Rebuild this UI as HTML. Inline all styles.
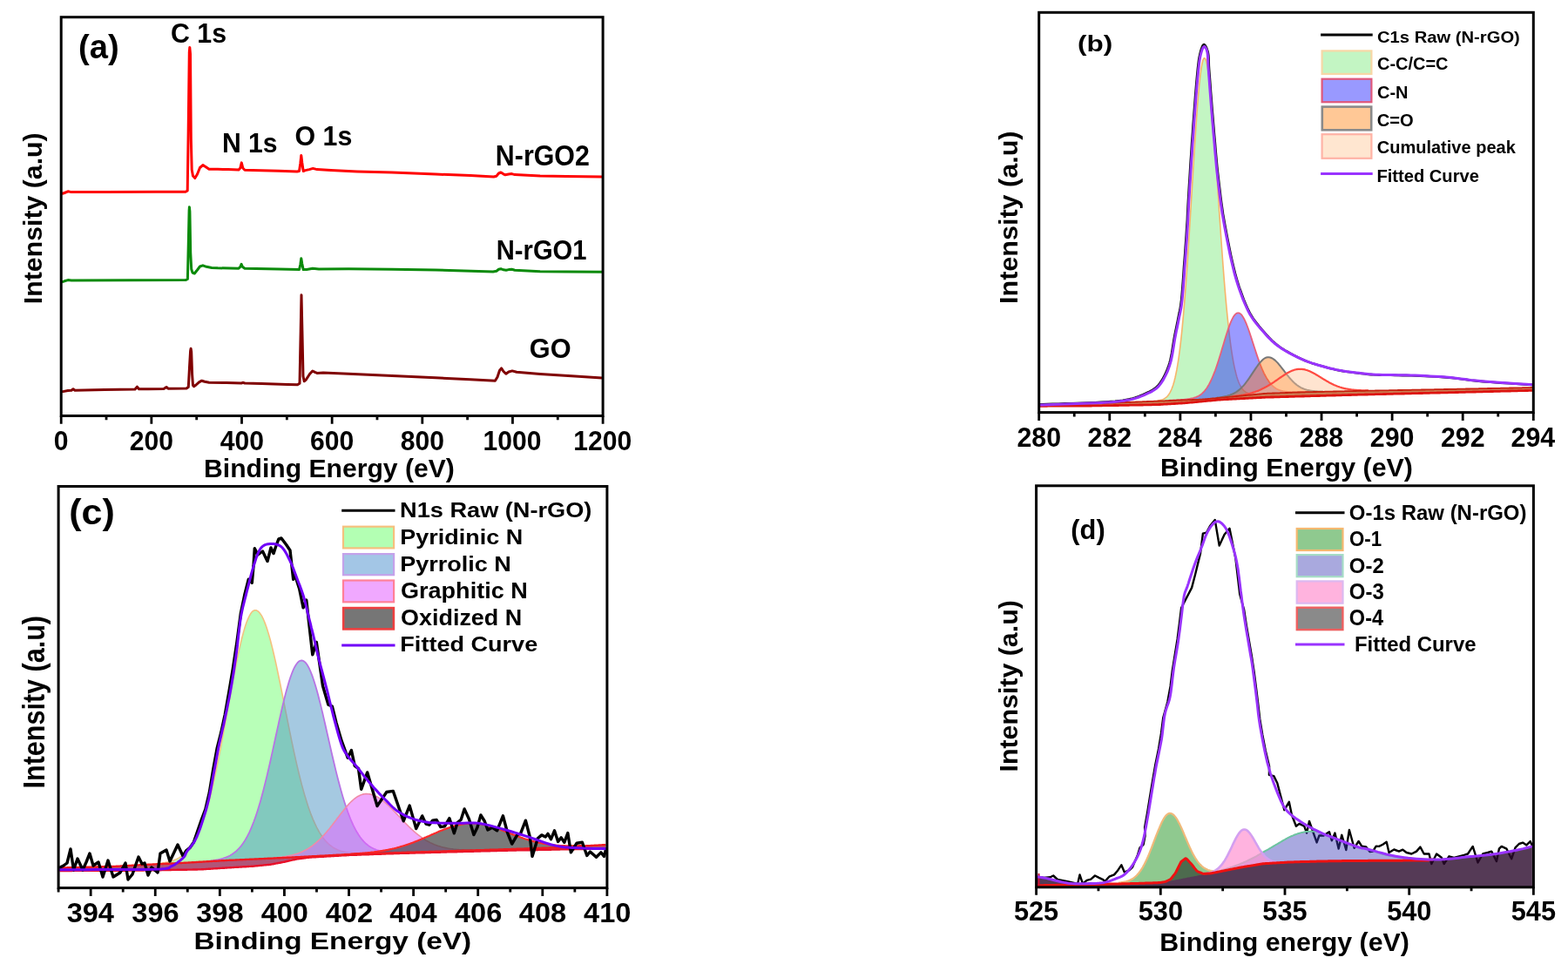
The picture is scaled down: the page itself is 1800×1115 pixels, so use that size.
<!DOCTYPE html>
<html><head><meta charset="utf-8"><title>XPS spectra</title>
<style>html,body{margin:0;padding:0;background:#fff;}svg{display:block;}</style></head>
<body><svg width="1800" height="1115" viewBox="0 0 1800 1115" font-family="'Liberation Sans', Arial, sans-serif" font-weight="bold">
<rect width="1800" height="1115" fill="#fff"/>
<path d="M71.0 222.5L74.0 221.5L78.0 219.8L82.0 220.6L120.0 220.5L180.0 220.3L213.0 220.2L215.2 219.0L216.2 150.0L217.3 60.0L217.8 54.5L218.5 62.0L219.3 160.0L220.2 195.0L221.5 202.0L223.8 204.6L226.5 200.0L229.5 192.5L232.9 189.6L236.0 191.5L240.0 194.3L244.0 194.2L250.0 194.3L262.0 194.6L274.0 195.0L275.8 193.0L277.3 186.9L278.8 193.0L281.0 195.2L300.0 195.8L320.0 196.3L341.0 196.9L343.5 196.5L344.8 188.0L345.8 178.4L346.8 187.0L348.2 196.5L350.4 195.6L355.0 194.6L359.3 193.4L364.0 194.6L380.0 195.6L410.0 196.9L450.0 198.0L500.0 200.0L540.0 201.6L566.7 203.0L570.0 202.2L572.5 199.0L575.0 198.0L577.5 199.6L580.0 200.8L584.0 200.0L587.5 199.6L591.0 200.6L620.0 202.0L650.0 202.5L691.0 203.0" fill="none" stroke="#ff0000" stroke-width="3.0" stroke-linejoin="round"/>
<path d="M71.0 323.8L74.0 322.8L78.0 321.6L82.0 322.0L150.0 321.8L213.0 321.6L215.4 320.5L216.3 280.0L217.1 242.0L217.4 237.8L217.9 243.0L218.7 290.0L219.7 309.0L221.0 313.0L223.3 314.0L226.5 310.0L229.5 306.0L232.9 304.8L237.0 306.3L243.0 307.4L250.0 307.8L274.0 308.2L275.8 306.5L277.1 303.4L278.5 306.5L281.0 308.3L320.0 309.0L343.5 309.6L344.8 304.0L345.8 296.8L346.8 303.0L348.2 309.6L352.0 309.5L359.0 308.3L366.0 308.9L400.0 308.7L450.0 309.2L500.0 310.0L566.0 312.0L570.0 311.2L572.5 309.3L575.0 308.7L578.0 309.8L581.0 310.2L584.0 309.6L587.5 309.2L591.0 310.2L620.0 311.7L650.0 311.9L691.0 312.2" fill="none" stroke="#0a8a0a" stroke-width="3.0" stroke-linejoin="round"/>
<path d="M71.0 449.9L78.0 448.5L82.0 448.3L84.0 446.8L86.0 448.3L120.0 447.5L155.0 447.0L157.4 444.2L159.5 446.8L170.0 446.8L188.0 446.4L191.0 444.5L193.0 446.2L214.0 446.0L216.3 444.5L217.6 420.0L218.6 403.0L219.1 400.3L219.7 404.0L220.6 430.0L221.5 442.5L222.6 443.7L225.0 442.0L228.5 438.8L231.6 437.2L235.0 438.3L240.0 439.2L260.0 439.6L277.0 440.0L279.0 439.3L281.0 440.0L300.0 440.5L330.0 441.5L341.5 441.8L344.0 440.2L345.2 380.0L346.0 338.7L346.9 380.0L348.0 432.0L349.2 437.8L351.5 435.8L355.5 429.5L358.8 426.0L361.5 427.4L363.9 428.4L371.1 427.9L400.0 429.2L450.0 431.5L500.0 433.8L540.0 435.8L568.4 437.2L571.0 433.0L573.5 425.5L575.6 422.9L578.0 426.5L580.8 429.3L584.0 427.0L588.0 425.9L593.1 427.3L620.0 429.5L660.0 432.0L691.0 434.1" fill="none" stroke="#800000" stroke-width="3.0" stroke-linejoin="round"/>
<rect x="70.2" y="19.7" width="621.9" height="457.8" fill="none" stroke="#000" stroke-width="3.0"/>
<path d="M70.2 477.5V486.8M173.85 477.5V486.8M277.5 477.5V486.8M381.15 477.5V486.8M484.8 477.5V486.8M588.45 477.5V486.8M692.1 477.5V486.8M122.03 477.5V482.3M225.68 477.5V482.3M329.32 477.5V482.3M432.97 477.5V482.3M536.62 477.5V482.3M640.28 477.5V482.3" stroke="#000" stroke-width="2.8" fill="none"/>
<text transform="translate(61.85,516.99) scale(0.9850,1)" font-size="30.56">0</text>
<text transform="translate(148.79,516.99) scale(0.9850,1)" font-size="30.56">200</text>
<text transform="translate(252.74,516.99) scale(0.9850,1)" font-size="30.56">400</text>
<text transform="translate(356.09,516.99) scale(0.9850,1)" font-size="30.56">600</text>
<text transform="translate(459.81,516.99) scale(0.9850,1)" font-size="30.56">800</text>
<text transform="translate(554.58,516.99) scale(0.9850,1)" font-size="30.56">1000</text>
<text transform="translate(658.23,516.99) scale(0.9850,1)" font-size="30.56">1200</text>
<text transform="translate(234.04,547.6) scale(0.9899,1)" font-size="30.43" fill="#000">Binding Energy (eV)</text>
<text transform="translate(47.59,349.17) rotate(-90) scale(1.0079,1)" font-size="30.05">Intensity (a.u)</text>
<text transform="translate(90.09,67.47) scale(0.9847,1)" font-size="38.72" fill="#000">(a)</text>
<text transform="translate(195.98,49.08) scale(0.9591,1)" font-size="31.69" fill="#000">C 1s</text>
<text transform="translate(254.94,174.79) scale(0.9689,1)" font-size="31.14" fill="#000">N 1s</text>
<text transform="translate(338.59,167.08) scale(0.9580,1)" font-size="31.69" fill="#000">O 1s</text>
<text transform="translate(568.83,189.67) scale(0.9337,1)" font-size="32.54" fill="#000">N-rGO2</text>
<text transform="translate(569.8,297.68) scale(0.9126,1)" font-size="31.97" fill="#000">N-rGO1</text>
<text transform="translate(607.87,410.59) scale(0.9912,1)" font-size="30.99" fill="#000">GO</text>
<path d="M1327.9 460.3L1328.9 460.2L1329.9 460.0L1330.9 459.8L1331.9 459.6L1332.9 459.4L1333.9 459.1L1334.9 458.7L1335.9 458.2L1336.9 457.6L1337.9 457.0L1338.9 456.2L1339.9 455.2L1340.9 454.1L1341.9 452.7L1342.9 451.1L1343.9 449.2L1344.9 447.0L1345.9 444.4L1346.9 441.4L1347.9 438.0L1348.9 434.0L1349.9 429.5L1350.9 424.5L1351.9 418.7L1352.9 412.3L1353.9 405.1L1354.9 397.1L1355.9 388.4L1356.9 378.8L1357.9 368.4L1358.9 357.1L1359.9 345.0L1360.9 332.1L1361.9 318.5L1362.9 304.1L1363.9 289.1L1364.9 273.5L1365.9 257.5L1366.9 241.2L1367.9 224.7L1368.9 208.2L1369.9 191.8L1370.9 175.7L1371.9 160.1L1372.9 145.2L1373.9 131.1L1374.9 118.0L1375.9 106.0L1376.9 95.5L1377.9 86.4L1378.9 78.9L1379.9 73.2L1380.9 69.2L1381.9 67.0L1382.9 66.7L1383.9 68.0L1384.9 71.0L1385.9 75.5L1386.9 81.5L1387.9 88.9L1388.9 97.6L1389.9 107.6L1390.9 118.7L1391.9 130.8L1392.9 143.7L1393.9 157.4L1394.9 171.6L1395.9 186.3L1396.9 201.2L1397.9 216.3L1398.9 231.5L1399.9 246.5L1400.9 261.3L1401.9 275.8L1402.9 289.9L1403.9 303.6L1404.9 316.6L1405.9 329.1L1406.9 340.9L1407.9 352.0L1408.9 362.4L1409.9 372.1L1410.9 381.1L1411.9 389.4L1412.9 397.0L1413.9 403.9L1414.9 410.1L1415.9 415.8L1416.9 420.8L1417.9 425.3L1418.9 429.3L1419.9 432.9L1420.9 436.0L1421.9 438.7L1422.9 441.0L1423.9 443.0L1424.9 444.8L1425.9 446.3L1426.9 447.5L1427.9 448.6L1428.9 449.4L1429.9 450.2L1430.9 450.8L1431.9 451.2L1432.9 451.6L1433.9 451.9L1434.9 452.2L1435.9 452.3L1436.9 452.5L1437.9 452.5L1438.9 452.6L1439.9 452.6L1440.9 452.6L1441.9 452.6L1441.9 452.9L1440.9 453.0L1439.9 453.1L1438.9 453.2L1437.9 453.3L1436.9 453.4L1435.9 453.5L1434.9 453.6L1433.9 453.7L1432.9 453.7L1431.9 453.8L1430.9 453.9L1429.9 454.0L1428.9 454.1L1427.9 454.2L1426.9 454.3L1425.9 454.4L1424.9 454.5L1423.9 454.6L1422.9 454.7L1421.9 454.8L1420.9 454.9L1419.9 455.0L1418.9 455.1L1417.9 455.2L1416.9 455.3L1415.9 455.4L1414.9 455.5L1413.9 455.5L1412.9 455.6L1411.9 455.7L1410.9 455.8L1409.9 455.9L1408.9 456.0L1407.9 456.1L1406.9 456.2L1405.9 456.3L1404.9 456.4L1403.9 456.4L1402.9 456.5L1401.9 456.6L1400.9 456.7L1399.9 456.8L1398.9 456.9L1397.9 457.0L1396.9 457.1L1395.9 457.2L1394.9 457.3L1393.9 457.3L1392.9 457.4L1391.9 457.5L1390.9 457.6L1389.9 457.7L1388.9 457.8L1387.9 457.9L1386.9 458.0L1385.9 458.1L1384.9 458.2L1383.9 458.2L1382.9 458.3L1381.9 458.4L1380.9 458.5L1379.9 458.6L1378.9 458.6L1377.9 458.7L1376.9 458.7L1375.9 458.8L1374.9 458.8L1373.9 458.8L1372.9 458.9L1371.9 458.9L1370.9 458.9L1369.9 459.0L1368.9 459.0L1367.9 459.1L1366.9 459.1L1365.9 459.1L1364.9 459.2L1363.9 459.2L1362.9 459.3L1361.9 459.3L1360.9 459.3L1359.9 459.4L1358.9 459.4L1357.9 459.4L1356.9 459.5L1355.9 459.5L1354.9 459.6L1353.9 459.6L1352.9 459.6L1351.9 459.7L1350.9 459.7L1349.9 459.8L1348.9 459.8L1347.9 459.8L1346.9 459.9L1345.9 459.9L1344.9 459.9L1343.9 460.0L1342.9 460.0L1341.9 460.1L1340.9 460.1L1339.9 460.1L1338.9 460.2L1337.9 460.2L1336.9 460.3L1335.9 460.3L1334.9 460.3L1333.9 460.4L1332.9 460.4L1331.9 460.4L1330.9 460.5L1329.9 460.5L1328.9 460.6L1327.9 460.6Z" fill="#c3f5c3" stroke="none" />
<path d="M1327.9 460.3L1328.9 460.2L1329.9 460.0L1330.9 459.8L1331.9 459.6L1332.9 459.4L1333.9 459.1L1334.9 458.7L1335.9 458.2L1336.9 457.6L1337.9 457.0L1338.9 456.2L1339.9 455.2L1340.9 454.1L1341.9 452.7L1342.9 451.1L1343.9 449.2L1344.9 447.0L1345.9 444.4L1346.9 441.4L1347.9 438.0L1348.9 434.0L1349.9 429.5L1350.9 424.5L1351.9 418.7L1352.9 412.3L1353.9 405.1L1354.9 397.1L1355.9 388.4L1356.9 378.8L1357.9 368.4L1358.9 357.1L1359.9 345.0L1360.9 332.1L1361.9 318.5L1362.9 304.1L1363.9 289.1L1364.9 273.5L1365.9 257.5L1366.9 241.2L1367.9 224.7L1368.9 208.2L1369.9 191.8L1370.9 175.7L1371.9 160.1L1372.9 145.2L1373.9 131.1L1374.9 118.0L1375.9 106.0L1376.9 95.5L1377.9 86.4L1378.9 78.9L1379.9 73.2L1380.9 69.2L1381.9 67.0L1382.9 66.7L1383.9 68.0L1384.9 71.0L1385.9 75.5L1386.9 81.5L1387.9 88.9L1388.9 97.6L1389.9 107.6L1390.9 118.7L1391.9 130.8L1392.9 143.7L1393.9 157.4L1394.9 171.6L1395.9 186.3L1396.9 201.2L1397.9 216.3L1398.9 231.5L1399.9 246.5L1400.9 261.3L1401.9 275.8L1402.9 289.9L1403.9 303.6L1404.9 316.6L1405.9 329.1L1406.9 340.9L1407.9 352.0L1408.9 362.4L1409.9 372.1L1410.9 381.1L1411.9 389.4L1412.9 397.0L1413.9 403.9L1414.9 410.1L1415.9 415.8L1416.9 420.8L1417.9 425.3L1418.9 429.3L1419.9 432.9L1420.9 436.0L1421.9 438.7L1422.9 441.0L1423.9 443.0L1424.9 444.8L1425.9 446.3L1426.9 447.5L1427.9 448.6L1428.9 449.4L1429.9 450.2L1430.9 450.8L1431.9 451.2L1432.9 451.6L1433.9 451.9L1434.9 452.2L1435.9 452.3L1436.9 452.5L1437.9 452.5L1438.9 452.6L1439.9 452.6L1440.9 452.6L1441.9 452.6" fill="none" stroke="#f6b56a" stroke-width="1.6" stroke-linejoin="round"/>
<path d="M1340.9 459.8L1341.9 459.8L1342.9 459.7L1343.9 459.7L1344.9 459.6L1345.9 459.6L1346.9 459.5L1347.9 459.5L1348.9 459.4L1349.9 459.4L1350.9 459.3L1351.9 459.2L1352.9 459.2L1353.9 459.1L1354.9 459.1L1355.9 459.0L1356.9 458.9L1357.9 458.9L1358.9 458.8L1359.9 458.7L1360.9 458.6L1361.9 458.5L1362.9 458.4L1363.9 458.2L1364.9 458.1L1365.9 457.9L1366.9 457.7L1367.9 457.5L1368.9 457.3L1369.9 457.0L1370.9 456.7L1371.9 456.4L1372.9 456.1L1373.9 455.6L1374.9 455.2L1375.9 454.7L1376.9 454.1L1377.9 453.4L1378.9 452.7L1379.9 451.9L1380.9 450.9L1381.9 449.9L1382.9 448.8L1383.9 447.5L1384.9 446.2L1385.9 444.7L1386.9 443.1L1387.9 441.4L1388.9 439.5L1389.9 437.5L1390.9 435.4L1391.9 433.1L1392.9 430.7L1393.9 428.2L1394.9 425.6L1395.9 422.8L1396.9 419.9L1397.9 416.9L1398.9 413.8L1399.9 410.6L1400.9 407.3L1401.9 404.0L1402.9 400.6L1403.9 397.3L1404.9 393.9L1405.9 390.6L1406.9 387.3L1407.9 384.1L1408.9 380.9L1409.9 377.9L1410.9 375.1L1411.9 372.4L1412.9 369.9L1413.9 367.6L1414.9 365.6L1415.9 363.8L1416.9 362.3L1417.9 361.1L1418.9 360.2L1419.9 359.6L1420.9 359.3L1421.9 359.3L1422.9 359.7L1423.9 360.3L1424.9 361.2L1425.9 362.4L1426.9 363.9L1427.9 365.7L1428.9 367.6L1429.9 369.8L1430.9 372.2L1431.9 374.8L1432.9 377.5L1433.9 380.3L1434.9 383.3L1435.9 386.3L1436.9 389.4L1437.9 392.5L1438.9 395.6L1439.9 398.7L1440.9 401.8L1441.9 404.9L1442.9 407.9L1443.9 410.8L1444.9 413.6L1445.9 416.4L1446.9 419.0L1447.9 421.5L1448.9 423.9L1449.9 426.1L1450.9 428.3L1451.9 430.3L1452.9 432.1L1453.9 433.9L1454.9 435.6L1455.9 437.1L1456.9 438.6L1457.9 439.9L1458.9 441.1L1459.9 442.2L1460.9 443.1L1461.9 444.0L1462.9 444.8L1463.9 445.5L1464.9 446.2L1465.9 446.7L1466.9 447.2L1467.9 447.7L1468.9 448.1L1469.9 448.4L1470.9 448.7L1471.9 448.9L1472.9 449.2L1473.9 449.3L1474.9 449.5L1475.9 449.6L1476.9 449.7L1477.9 449.8L1478.9 449.9L1479.9 450.0L1480.9 450.0L1481.9 450.0L1482.9 450.1L1483.9 450.1L1484.9 450.1L1485.9 450.1L1486.9 450.1L1487.9 450.1L1488.9 450.1L1489.9 450.1L1490.9 450.1L1491.9 450.1L1492.9 450.0L1493.9 450.0L1494.9 450.0L1495.9 450.0L1496.9 450.0L1497.9 449.9L1498.9 449.9L1499.9 449.9L1500.9 449.9L1501.9 449.9L1502.9 449.8L1502.9 450.1L1501.9 450.2L1500.9 450.2L1499.9 450.2L1498.9 450.2L1497.9 450.3L1496.9 450.3L1495.9 450.3L1494.9 450.4L1493.9 450.4L1492.9 450.4L1491.9 450.5L1490.9 450.5L1489.9 450.5L1488.9 450.6L1487.9 450.6L1486.9 450.6L1485.9 450.7L1484.9 450.7L1483.9 450.7L1482.9 450.8L1481.9 450.8L1480.9 450.9L1479.9 450.9L1478.9 450.9L1477.9 451.0L1476.9 451.0L1475.9 451.0L1474.9 451.1L1473.9 451.1L1472.9 451.1L1471.9 451.2L1470.9 451.2L1469.9 451.2L1468.9 451.3L1467.9 451.3L1466.9 451.3L1465.9 451.4L1464.9 451.4L1463.9 451.4L1462.9 451.5L1461.9 451.5L1460.9 451.5L1459.9 451.6L1458.9 451.6L1457.9 451.6L1456.9 451.7L1455.9 451.7L1454.9 451.7L1453.9 451.8L1452.9 451.8L1451.9 451.9L1450.9 452.0L1449.9 452.1L1448.9 452.2L1447.9 452.3L1446.9 452.4L1445.9 452.5L1444.9 452.6L1443.9 452.7L1442.9 452.8L1441.9 452.9L1440.9 453.0L1439.9 453.1L1438.9 453.2L1437.9 453.3L1436.9 453.4L1435.9 453.5L1434.9 453.6L1433.9 453.7L1432.9 453.7L1431.9 453.8L1430.9 453.9L1429.9 454.0L1428.9 454.1L1427.9 454.2L1426.9 454.3L1425.9 454.4L1424.9 454.5L1423.9 454.6L1422.9 454.7L1421.9 454.8L1420.9 454.9L1419.9 455.0L1418.9 455.1L1417.9 455.2L1416.9 455.3L1415.9 455.4L1414.9 455.5L1413.9 455.5L1412.9 455.6L1411.9 455.7L1410.9 455.8L1409.9 455.9L1408.9 456.0L1407.9 456.1L1406.9 456.2L1405.9 456.3L1404.9 456.4L1403.9 456.4L1402.9 456.5L1401.9 456.6L1400.9 456.7L1399.9 456.8L1398.9 456.9L1397.9 457.0L1396.9 457.1L1395.9 457.2L1394.9 457.3L1393.9 457.3L1392.9 457.4L1391.9 457.5L1390.9 457.6L1389.9 457.7L1388.9 457.8L1387.9 457.9L1386.9 458.0L1385.9 458.1L1384.9 458.2L1383.9 458.2L1382.9 458.3L1381.9 458.4L1380.9 458.5L1379.9 458.6L1378.9 458.6L1377.9 458.7L1376.9 458.7L1375.9 458.8L1374.9 458.8L1373.9 458.8L1372.9 458.9L1371.9 458.9L1370.9 458.9L1369.9 459.0L1368.9 459.0L1367.9 459.1L1366.9 459.1L1365.9 459.1L1364.9 459.2L1363.9 459.2L1362.9 459.3L1361.9 459.3L1360.9 459.3L1359.9 459.4L1358.9 459.4L1357.9 459.4L1356.9 459.5L1355.9 459.5L1354.9 459.6L1353.9 459.6L1352.9 459.6L1351.9 459.7L1350.9 459.7L1349.9 459.8L1348.9 459.8L1347.9 459.8L1346.9 459.9L1345.9 459.9L1344.9 459.9L1343.9 460.0L1342.9 460.0L1341.9 460.1L1340.9 460.1Z" fill="rgba(30,30,255,0.45)" stroke="none" />
<path d="M1340.9 459.8L1341.9 459.8L1342.9 459.7L1343.9 459.7L1344.9 459.6L1345.9 459.6L1346.9 459.5L1347.9 459.5L1348.9 459.4L1349.9 459.4L1350.9 459.3L1351.9 459.2L1352.9 459.2L1353.9 459.1L1354.9 459.1L1355.9 459.0L1356.9 458.9L1357.9 458.9L1358.9 458.8L1359.9 458.7L1360.9 458.6L1361.9 458.5L1362.9 458.4L1363.9 458.2L1364.9 458.1L1365.9 457.9L1366.9 457.7L1367.9 457.5L1368.9 457.3L1369.9 457.0L1370.9 456.7L1371.9 456.4L1372.9 456.1L1373.9 455.6L1374.9 455.2L1375.9 454.7L1376.9 454.1L1377.9 453.4L1378.9 452.7L1379.9 451.9L1380.9 450.9L1381.9 449.9L1382.9 448.8L1383.9 447.5L1384.9 446.2L1385.9 444.7L1386.9 443.1L1387.9 441.4L1388.9 439.5L1389.9 437.5L1390.9 435.4L1391.9 433.1L1392.9 430.7L1393.9 428.2L1394.9 425.6L1395.9 422.8L1396.9 419.9L1397.9 416.9L1398.9 413.8L1399.9 410.6L1400.9 407.3L1401.9 404.0L1402.9 400.6L1403.9 397.3L1404.9 393.9L1405.9 390.6L1406.9 387.3L1407.9 384.1L1408.9 380.9L1409.9 377.9L1410.9 375.1L1411.9 372.4L1412.9 369.9L1413.9 367.6L1414.9 365.6L1415.9 363.8L1416.9 362.3L1417.9 361.1L1418.9 360.2L1419.9 359.6L1420.9 359.3L1421.9 359.3L1422.9 359.7L1423.9 360.3L1424.9 361.2L1425.9 362.4L1426.9 363.9L1427.9 365.7L1428.9 367.6L1429.9 369.8L1430.9 372.2L1431.9 374.8L1432.9 377.5L1433.9 380.3L1434.9 383.3L1435.9 386.3L1436.9 389.4L1437.9 392.5L1438.9 395.6L1439.9 398.7L1440.9 401.8L1441.9 404.9L1442.9 407.9L1443.9 410.8L1444.9 413.6L1445.9 416.4L1446.9 419.0L1447.9 421.5L1448.9 423.9L1449.9 426.1L1450.9 428.3L1451.9 430.3L1452.9 432.1L1453.9 433.9L1454.9 435.6L1455.9 437.1L1456.9 438.6L1457.9 439.9L1458.9 441.1L1459.9 442.2L1460.9 443.1L1461.9 444.0L1462.9 444.8L1463.9 445.5L1464.9 446.2L1465.9 446.7L1466.9 447.2L1467.9 447.7L1468.9 448.1L1469.9 448.4L1470.9 448.7L1471.9 448.9L1472.9 449.2L1473.9 449.3L1474.9 449.5L1475.9 449.6L1476.9 449.7L1477.9 449.8L1478.9 449.9L1479.9 450.0L1480.9 450.0L1481.9 450.0L1482.9 450.1L1483.9 450.1L1484.9 450.1L1485.9 450.1L1486.9 450.1L1487.9 450.1L1488.9 450.1L1489.9 450.1L1490.9 450.1L1491.9 450.1L1492.9 450.0L1493.9 450.0L1494.9 450.0L1495.9 450.0L1496.9 450.0L1497.9 449.9L1498.9 449.9L1499.9 449.9L1500.9 449.9L1501.9 449.9L1502.9 449.8" fill="none" stroke="#e8607a" stroke-width="1.8" stroke-linejoin="round"/>
<path d="M1395.9 456.9L1396.9 456.8L1397.9 456.6L1398.9 456.5L1399.9 456.4L1400.9 456.2L1401.9 456.1L1402.9 455.9L1403.9 455.7L1404.9 455.5L1405.9 455.3L1406.9 455.1L1407.9 454.9L1408.9 454.6L1409.9 454.3L1410.9 454.0L1411.9 453.7L1412.9 453.3L1413.9 452.9L1414.9 452.5L1415.9 452.0L1416.9 451.5L1417.9 450.9L1418.9 450.3L1419.9 449.6L1420.9 448.9L1421.9 448.1L1422.9 447.3L1423.9 446.4L1424.9 445.5L1425.9 444.4L1426.9 443.4L1427.9 442.3L1428.9 441.1L1429.9 439.8L1430.9 438.5L1431.9 437.2L1432.9 435.8L1433.9 434.4L1434.9 432.9L1435.9 431.4L1436.9 429.9L1437.9 428.4L1438.9 426.9L1439.9 425.4L1440.9 423.9L1441.9 422.4L1442.9 421.0L1443.9 419.6L1444.9 418.2L1445.9 417.0L1446.9 415.8L1447.9 414.7L1448.9 413.7L1449.9 412.8L1450.9 412.0L1451.9 411.3L1452.9 410.8L1453.9 410.5L1454.9 410.3L1455.9 410.2L1456.9 410.3L1457.9 410.4L1458.9 410.8L1459.9 411.2L1460.9 411.7L1461.9 412.4L1462.9 413.1L1463.9 413.9L1464.9 414.9L1465.9 415.9L1466.9 416.9L1467.9 418.1L1468.9 419.3L1469.9 420.5L1470.9 421.8L1471.9 423.1L1472.9 424.4L1473.9 425.7L1474.9 427.0L1475.9 428.3L1476.9 429.6L1477.9 430.9L1478.9 432.1L1479.9 433.3L1480.9 434.5L1481.9 435.6L1482.9 436.7L1483.9 437.8L1484.9 438.8L1485.9 439.7L1486.9 440.6L1487.9 441.4L1488.9 442.2L1489.9 442.9L1490.9 443.6L1491.9 444.2L1492.9 444.8L1493.9 445.3L1494.9 445.8L1495.9 446.2L1496.9 446.6L1497.9 447.0L1498.9 447.3L1499.9 447.6L1500.9 447.9L1501.9 448.1L1502.9 448.3L1503.9 448.5L1504.9 448.7L1505.9 448.8L1506.9 448.9L1507.9 449.1L1508.9 449.1L1509.9 449.2L1510.9 449.3L1511.9 449.3L1512.9 449.4L1513.9 449.4L1514.9 449.4L1515.9 449.5L1516.9 449.5L1517.9 449.5L1518.9 449.5L1518.9 449.8L1517.9 449.8L1516.9 449.8L1515.9 449.9L1514.9 449.9L1513.9 449.9L1512.9 449.9L1511.9 449.9L1510.9 450.0L1509.9 450.0L1508.9 450.0L1507.9 450.0L1506.9 450.1L1505.9 450.1L1504.9 450.1L1503.9 450.1L1502.9 450.1L1501.9 450.2L1500.9 450.2L1499.9 450.2L1498.9 450.2L1497.9 450.3L1496.9 450.3L1495.9 450.3L1494.9 450.4L1493.9 450.4L1492.9 450.4L1491.9 450.5L1490.9 450.5L1489.9 450.5L1488.9 450.6L1487.9 450.6L1486.9 450.6L1485.9 450.7L1484.9 450.7L1483.9 450.7L1482.9 450.8L1481.9 450.8L1480.9 450.9L1479.9 450.9L1478.9 450.9L1477.9 451.0L1476.9 451.0L1475.9 451.0L1474.9 451.1L1473.9 451.1L1472.9 451.1L1471.9 451.2L1470.9 451.2L1469.9 451.2L1468.9 451.3L1467.9 451.3L1466.9 451.3L1465.9 451.4L1464.9 451.4L1463.9 451.4L1462.9 451.5L1461.9 451.5L1460.9 451.5L1459.9 451.6L1458.9 451.6L1457.9 451.6L1456.9 451.7L1455.9 451.7L1454.9 451.7L1453.9 451.8L1452.9 451.8L1451.9 451.9L1450.9 452.0L1449.9 452.1L1448.9 452.2L1447.9 452.3L1446.9 452.4L1445.9 452.5L1444.9 452.6L1443.9 452.7L1442.9 452.8L1441.9 452.9L1440.9 453.0L1439.9 453.1L1438.9 453.2L1437.9 453.3L1436.9 453.4L1435.9 453.5L1434.9 453.6L1433.9 453.7L1432.9 453.7L1431.9 453.8L1430.9 453.9L1429.9 454.0L1428.9 454.1L1427.9 454.2L1426.9 454.3L1425.9 454.4L1424.9 454.5L1423.9 454.6L1422.9 454.7L1421.9 454.8L1420.9 454.9L1419.9 455.0L1418.9 455.1L1417.9 455.2L1416.9 455.3L1415.9 455.4L1414.9 455.5L1413.9 455.5L1412.9 455.6L1411.9 455.7L1410.9 455.8L1409.9 455.9L1408.9 456.0L1407.9 456.1L1406.9 456.2L1405.9 456.3L1404.9 456.4L1403.9 456.4L1402.9 456.5L1401.9 456.6L1400.9 456.7L1399.9 456.8L1398.9 456.9L1397.9 457.0L1396.9 457.1L1395.9 457.2Z" fill="rgba(255,120,10,0.42)" stroke="none" />
<path d="M1395.9 456.9L1396.9 456.8L1397.9 456.6L1398.9 456.5L1399.9 456.4L1400.9 456.2L1401.9 456.1L1402.9 455.9L1403.9 455.7L1404.9 455.5L1405.9 455.3L1406.9 455.1L1407.9 454.9L1408.9 454.6L1409.9 454.3L1410.9 454.0L1411.9 453.7L1412.9 453.3L1413.9 452.9L1414.9 452.5L1415.9 452.0L1416.9 451.5L1417.9 450.9L1418.9 450.3L1419.9 449.6L1420.9 448.9L1421.9 448.1L1422.9 447.3L1423.9 446.4L1424.9 445.5L1425.9 444.4L1426.9 443.4L1427.9 442.3L1428.9 441.1L1429.9 439.8L1430.9 438.5L1431.9 437.2L1432.9 435.8L1433.9 434.4L1434.9 432.9L1435.9 431.4L1436.9 429.9L1437.9 428.4L1438.9 426.9L1439.9 425.4L1440.9 423.9L1441.9 422.4L1442.9 421.0L1443.9 419.6L1444.9 418.2L1445.9 417.0L1446.9 415.8L1447.9 414.7L1448.9 413.7L1449.9 412.8L1450.9 412.0L1451.9 411.3L1452.9 410.8L1453.9 410.5L1454.9 410.3L1455.9 410.2L1456.9 410.3L1457.9 410.4L1458.9 410.8L1459.9 411.2L1460.9 411.7L1461.9 412.4L1462.9 413.1L1463.9 413.9L1464.9 414.9L1465.9 415.9L1466.9 416.9L1467.9 418.1L1468.9 419.3L1469.9 420.5L1470.9 421.8L1471.9 423.1L1472.9 424.4L1473.9 425.7L1474.9 427.0L1475.9 428.3L1476.9 429.6L1477.9 430.9L1478.9 432.1L1479.9 433.3L1480.9 434.5L1481.9 435.6L1482.9 436.7L1483.9 437.8L1484.9 438.8L1485.9 439.7L1486.9 440.6L1487.9 441.4L1488.9 442.2L1489.9 442.9L1490.9 443.6L1491.9 444.2L1492.9 444.8L1493.9 445.3L1494.9 445.8L1495.9 446.2L1496.9 446.6L1497.9 447.0L1498.9 447.3L1499.9 447.6L1500.9 447.9L1501.9 448.1L1502.9 448.3L1503.9 448.5L1504.9 448.7L1505.9 448.8L1506.9 448.9L1507.9 449.1L1508.9 449.1L1509.9 449.2L1510.9 449.3L1511.9 449.3L1512.9 449.4L1513.9 449.4L1514.9 449.4L1515.9 449.5L1516.9 449.5L1517.9 449.5L1518.9 449.5" fill="none" stroke="#777" stroke-width="2.0" stroke-linejoin="round"/>
<path d="M1414.9 455.2L1415.9 455.1L1416.9 454.9L1417.9 454.8L1418.9 454.7L1419.9 454.6L1420.9 454.4L1421.9 454.3L1422.9 454.1L1423.9 454.0L1424.9 453.8L1425.9 453.7L1426.9 453.5L1427.9 453.3L1428.9 453.1L1429.9 452.9L1430.9 452.7L1431.9 452.5L1432.9 452.3L1433.9 452.0L1434.9 451.8L1435.9 451.5L1436.9 451.2L1437.9 450.9L1438.9 450.6L1439.9 450.3L1440.9 450.0L1441.9 449.6L1442.9 449.2L1443.9 448.9L1444.9 448.4L1445.9 448.0L1446.9 447.6L1447.9 447.1L1448.9 446.6L1449.9 446.1L1450.9 445.6L1451.9 445.0L1452.9 444.5L1453.9 443.9L1454.9 443.4L1455.9 442.8L1456.9 442.2L1457.9 441.6L1458.9 441.0L1459.9 440.4L1460.9 439.7L1461.9 439.1L1462.9 438.4L1463.9 437.7L1464.9 437.0L1465.9 436.3L1466.9 435.6L1467.9 434.9L1468.9 434.2L1469.9 433.5L1470.9 432.8L1471.9 432.1L1472.9 431.5L1473.9 430.8L1474.9 430.2L1475.9 429.5L1476.9 428.9L1477.9 428.3L1478.9 427.8L1479.9 427.2L1480.9 426.7L1481.9 426.3L1482.9 425.8L1483.9 425.4L1484.9 425.1L1485.9 424.7L1486.9 424.5L1487.9 424.2L1488.9 424.1L1489.9 423.9L1490.9 423.8L1491.9 423.8L1492.9 423.8L1493.9 423.8L1494.9 423.9L1495.9 424.1L1496.9 424.2L1497.9 424.4L1498.9 424.7L1499.9 425.0L1500.9 425.3L1501.9 425.7L1502.9 426.1L1503.9 426.5L1504.9 427.0L1505.9 427.5L1506.9 428.0L1507.9 428.5L1508.9 429.1L1509.9 429.6L1510.9 430.2L1511.9 430.8L1512.9 431.4L1513.9 432.0L1514.9 432.6L1515.9 433.2L1516.9 433.9L1517.9 434.5L1518.9 435.1L1519.9 435.7L1520.9 436.3L1521.9 436.9L1522.9 437.5L1523.9 438.1L1524.9 438.6L1525.9 439.2L1526.9 439.7L1527.9 440.2L1528.9 440.7L1529.9 441.2L1530.9 441.7L1531.9 442.2L1532.9 442.6L1533.9 443.0L1534.9 443.4L1535.9 443.8L1536.9 444.1L1537.9 444.5L1538.9 444.8L1539.9 445.1L1540.9 445.4L1541.9 445.6L1542.9 445.9L1543.9 446.1L1544.9 446.3L1545.9 446.5L1546.9 446.7L1547.9 446.9L1548.9 447.1L1549.9 447.2L1550.9 447.3L1551.9 447.5L1552.9 447.6L1553.9 447.7L1554.9 447.8L1555.9 447.9L1556.9 447.9L1557.9 448.0L1558.9 448.1L1559.9 448.1L1560.9 448.2L1561.9 448.2L1562.9 448.3L1563.9 448.3L1564.9 448.3L1565.9 448.3L1566.9 448.4L1567.9 448.4L1568.9 448.4L1569.9 448.4L1570.9 448.4L1570.9 448.7L1569.9 448.7L1568.9 448.7L1567.9 448.7L1566.9 448.8L1565.9 448.8L1564.9 448.8L1563.9 448.8L1562.9 448.8L1561.9 448.9L1560.9 448.9L1559.9 448.9L1558.9 448.9L1557.9 448.9L1556.9 449.0L1555.9 449.0L1554.9 449.0L1553.9 449.0L1552.9 449.1L1551.9 449.1L1550.9 449.1L1549.9 449.1L1548.9 449.1L1547.9 449.2L1546.9 449.2L1545.9 449.2L1544.9 449.2L1543.9 449.2L1542.9 449.3L1541.9 449.3L1540.9 449.3L1539.9 449.3L1538.9 449.4L1537.9 449.4L1536.9 449.4L1535.9 449.4L1534.9 449.4L1533.9 449.5L1532.9 449.5L1531.9 449.5L1530.9 449.5L1529.9 449.6L1528.9 449.6L1527.9 449.6L1526.9 449.6L1525.9 449.6L1524.9 449.7L1523.9 449.7L1522.9 449.7L1521.9 449.7L1520.9 449.7L1519.9 449.8L1518.9 449.8L1517.9 449.8L1516.9 449.8L1515.9 449.9L1514.9 449.9L1513.9 449.9L1512.9 449.9L1511.9 449.9L1510.9 450.0L1509.9 450.0L1508.9 450.0L1507.9 450.0L1506.9 450.1L1505.9 450.1L1504.9 450.1L1503.9 450.1L1502.9 450.1L1501.9 450.2L1500.9 450.2L1499.9 450.2L1498.9 450.2L1497.9 450.3L1496.9 450.3L1495.9 450.3L1494.9 450.4L1493.9 450.4L1492.9 450.4L1491.9 450.5L1490.9 450.5L1489.9 450.5L1488.9 450.6L1487.9 450.6L1486.9 450.6L1485.9 450.7L1484.9 450.7L1483.9 450.7L1482.9 450.8L1481.9 450.8L1480.9 450.9L1479.9 450.9L1478.9 450.9L1477.9 451.0L1476.9 451.0L1475.9 451.0L1474.9 451.1L1473.9 451.1L1472.9 451.1L1471.9 451.2L1470.9 451.2L1469.9 451.2L1468.9 451.3L1467.9 451.3L1466.9 451.3L1465.9 451.4L1464.9 451.4L1463.9 451.4L1462.9 451.5L1461.9 451.5L1460.9 451.5L1459.9 451.6L1458.9 451.6L1457.9 451.6L1456.9 451.7L1455.9 451.7L1454.9 451.7L1453.9 451.8L1452.9 451.8L1451.9 451.9L1450.9 452.0L1449.9 452.1L1448.9 452.2L1447.9 452.3L1446.9 452.4L1445.9 452.5L1444.9 452.6L1443.9 452.7L1442.9 452.8L1441.9 452.9L1440.9 453.0L1439.9 453.1L1438.9 453.2L1437.9 453.3L1436.9 453.4L1435.9 453.5L1434.9 453.6L1433.9 453.7L1432.9 453.7L1431.9 453.8L1430.9 453.9L1429.9 454.0L1428.9 454.1L1427.9 454.2L1426.9 454.3L1425.9 454.4L1424.9 454.5L1423.9 454.6L1422.9 454.7L1421.9 454.8L1420.9 454.9L1419.9 455.0L1418.9 455.1L1417.9 455.2L1416.9 455.3L1415.9 455.4L1414.9 455.5Z" fill="rgba(255,195,150,0.45)" stroke="none" />
<path d="M1414.9 455.2L1415.9 455.1L1416.9 454.9L1417.9 454.8L1418.9 454.7L1419.9 454.6L1420.9 454.4L1421.9 454.3L1422.9 454.1L1423.9 454.0L1424.9 453.8L1425.9 453.7L1426.9 453.5L1427.9 453.3L1428.9 453.1L1429.9 452.9L1430.9 452.7L1431.9 452.5L1432.9 452.3L1433.9 452.0L1434.9 451.8L1435.9 451.5L1436.9 451.2L1437.9 450.9L1438.9 450.6L1439.9 450.3L1440.9 450.0L1441.9 449.6L1442.9 449.2L1443.9 448.9L1444.9 448.4L1445.9 448.0L1446.9 447.6L1447.9 447.1L1448.9 446.6L1449.9 446.1L1450.9 445.6L1451.9 445.0L1452.9 444.5L1453.9 443.9L1454.9 443.4L1455.9 442.8L1456.9 442.2L1457.9 441.6L1458.9 441.0L1459.9 440.4L1460.9 439.7L1461.9 439.1L1462.9 438.4L1463.9 437.7L1464.9 437.0L1465.9 436.3L1466.9 435.6L1467.9 434.9L1468.9 434.2L1469.9 433.5L1470.9 432.8L1471.9 432.1L1472.9 431.5L1473.9 430.8L1474.9 430.2L1475.9 429.5L1476.9 428.9L1477.9 428.3L1478.9 427.8L1479.9 427.2L1480.9 426.7L1481.9 426.3L1482.9 425.8L1483.9 425.4L1484.9 425.1L1485.9 424.7L1486.9 424.5L1487.9 424.2L1488.9 424.1L1489.9 423.9L1490.9 423.8L1491.9 423.8L1492.9 423.8L1493.9 423.8L1494.9 423.9L1495.9 424.1L1496.9 424.2L1497.9 424.4L1498.9 424.7L1499.9 425.0L1500.9 425.3L1501.9 425.7L1502.9 426.1L1503.9 426.5L1504.9 427.0L1505.9 427.5L1506.9 428.0L1507.9 428.5L1508.9 429.1L1509.9 429.6L1510.9 430.2L1511.9 430.8L1512.9 431.4L1513.9 432.0L1514.9 432.6L1515.9 433.2L1516.9 433.9L1517.9 434.5L1518.9 435.1L1519.9 435.7L1520.9 436.3L1521.9 436.9L1522.9 437.5L1523.9 438.1L1524.9 438.6L1525.9 439.2L1526.9 439.7L1527.9 440.2L1528.9 440.7L1529.9 441.2L1530.9 441.7L1531.9 442.2L1532.9 442.6L1533.9 443.0L1534.9 443.4L1535.9 443.8L1536.9 444.1L1537.9 444.5L1538.9 444.8L1539.9 445.1L1540.9 445.4L1541.9 445.6L1542.9 445.9L1543.9 446.1L1544.9 446.3L1545.9 446.5L1546.9 446.7L1547.9 446.9L1548.9 447.1L1549.9 447.2L1550.9 447.3L1551.9 447.5L1552.9 447.6L1553.9 447.7L1554.9 447.8L1555.9 447.9L1556.9 447.9L1557.9 448.0L1558.9 448.1L1559.9 448.1L1560.9 448.2L1561.9 448.2L1562.9 448.3L1563.9 448.3L1564.9 448.3L1565.9 448.3L1566.9 448.4L1567.9 448.4L1568.9 448.4L1569.9 448.4L1570.9 448.4" fill="none" stroke="#ff4a40" stroke-width="2.2" stroke-linejoin="round"/>
<path d="M1193.9 466.3L1194.9 466.3L1195.9 466.3L1196.9 466.3L1197.9 466.3L1198.9 466.3L1199.9 466.3L1200.9 466.3L1201.9 466.3L1202.9 466.2L1203.9 466.2L1204.9 466.2L1205.9 466.2L1206.9 466.2L1207.9 466.2L1208.9 466.2L1209.9 466.2L1210.9 466.2L1211.9 466.2L1212.9 466.2L1213.9 466.2L1214.9 466.2L1215.9 466.2L1216.9 466.2L1217.9 466.2L1218.9 466.2L1219.9 466.2L1220.9 466.2L1221.9 466.1L1222.9 466.1L1223.9 466.1L1224.9 466.1L1225.9 466.1L1226.9 466.1L1227.9 466.1L1228.9 466.1L1229.9 466.1L1230.9 466.1L1231.9 466.1L1232.9 466.1L1233.9 466.1L1234.9 466.1L1235.9 466.1L1236.9 466.1L1237.9 466.1L1238.9 466.1L1239.9 466.1L1240.9 466.0L1241.9 466.0L1242.9 466.0L1243.9 466.0L1244.9 466.0L1245.9 466.0L1246.9 466.0L1247.9 466.0L1248.9 466.0L1249.9 466.0L1250.9 466.0L1251.9 466.0L1252.9 466.0L1253.9 465.9L1254.9 465.9L1255.9 465.9L1256.9 465.9L1257.9 465.9L1258.9 465.9L1259.9 465.8L1260.9 465.8L1261.9 465.8L1262.9 465.8L1263.9 465.8L1264.9 465.8L1265.9 465.7L1266.9 465.7L1267.9 465.7L1268.9 465.7L1269.9 465.7L1270.9 465.7L1271.9 465.6L1272.9 465.6L1273.9 465.6L1274.9 465.6L1275.9 465.6L1276.9 465.6L1277.9 465.6L1278.9 465.5L1279.9 465.5L1280.9 465.5L1281.9 465.5L1282.9 465.5L1283.9 465.5L1284.9 465.4L1285.9 465.4L1286.9 465.4L1287.9 465.4L1288.9 465.4L1289.9 465.4L1290.9 465.3L1291.9 465.3L1292.9 465.3L1293.9 465.3L1294.9 465.3L1295.9 465.3L1296.9 465.2L1297.9 465.2L1298.9 465.2L1299.9 465.2L1300.9 465.2L1301.9 465.2L1302.9 465.1L1303.9 465.1L1304.9 465.1L1305.9 465.1L1306.9 465.1L1307.9 465.0L1308.9 465.0L1309.9 465.0L1310.9 465.0L1311.9 465.0L1312.9 464.9L1313.9 464.9L1314.9 464.9L1315.9 464.9L1316.9 464.9L1317.9 464.8L1318.9 464.8L1319.9 464.8L1320.9 464.8L1321.9 464.8L1322.9 464.7L1323.9 464.7L1324.9 464.7L1325.9 464.7L1326.9 464.7L1327.9 464.6L1328.9 464.6L1329.9 464.6L1330.9 464.5L1331.9 464.5L1332.9 464.4L1333.9 464.4L1334.9 464.3L1335.9 464.2L1336.9 464.2L1337.9 464.1L1338.9 464.1L1339.9 464.0L1340.9 463.9L1341.9 463.9L1342.9 463.8L1343.9 463.8L1344.9 463.7L1345.9 463.6L1346.9 463.6L1347.9 463.5L1348.9 463.5L1349.9 463.4L1350.9 463.3L1351.9 463.3L1352.9 463.2L1353.9 463.2L1354.9 463.1L1355.9 463.0L1356.9 463.0L1357.9 462.9L1358.9 462.9L1359.9 462.8L1360.9 462.7L1361.9 462.6L1362.9 462.5L1363.9 462.4L1364.9 462.3L1365.9 462.2L1366.9 462.1L1367.9 462.0L1368.9 462.0L1369.9 461.9L1370.9 461.8L1371.9 461.7L1372.9 461.6L1373.9 461.5L1374.9 461.4L1375.9 461.3L1376.9 461.2L1377.9 461.1L1378.9 461.0L1379.9 460.9L1380.9 460.8L1381.9 460.7L1382.9 460.6L1383.9 460.5L1384.9 460.4L1385.9 460.3L1386.9 460.2L1387.9 460.1L1388.9 460.1L1389.9 460.0L1390.9 459.9L1391.9 459.8L1392.9 459.7L1393.9 459.6L1394.9 459.5L1395.9 459.4L1396.9 459.3L1397.9 459.2L1398.9 459.1L1399.9 459.0L1400.9 459.0L1401.9 458.9L1402.9 458.8L1403.9 458.8L1404.9 458.7L1405.9 458.7L1406.9 458.6L1407.9 458.6L1408.9 458.5L1409.9 458.5L1410.9 458.4L1411.9 458.4L1412.9 458.3L1413.9 458.3L1414.9 458.2L1415.9 458.2L1416.9 458.1L1417.9 458.1L1418.9 458.0L1419.9 457.9L1420.9 457.9L1421.9 457.8L1422.9 457.8L1423.9 457.7L1424.9 457.7L1425.9 457.6L1426.9 457.6L1427.9 457.5L1428.9 457.5L1429.9 457.4L1430.9 457.4L1431.9 457.3L1432.9 457.3L1433.9 457.2L1434.9 457.2L1435.9 457.1L1436.9 457.1L1437.9 457.0L1438.9 456.9L1439.9 456.9L1440.9 456.8L1441.9 456.8L1442.9 456.7L1443.9 456.7L1444.9 456.6L1445.9 456.6L1446.9 456.5L1447.9 456.5L1448.9 456.4L1449.9 456.4L1450.9 456.3L1451.9 456.3L1452.9 456.2L1453.9 456.2L1454.9 456.1L1455.9 456.1L1456.9 456.1L1457.9 456.1L1458.9 456.0L1459.9 456.0L1460.9 456.0L1461.9 456.0L1462.9 455.9L1463.9 455.9L1464.9 455.9L1465.9 455.8L1466.9 455.8L1467.9 455.8L1468.9 455.8L1469.9 455.7L1470.9 455.7L1471.9 455.7L1472.9 455.6L1473.9 455.6L1474.9 455.6L1475.9 455.6L1476.9 455.5L1477.9 455.5L1478.9 455.5L1479.9 455.4L1480.9 455.4L1481.9 455.4L1482.9 455.4L1483.9 455.3L1484.9 455.3L1485.9 455.3L1486.9 455.2L1487.9 455.2L1488.9 455.2L1489.9 455.2L1490.9 455.1L1491.9 455.1L1492.9 455.1L1493.9 455.1L1494.9 455.0L1495.9 455.0L1496.9 455.0L1497.9 454.9L1498.9 454.9L1499.9 454.9L1500.9 454.9L1501.9 454.8L1502.9 454.8L1503.9 454.8L1504.9 454.7L1505.9 454.7L1506.9 454.7L1507.9 454.7L1508.9 454.6L1509.9 454.6L1510.9 454.6L1511.9 454.5L1512.9 454.5L1513.9 454.5L1514.9 454.5L1515.9 454.4L1516.9 454.4L1517.9 454.4L1518.9 454.4L1519.9 454.3L1520.9 454.3L1521.9 454.3L1522.9 454.2L1523.9 454.2L1524.9 454.2L1525.9 454.2L1526.9 454.1L1527.9 454.1L1528.9 454.1L1529.9 454.0L1530.9 454.0L1531.9 454.0L1532.9 454.0L1533.9 453.9L1534.9 453.9L1535.9 453.9L1536.9 453.8L1537.9 453.8L1538.9 453.8L1539.9 453.8L1540.9 453.7L1541.9 453.7L1542.9 453.7L1543.9 453.7L1544.9 453.6L1545.9 453.6L1546.9 453.6L1547.9 453.5L1548.9 453.5L1549.9 453.5L1550.9 453.5L1551.9 453.4L1552.9 453.4L1553.9 453.4L1554.9 453.3L1555.9 453.3L1556.9 453.3L1557.9 453.3L1558.9 453.2L1559.9 453.2L1560.9 453.2L1561.9 453.2L1562.9 453.1L1563.9 453.1L1564.9 453.1L1565.9 453.1L1566.9 453.0L1567.9 453.0L1568.9 453.0L1569.9 453.0L1570.9 452.9L1571.9 452.9L1572.9 452.9L1573.9 452.9L1574.9 452.8L1575.9 452.8L1576.9 452.8L1577.9 452.8L1578.9 452.7L1579.9 452.7L1580.9 452.7L1581.9 452.7L1582.9 452.7L1583.9 452.6L1584.9 452.6L1585.9 452.6L1586.9 452.6L1587.9 452.5L1588.9 452.5L1589.9 452.5L1590.9 452.5L1591.9 452.4L1592.9 452.4L1593.9 452.4L1594.9 452.4L1595.9 452.3L1596.9 452.3L1597.9 452.3L1598.9 452.3L1599.9 452.2L1600.9 452.2L1601.9 452.2L1602.9 452.2L1603.9 452.1L1604.9 452.1L1605.9 452.1L1606.9 452.1L1607.9 452.1L1608.9 452.0L1609.9 452.0L1610.9 452.0L1611.9 452.0L1612.9 451.9L1613.9 451.9L1614.9 451.9L1615.9 451.9L1616.9 451.8L1617.9 451.8L1618.9 451.8L1619.9 451.8L1620.9 451.7L1621.9 451.7L1622.9 451.7L1623.9 451.7L1624.9 451.6L1625.9 451.6L1626.9 451.6L1627.9 451.6L1628.9 451.5L1629.9 451.5L1630.9 451.5L1631.9 451.5L1632.9 451.5L1633.9 451.4L1634.9 451.4L1635.9 451.4L1636.9 451.4L1637.9 451.3L1638.9 451.3L1639.9 451.3L1640.9 451.3L1641.9 451.2L1642.9 451.2L1643.9 451.2L1644.9 451.2L1645.9 451.1L1646.9 451.1L1647.9 451.1L1648.9 451.1L1649.9 451.0L1650.9 451.0L1651.9 451.0L1652.9 451.0L1653.9 450.9L1654.9 450.9L1655.9 450.9L1656.9 450.9L1657.9 450.9L1658.9 450.8L1659.9 450.8L1660.9 450.8L1661.9 450.8L1662.9 450.7L1663.9 450.7L1664.9 450.7L1665.9 450.7L1666.9 450.6L1667.9 450.6L1668.9 450.6L1669.9 450.6L1670.9 450.5L1671.9 450.5L1672.9 450.5L1673.9 450.5L1674.9 450.4L1675.9 450.4L1676.9 450.4L1677.9 450.4L1678.9 450.3L1679.9 450.3L1680.9 450.3L1681.9 450.3L1682.9 450.2L1683.9 450.2L1684.9 450.2L1685.9 450.2L1686.9 450.1L1687.9 450.1L1688.9 450.1L1689.9 450.1L1690.9 450.0L1691.9 450.0L1692.9 450.0L1693.9 450.0L1694.9 449.9L1695.9 449.9L1696.9 449.9L1697.9 449.9L1698.9 449.8L1699.9 449.8L1700.9 449.8L1701.9 449.8L1702.9 449.7L1703.9 449.7L1704.9 449.7L1705.9 449.7L1706.9 449.6L1707.9 449.6L1708.9 449.6L1709.9 449.6L1710.9 449.5L1711.9 449.5L1712.9 449.5L1713.9 449.5L1714.9 449.4L1715.9 449.4L1716.9 449.4L1717.9 449.4L1718.9 449.3L1719.9 449.3L1720.9 449.3L1721.9 449.3L1722.9 449.2L1723.9 449.2L1724.9 449.2L1725.9 449.2L1726.9 449.1L1727.9 449.1L1728.9 449.1L1729.9 449.1L1730.9 449.0L1731.9 449.0L1732.9 449.0L1733.9 449.0L1734.9 448.9L1735.9 448.9L1736.9 448.9L1737.9 448.9L1738.9 448.8L1739.9 448.8L1740.9 448.8L1741.9 448.8L1742.9 448.7L1743.9 448.7L1744.9 448.7L1745.9 448.7L1746.9 448.6L1747.9 448.6L1748.9 448.6L1749.9 448.6L1750.9 448.5L1751.9 448.5L1752.9 448.5L1753.9 448.5L1754.9 448.4L1755.9 448.4L1756.9 448.4L1757.9 448.4L1758.9 448.3 L1758.9 445.02 L1758.90 445.02 L1757.90 445.04 L1756.90 445.06 L1755.90 445.08 L1754.90 445.10 L1753.90 445.12 L1752.90 445.14 L1751.90 445.16 L1750.90 445.18 L1749.90 445.20 L1748.90 445.22 L1747.90 445.24 L1746.90 445.26 L1745.90 445.28 L1744.90 445.30 L1743.90 445.32 L1742.90 445.34 L1741.90 445.36 L1740.90 445.38 L1739.90 445.40 L1738.90 445.42 L1737.90 445.44 L1736.90 445.46 L1735.90 445.48 L1734.90 445.50 L1733.90 445.52 L1732.90 445.54 L1731.90 445.56 L1730.90 445.58 L1729.90 445.60 L1728.90 445.62 L1727.90 445.64 L1726.90 445.66 L1725.90 445.68 L1724.90 445.70 L1723.90 445.72 L1722.90 445.74 L1721.90 445.76 L1720.90 445.78 L1719.90 445.80 L1718.90 445.82 L1717.90 445.84 L1716.90 445.86 L1715.90 445.88 L1714.90 445.90 L1713.90 445.92 L1712.90 445.94 L1711.90 445.96 L1710.90 445.98 L1709.90 446.00 L1708.90 446.02 L1707.90 446.04 L1706.90 446.06 L1705.90 446.08 L1704.90 446.10 L1703.90 446.12 L1702.90 446.14 L1701.90 446.16 L1700.90 446.18 L1699.90 446.20 L1698.90 446.22 L1697.90 446.24 L1696.90 446.26 L1695.90 446.28 L1694.90 446.30 L1693.90 446.32 L1692.90 446.34 L1691.90 446.36 L1690.90 446.38 L1689.90 446.40 L1688.90 446.42 L1687.90 446.44 L1686.90 446.46 L1685.90 446.48 L1684.90 446.50 L1683.90 446.52 L1682.90 446.54 L1681.90 446.56 L1680.90 446.58 L1679.90 446.60 L1678.90 446.62 L1677.90 446.64 L1676.90 446.66 L1675.90 446.68 L1674.90 446.70 L1673.90 446.72 L1672.90 446.74 L1671.90 446.76 L1670.90 446.78 L1669.90 446.80 L1668.90 446.82 L1667.90 446.84 L1666.90 446.86 L1665.90 446.88 L1664.90 446.90 L1663.90 446.92 L1662.90 446.94 L1661.90 446.96 L1660.90 446.98 L1659.90 447.00 L1658.90 447.02 L1657.90 447.04 L1656.90 447.06 L1655.90 447.08 L1654.90 447.10 L1653.90 447.12 L1652.90 447.13 L1651.90 447.15 L1650.90 447.17 L1649.90 447.19 L1648.90 447.21 L1647.90 447.23 L1646.90 447.25 L1645.90 447.27 L1644.90 447.29 L1643.90 447.31 L1642.90 447.32 L1641.90 447.34 L1640.90 447.36 L1639.90 447.38 L1638.90 447.40 L1637.90 447.42 L1636.90 447.44 L1635.90 447.46 L1634.90 447.48 L1633.90 447.50 L1632.90 447.51 L1631.90 447.53 L1630.90 447.55 L1629.90 447.57 L1628.90 447.59 L1627.90 447.61 L1626.90 447.63 L1625.90 447.65 L1624.90 447.67 L1623.90 447.69 L1622.90 447.70 L1621.90 447.72 L1620.90 447.74 L1619.90 447.76 L1618.90 447.78 L1617.90 447.80 L1616.90 447.82 L1615.90 447.84 L1614.90 447.86 L1613.90 447.88 L1612.90 447.89 L1611.90 447.91 L1610.90 447.93 L1609.90 447.95 L1608.90 447.97 L1607.90 447.99 L1606.90 448.01 L1605.90 448.03 L1604.90 448.05 L1603.90 448.07 L1602.90 448.08 L1601.90 448.10 L1600.90 448.12 L1599.90 448.14 L1598.90 448.16 L1597.90 448.18 L1596.90 448.20 L1595.90 448.22 L1594.90 448.24 L1593.90 448.26 L1592.90 448.27 L1591.90 448.29 L1590.90 448.31 L1589.90 448.33 L1588.90 448.35 L1587.90 448.37 L1586.90 448.39 L1585.90 448.41 L1584.90 448.43 L1583.90 448.45 L1582.90 448.46 L1581.90 448.48 L1580.90 448.50 L1579.90 448.52 L1578.90 448.54 L1577.90 448.56 L1576.90 448.58 L1575.90 448.60 L1574.90 448.62 L1573.90 448.64 L1572.90 448.65 L1571.90 448.67 L1570.90 448.69 L1569.90 448.71 L1568.90 448.73 L1567.90 448.75 L1566.90 448.77 L1565.90 448.79 L1564.90 448.81 L1563.90 448.83 L1562.90 448.84 L1561.90 448.86 L1560.90 448.88 L1559.90 448.90 L1558.90 448.92 L1557.90 448.95 L1556.90 448.97 L1555.90 448.99 L1554.90 449.01 L1553.90 449.03 L1552.90 449.05 L1551.90 449.08 L1550.90 449.10 L1549.90 449.12 L1548.90 449.14 L1547.90 449.16 L1546.90 449.18 L1545.90 449.21 L1544.90 449.23 L1543.90 449.25 L1542.90 449.27 L1541.90 449.29 L1540.90 449.31 L1539.90 449.34 L1538.90 449.36 L1537.90 449.38 L1536.90 449.40 L1535.90 449.42 L1534.90 449.44 L1533.90 449.47 L1532.90 449.49 L1531.90 449.51 L1530.90 449.53 L1529.90 449.55 L1528.90 449.57 L1527.90 449.60 L1526.90 449.62 L1525.90 449.64 L1524.90 449.66 L1523.90 449.68 L1522.90 449.70 L1521.90 449.73 L1520.90 449.75 L1519.90 449.77 L1518.90 449.79 L1517.90 449.81 L1516.90 449.83 L1515.90 449.86 L1514.90 449.88 L1513.90 449.90 L1512.90 449.92 L1511.90 449.94 L1510.90 449.96 L1509.90 449.99 L1508.90 450.01 L1507.90 450.03 L1506.90 450.05 L1505.90 450.07 L1504.90 450.09 L1503.90 450.12 L1502.90 450.14 L1501.90 450.16 L1500.90 450.18 L1499.90 450.20 L1498.90 450.24 L1497.90 450.27 L1496.90 450.31 L1495.90 450.34 L1494.90 450.37 L1493.90 450.41 L1492.90 450.44 L1491.90 450.48 L1490.90 450.51 L1489.90 450.54 L1488.90 450.58 L1487.90 450.61 L1486.90 450.65 L1485.90 450.68 L1484.90 450.71 L1483.90 450.75 L1482.90 450.78 L1481.90 450.82 L1480.90 450.85 L1479.90 450.88 L1478.90 450.92 L1477.90 450.95 L1476.90 450.99 L1475.90 451.02 L1474.90 451.05 L1473.90 451.09 L1472.90 451.12 L1471.90 451.16 L1470.90 451.19 L1469.90 451.22 L1468.90 451.26 L1467.90 451.29 L1466.90 451.33 L1465.90 451.36 L1464.90 451.39 L1463.90 451.43 L1462.90 451.46 L1461.90 451.50 L1460.90 451.53 L1459.90 451.57 L1458.90 451.60 L1457.90 451.63 L1456.90 451.67 L1455.90 451.70 L1454.90 451.74 L1453.90 451.77 L1452.90 451.81 L1451.90 451.91 L1450.90 452.00 L1449.90 452.10 L1448.90 452.20 L1447.90 452.29 L1446.90 452.39 L1445.90 452.49 L1444.90 452.59 L1443.90 452.68 L1442.90 452.78 L1441.90 452.88 L1440.90 452.97 L1439.90 453.07 L1438.90 453.17 L1437.90 453.26 L1436.90 453.36 L1435.90 453.46 L1434.90 453.56 L1433.90 453.65 L1432.90 453.75 L1431.90 453.85 L1430.90 453.94 L1429.90 454.04 L1428.90 454.14 L1427.90 454.23 L1426.90 454.33 L1425.90 454.43 L1424.90 454.52 L1423.90 454.62 L1422.90 454.72 L1421.90 454.82 L1420.90 454.91 L1419.90 455.01 L1418.90 455.10 L1417.90 455.19 L1416.90 455.28 L1415.90 455.37 L1414.90 455.46 L1413.90 455.55 L1412.90 455.64 L1411.90 455.73 L1410.90 455.82 L1409.90 455.91 L1408.90 456.00 L1407.90 456.09 L1406.90 456.18 L1405.90 456.27 L1404.90 456.36 L1403.90 456.45 L1402.90 456.54 L1401.90 456.63 L1400.90 456.72 L1399.90 456.81 L1398.90 456.90 L1397.90 456.99 L1396.90 457.08 L1395.90 457.17 L1394.90 457.26 L1393.90 457.35 L1392.90 457.44 L1391.90 457.53 L1390.90 457.62 L1389.90 457.71 L1388.90 457.80 L1387.90 457.89 L1386.90 457.98 L1385.90 458.07 L1384.90 458.16 L1383.90 458.25 L1382.90 458.34 L1381.90 458.43 L1380.90 458.52 L1379.90 458.60 L1378.90 458.64 L1377.90 458.68 L1376.90 458.72 L1375.90 458.76 L1374.90 458.80 L1373.90 458.83 L1372.90 458.87 L1371.90 458.91 L1370.90 458.95 L1369.90 458.99 L1368.90 459.03 L1367.90 459.06 L1366.90 459.10 L1365.90 459.14 L1364.90 459.18 L1363.90 459.22 L1362.90 459.26 L1361.90 459.29 L1360.90 459.33 L1359.90 459.37 L1358.90 459.41 L1357.90 459.45 L1356.90 459.49 L1355.90 459.52 L1354.90 459.56 L1353.90 459.60 L1352.90 459.64 L1351.90 459.68 L1350.90 459.72 L1349.90 459.75 L1348.90 459.79 L1347.90 459.83 L1346.90 459.87 L1345.90 459.91 L1344.90 459.95 L1343.90 459.98 L1342.90 460.02 L1341.90 460.06 L1340.90 460.10 L1339.90 460.14 L1338.90 460.18 L1337.90 460.21 L1336.90 460.25 L1335.90 460.29 L1334.90 460.33 L1333.90 460.37 L1332.90 460.41 L1331.90 460.44 L1330.90 460.48 L1329.90 460.52 L1328.90 460.56 L1327.90 460.60 L1326.90 460.64 L1325.90 460.67 L1324.90 460.71 L1323.90 460.75 L1322.90 460.79 L1321.90 460.83 L1320.90 460.87 L1319.90 460.90 L1318.90 460.94 L1317.90 460.98 L1316.90 461.02 L1315.90 461.06 L1314.90 461.10 L1313.90 461.14 L1312.90 461.18 L1311.90 461.22 L1310.90 461.26 L1309.90 461.30 L1308.90 461.34 L1307.90 461.38 L1306.90 461.42 L1305.90 461.46 L1304.90 461.50 L1303.90 461.54 L1302.90 461.58 L1301.90 461.62 L1300.90 461.66 L1299.90 461.70 L1298.90 461.74 L1297.90 461.78 L1296.90 461.82 L1295.90 461.86 L1294.90 461.90 L1293.90 461.94 L1292.90 461.98 L1291.90 462.02 L1290.90 462.06 L1289.90 462.10 L1288.90 462.14 L1287.90 462.18 L1286.90 462.22 L1285.90 462.26 L1284.90 462.30 L1283.90 462.34 L1282.90 462.38 L1281.90 462.42 L1280.90 462.46 L1279.90 462.50 L1278.90 462.54 L1277.90 462.58 L1276.90 462.62 L1275.90 462.66 L1274.90 462.70 L1273.90 462.74 L1272.90 462.78 L1271.90 462.82 L1270.90 462.86 L1269.90 462.90 L1268.90 462.94 L1267.90 462.98 L1266.90 463.02 L1265.90 463.06 L1264.90 463.10 L1263.90 463.14 L1262.90 463.18 L1261.90 463.22 L1260.90 463.26 L1259.90 463.30 L1258.90 463.32 L1257.90 463.34 L1256.90 463.36 L1255.90 463.38 L1254.90 463.40 L1253.90 463.42 L1252.90 463.44 L1251.90 463.46 L1250.90 463.48 L1249.90 463.50 L1248.90 463.51 L1247.90 463.53 L1246.90 463.55 L1245.90 463.57 L1244.90 463.59 L1243.90 463.61 L1242.90 463.63 L1241.90 463.65 L1240.90 463.67 L1239.90 463.69 L1238.90 463.71 L1237.90 463.73 L1236.90 463.75 L1235.90 463.77 L1234.90 463.78 L1233.90 463.80 L1232.90 463.82 L1231.90 463.84 L1230.90 463.86 L1229.90 463.88 L1228.90 463.90 L1227.90 463.92 L1226.90 463.94 L1225.90 463.96 L1224.90 463.98 L1223.90 464.00 L1222.90 464.02 L1221.90 464.04 L1220.90 464.06 L1219.90 464.07 L1218.90 464.09 L1217.90 464.11 L1216.90 464.13 L1215.90 464.15 L1214.90 464.17 L1213.90 464.19 L1212.90 464.21 L1211.90 464.23 L1210.90 464.25 L1209.90 464.27 L1208.90 464.29 L1207.90 464.31 L1206.90 464.33 L1205.90 464.35 L1204.90 464.36 L1203.90 464.38 L1202.90 464.40 L1201.90 464.42 L1200.90 464.44 L1199.90 464.46 L1198.90 464.48 L1197.90 464.50 L1196.90 464.52 L1195.90 464.54 L1194.90 464.56 L1193.90 464.58Z" fill="rgba(198,110,62,0.9)" stroke="none"/>
<path d="M1193.9 466.3L1194.9 466.3L1195.9 466.3L1196.9 466.3L1197.9 466.3L1198.9 466.3L1199.9 466.3L1200.9 466.3L1201.9 466.3L1202.9 466.2L1203.9 466.2L1204.9 466.2L1205.9 466.2L1206.9 466.2L1207.9 466.2L1208.9 466.2L1209.9 466.2L1210.9 466.2L1211.9 466.2L1212.9 466.2L1213.9 466.2L1214.9 466.2L1215.9 466.2L1216.9 466.2L1217.9 466.2L1218.9 466.2L1219.9 466.2L1220.9 466.2L1221.9 466.1L1222.9 466.1L1223.9 466.1L1224.9 466.1L1225.9 466.1L1226.9 466.1L1227.9 466.1L1228.9 466.1L1229.9 466.1L1230.9 466.1L1231.9 466.1L1232.9 466.1L1233.9 466.1L1234.9 466.1L1235.9 466.1L1236.9 466.1L1237.9 466.1L1238.9 466.1L1239.9 466.1L1240.9 466.0L1241.9 466.0L1242.9 466.0L1243.9 466.0L1244.9 466.0L1245.9 466.0L1246.9 466.0L1247.9 466.0L1248.9 466.0L1249.9 466.0L1250.9 466.0L1251.9 466.0L1252.9 466.0L1253.9 465.9L1254.9 465.9L1255.9 465.9L1256.9 465.9L1257.9 465.9L1258.9 465.9L1259.9 465.8L1260.9 465.8L1261.9 465.8L1262.9 465.8L1263.9 465.8L1264.9 465.8L1265.9 465.7L1266.9 465.7L1267.9 465.7L1268.9 465.7L1269.9 465.7L1270.9 465.7L1271.9 465.6L1272.9 465.6L1273.9 465.6L1274.9 465.6L1275.9 465.6L1276.9 465.6L1277.9 465.6L1278.9 465.5L1279.9 465.5L1280.9 465.5L1281.9 465.5L1282.9 465.5L1283.9 465.5L1284.9 465.4L1285.9 465.4L1286.9 465.4L1287.9 465.4L1288.9 465.4L1289.9 465.4L1290.9 465.3L1291.9 465.3L1292.9 465.3L1293.9 465.3L1294.9 465.3L1295.9 465.3L1296.9 465.2L1297.9 465.2L1298.9 465.2L1299.9 465.2L1300.9 465.2L1301.9 465.2L1302.9 465.1L1303.9 465.1L1304.9 465.1L1305.9 465.1L1306.9 465.1L1307.9 465.0L1308.9 465.0L1309.9 465.0L1310.9 465.0L1311.9 465.0L1312.9 464.9L1313.9 464.9L1314.9 464.9L1315.9 464.9L1316.9 464.9L1317.9 464.8L1318.9 464.8L1319.9 464.8L1320.9 464.8L1321.9 464.8L1322.9 464.7L1323.9 464.7L1324.9 464.7L1325.9 464.7L1326.9 464.7L1327.9 464.6L1328.9 464.6L1329.9 464.6L1330.9 464.5L1331.9 464.5L1332.9 464.4L1333.9 464.4L1334.9 464.3L1335.9 464.2L1336.9 464.2L1337.9 464.1L1338.9 464.1L1339.9 464.0L1340.9 463.9L1341.9 463.9L1342.9 463.8L1343.9 463.8L1344.9 463.7L1345.9 463.6L1346.9 463.6L1347.9 463.5L1348.9 463.5L1349.9 463.4L1350.9 463.3L1351.9 463.3L1352.9 463.2L1353.9 463.2L1354.9 463.1L1355.9 463.0L1356.9 463.0L1357.9 462.9L1358.9 462.9L1359.9 462.8L1360.9 462.7L1361.9 462.6L1362.9 462.5L1363.9 462.4L1364.9 462.3L1365.9 462.2L1366.9 462.1L1367.9 462.0L1368.9 462.0L1369.9 461.9L1370.9 461.8L1371.9 461.7L1372.9 461.6L1373.9 461.5L1374.9 461.4L1375.9 461.3L1376.9 461.2L1377.9 461.1L1378.9 461.0L1379.9 460.9L1380.9 460.8L1381.9 460.7L1382.9 460.6L1383.9 460.5L1384.9 460.4L1385.9 460.3L1386.9 460.2L1387.9 460.1L1388.9 460.1L1389.9 460.0L1390.9 459.9L1391.9 459.8L1392.9 459.7L1393.9 459.6L1394.9 459.5L1395.9 459.4L1396.9 459.3L1397.9 459.2L1398.9 459.1L1399.9 459.0L1400.9 459.0L1401.9 458.9L1402.9 458.8L1403.9 458.8L1404.9 458.7L1405.9 458.7L1406.9 458.6L1407.9 458.6L1408.9 458.5L1409.9 458.5L1410.9 458.4L1411.9 458.4L1412.9 458.3L1413.9 458.3L1414.9 458.2L1415.9 458.2L1416.9 458.1L1417.9 458.1L1418.9 458.0L1419.9 457.9L1420.9 457.9L1421.9 457.8L1422.9 457.8L1423.9 457.7L1424.9 457.7L1425.9 457.6L1426.9 457.6L1427.9 457.5L1428.9 457.5L1429.9 457.4L1430.9 457.4L1431.9 457.3L1432.9 457.3L1433.9 457.2L1434.9 457.2L1435.9 457.1L1436.9 457.1L1437.9 457.0L1438.9 456.9L1439.9 456.9L1440.9 456.8L1441.9 456.8L1442.9 456.7L1443.9 456.7L1444.9 456.6L1445.9 456.6L1446.9 456.5L1447.9 456.5L1448.9 456.4L1449.9 456.4L1450.9 456.3L1451.9 456.3L1452.9 456.2L1453.9 456.2L1454.9 456.1L1455.9 456.1L1456.9 456.1L1457.9 456.1L1458.9 456.0L1459.9 456.0L1460.9 456.0L1461.9 456.0L1462.9 455.9L1463.9 455.9L1464.9 455.9L1465.9 455.8L1466.9 455.8L1467.9 455.8L1468.9 455.8L1469.9 455.7L1470.9 455.7L1471.9 455.7L1472.9 455.6L1473.9 455.6L1474.9 455.6L1475.9 455.6L1476.9 455.5L1477.9 455.5L1478.9 455.5L1479.9 455.4L1480.9 455.4L1481.9 455.4L1482.9 455.4L1483.9 455.3L1484.9 455.3L1485.9 455.3L1486.9 455.2L1487.9 455.2L1488.9 455.2L1489.9 455.2L1490.9 455.1L1491.9 455.1L1492.9 455.1L1493.9 455.1L1494.9 455.0L1495.9 455.0L1496.9 455.0L1497.9 454.9L1498.9 454.9L1499.9 454.9L1500.9 454.9L1501.9 454.8L1502.9 454.8L1503.9 454.8L1504.9 454.7L1505.9 454.7L1506.9 454.7L1507.9 454.7L1508.9 454.6L1509.9 454.6L1510.9 454.6L1511.9 454.5L1512.9 454.5L1513.9 454.5L1514.9 454.5L1515.9 454.4L1516.9 454.4L1517.9 454.4L1518.9 454.4L1519.9 454.3L1520.9 454.3L1521.9 454.3L1522.9 454.2L1523.9 454.2L1524.9 454.2L1525.9 454.2L1526.9 454.1L1527.9 454.1L1528.9 454.1L1529.9 454.0L1530.9 454.0L1531.9 454.0L1532.9 454.0L1533.9 453.9L1534.9 453.9L1535.9 453.9L1536.9 453.8L1537.9 453.8L1538.9 453.8L1539.9 453.8L1540.9 453.7L1541.9 453.7L1542.9 453.7L1543.9 453.7L1544.9 453.6L1545.9 453.6L1546.9 453.6L1547.9 453.5L1548.9 453.5L1549.9 453.5L1550.9 453.5L1551.9 453.4L1552.9 453.4L1553.9 453.4L1554.9 453.3L1555.9 453.3L1556.9 453.3L1557.9 453.3L1558.9 453.2L1559.9 453.2L1560.9 453.2L1561.9 453.2L1562.9 453.1L1563.9 453.1L1564.9 453.1L1565.9 453.1L1566.9 453.0L1567.9 453.0L1568.9 453.0L1569.9 453.0L1570.9 452.9L1571.9 452.9L1572.9 452.9L1573.9 452.9L1574.9 452.8L1575.9 452.8L1576.9 452.8L1577.9 452.8L1578.9 452.7L1579.9 452.7L1580.9 452.7L1581.9 452.7L1582.9 452.7L1583.9 452.6L1584.9 452.6L1585.9 452.6L1586.9 452.6L1587.9 452.5L1588.9 452.5L1589.9 452.5L1590.9 452.5L1591.9 452.4L1592.9 452.4L1593.9 452.4L1594.9 452.4L1595.9 452.3L1596.9 452.3L1597.9 452.3L1598.9 452.3L1599.9 452.2L1600.9 452.2L1601.9 452.2L1602.9 452.2L1603.9 452.1L1604.9 452.1L1605.9 452.1L1606.9 452.1L1607.9 452.1L1608.9 452.0L1609.9 452.0L1610.9 452.0L1611.9 452.0L1612.9 451.9L1613.9 451.9L1614.9 451.9L1615.9 451.9L1616.9 451.8L1617.9 451.8L1618.9 451.8L1619.9 451.8L1620.9 451.7L1621.9 451.7L1622.9 451.7L1623.9 451.7L1624.9 451.6L1625.9 451.6L1626.9 451.6L1627.9 451.6L1628.9 451.5L1629.9 451.5L1630.9 451.5L1631.9 451.5L1632.9 451.5L1633.9 451.4L1634.9 451.4L1635.9 451.4L1636.9 451.4L1637.9 451.3L1638.9 451.3L1639.9 451.3L1640.9 451.3L1641.9 451.2L1642.9 451.2L1643.9 451.2L1644.9 451.2L1645.9 451.1L1646.9 451.1L1647.9 451.1L1648.9 451.1L1649.9 451.0L1650.9 451.0L1651.9 451.0L1652.9 451.0L1653.9 450.9L1654.9 450.9L1655.9 450.9L1656.9 450.9L1657.9 450.9L1658.9 450.8L1659.9 450.8L1660.9 450.8L1661.9 450.8L1662.9 450.7L1663.9 450.7L1664.9 450.7L1665.9 450.7L1666.9 450.6L1667.9 450.6L1668.9 450.6L1669.9 450.6L1670.9 450.5L1671.9 450.5L1672.9 450.5L1673.9 450.5L1674.9 450.4L1675.9 450.4L1676.9 450.4L1677.9 450.4L1678.9 450.3L1679.9 450.3L1680.9 450.3L1681.9 450.3L1682.9 450.2L1683.9 450.2L1684.9 450.2L1685.9 450.2L1686.9 450.1L1687.9 450.1L1688.9 450.1L1689.9 450.1L1690.9 450.0L1691.9 450.0L1692.9 450.0L1693.9 450.0L1694.9 449.9L1695.9 449.9L1696.9 449.9L1697.9 449.9L1698.9 449.8L1699.9 449.8L1700.9 449.8L1701.9 449.8L1702.9 449.7L1703.9 449.7L1704.9 449.7L1705.9 449.7L1706.9 449.6L1707.9 449.6L1708.9 449.6L1709.9 449.6L1710.9 449.5L1711.9 449.5L1712.9 449.5L1713.9 449.5L1714.9 449.4L1715.9 449.4L1716.9 449.4L1717.9 449.4L1718.9 449.3L1719.9 449.3L1720.9 449.3L1721.9 449.3L1722.9 449.2L1723.9 449.2L1724.9 449.2L1725.9 449.2L1726.9 449.1L1727.9 449.1L1728.9 449.1L1729.9 449.1L1730.9 449.0L1731.9 449.0L1732.9 449.0L1733.9 449.0L1734.9 448.9L1735.9 448.9L1736.9 448.9L1737.9 448.9L1738.9 448.8L1739.9 448.8L1740.9 448.8L1741.9 448.8L1742.9 448.7L1743.9 448.7L1744.9 448.7L1745.9 448.7L1746.9 448.6L1747.9 448.6L1748.9 448.6L1749.9 448.6L1750.9 448.5L1751.9 448.5L1752.9 448.5L1753.9 448.5L1754.9 448.4L1755.9 448.4L1756.9 448.4L1757.9 448.4L1758.9 448.3" fill="none" stroke="#dd1410" stroke-width="2.8"/>
<path d="M1193.9 464.6L1194.9 464.6L1195.9 464.5L1196.9 464.5L1197.9 464.5L1198.9 464.5L1199.9 464.5L1200.9 464.4L1201.9 464.4L1202.9 464.4L1203.9 464.4L1204.9 464.4L1205.9 464.3L1206.9 464.3L1207.9 464.3L1208.9 464.3L1209.9 464.3L1210.9 464.2L1211.9 464.2L1212.9 464.2L1213.9 464.2L1214.9 464.2L1215.9 464.2L1216.9 464.1L1217.9 464.1L1218.9 464.1L1219.9 464.1L1220.9 464.1L1221.9 464.0L1222.9 464.0L1223.9 464.0L1224.9 464.0L1225.9 464.0L1226.9 463.9L1227.9 463.9L1228.9 463.9L1229.9 463.9L1230.9 463.9L1231.9 463.8L1232.9 463.8L1233.9 463.8L1234.9 463.8L1235.9 463.8L1236.9 463.7L1237.9 463.7L1238.9 463.7L1239.9 463.7L1240.9 463.7L1241.9 463.6L1242.9 463.6L1243.9 463.6L1244.9 463.6L1245.9 463.6L1246.9 463.6L1247.9 463.5L1248.9 463.5L1249.9 463.5L1250.9 463.5L1251.9 463.5L1252.9 463.4L1253.9 463.4L1254.9 463.4L1255.9 463.4L1256.9 463.4L1257.9 463.3L1258.9 463.3L1259.9 463.3L1260.9 463.3L1261.9 463.2L1262.9 463.2L1263.9 463.1L1264.9 463.1L1265.9 463.1L1266.9 463.0L1267.9 463.0L1268.9 462.9L1269.9 462.9L1270.9 462.9L1271.9 462.8L1272.9 462.8L1273.9 462.7L1274.9 462.7L1275.9 462.7L1276.9 462.6L1277.9 462.6L1278.9 462.5L1279.9 462.5L1280.9 462.5L1281.9 462.4L1282.9 462.4L1283.9 462.3L1284.9 462.3L1285.9 462.3L1286.9 462.2L1287.9 462.2L1288.9 462.1L1289.9 462.1L1290.9 462.1L1291.9 462.0L1292.9 462.0L1293.9 461.9L1294.9 461.9L1295.9 461.9L1296.9 461.8L1297.9 461.8L1298.9 461.7L1299.9 461.7L1300.9 461.7L1301.9 461.6L1302.9 461.6L1303.9 461.5L1304.9 461.5L1305.9 461.5L1306.9 461.4L1307.9 461.4L1308.9 461.3L1309.9 461.3L1310.9 461.3L1311.9 461.2L1312.9 461.2L1313.9 461.1L1314.9 461.1L1315.9 461.1L1316.9 461.0L1317.9 461.0L1318.9 460.9L1319.9 460.9L1320.9 460.9L1321.9 460.8L1322.9 460.8L1323.9 460.8L1324.9 460.7L1325.9 460.7L1326.9 460.6L1327.9 460.6L1328.9 460.6L1329.9 460.5L1330.9 460.5L1331.9 460.4L1332.9 460.4L1333.9 460.4L1334.9 460.3L1335.9 460.3L1336.9 460.3L1337.9 460.2L1338.9 460.2L1339.9 460.1L1340.9 460.1L1341.9 460.1L1342.9 460.0L1343.9 460.0L1344.9 459.9L1345.9 459.9L1346.9 459.9L1347.9 459.8L1348.9 459.8L1349.9 459.8L1350.9 459.7L1351.9 459.7L1352.9 459.6L1353.9 459.6L1354.9 459.6L1355.9 459.5L1356.9 459.5L1357.9 459.4L1358.9 459.4L1359.9 459.4L1360.9 459.3L1361.9 459.3L1362.9 459.3L1363.9 459.2L1364.9 459.2L1365.9 459.1L1366.9 459.1L1367.9 459.1L1368.9 459.0L1369.9 459.0L1370.9 458.9L1371.9 458.9L1372.9 458.9L1373.9 458.8L1374.9 458.8L1375.9 458.8L1376.9 458.7L1377.9 458.7L1378.9 458.6L1379.9 458.6L1380.9 458.5L1381.9 458.4L1382.9 458.3L1383.9 458.2L1384.9 458.2L1385.9 458.1L1386.9 458.0L1387.9 457.9L1388.9 457.8L1389.9 457.7L1390.9 457.6L1391.9 457.5L1392.9 457.4L1393.9 457.3L1394.9 457.3L1395.9 457.2L1396.9 457.1L1397.9 457.0L1398.9 456.9L1399.9 456.8L1400.9 456.7L1401.9 456.6L1402.9 456.5L1403.9 456.4L1404.9 456.4L1405.9 456.3L1406.9 456.2L1407.9 456.1L1408.9 456.0L1409.9 455.9L1410.9 455.8L1411.9 455.7L1412.9 455.6L1413.9 455.5L1414.9 455.5L1415.9 455.4L1416.9 455.3L1417.9 455.2L1418.9 455.1L1419.9 455.0L1420.9 454.9L1421.9 454.8L1422.9 454.7L1423.9 454.6L1424.9 454.5L1425.9 454.4L1426.9 454.3L1427.9 454.2L1428.9 454.1L1429.9 454.0L1430.9 453.9L1431.9 453.8L1432.9 453.7L1433.9 453.7L1434.9 453.6L1435.9 453.5L1436.9 453.4L1437.9 453.3L1438.9 453.2L1439.9 453.1L1440.9 453.0L1441.9 452.9L1442.9 452.8L1443.9 452.7L1444.9 452.6L1445.9 452.5L1446.9 452.4L1447.9 452.3L1448.9 452.2L1449.9 452.1L1450.9 452.0L1451.9 451.9L1452.9 451.8L1453.9 451.8L1454.9 451.7L1455.9 451.7L1456.9 451.7L1457.9 451.6L1458.9 451.6L1459.9 451.6L1460.9 451.5L1461.9 451.5L1462.9 451.5L1463.9 451.4L1464.9 451.4L1465.9 451.4L1466.9 451.3L1467.9 451.3L1468.9 451.3L1469.9 451.2L1470.9 451.2L1471.9 451.2L1472.9 451.1L1473.9 451.1L1474.9 451.1L1475.9 451.0L1476.9 451.0L1477.9 451.0L1478.9 450.9L1479.9 450.9L1480.9 450.9L1481.9 450.8L1482.9 450.8L1483.9 450.7L1484.9 450.7L1485.9 450.7L1486.9 450.6L1487.9 450.6L1488.9 450.6L1489.9 450.5L1490.9 450.5L1491.9 450.5L1492.9 450.4L1493.9 450.4L1494.9 450.4L1495.9 450.3L1496.9 450.3L1497.9 450.3L1498.9 450.2L1499.9 450.2L1500.9 450.2L1501.9 450.2L1502.9 450.1L1503.9 450.1L1504.9 450.1L1505.9 450.1L1506.9 450.1L1507.9 450.0L1508.9 450.0L1509.9 450.0L1510.9 450.0L1511.9 449.9L1512.9 449.9L1513.9 449.9L1514.9 449.9L1515.9 449.9L1516.9 449.8L1517.9 449.8L1518.9 449.8L1519.9 449.8L1520.9 449.7L1521.9 449.7L1522.9 449.7L1523.9 449.7L1524.9 449.7L1525.9 449.6L1526.9 449.6L1527.9 449.6L1528.9 449.6L1529.9 449.6L1530.9 449.5L1531.9 449.5L1532.9 449.5L1533.9 449.5L1534.9 449.4L1535.9 449.4L1536.9 449.4L1537.9 449.4L1538.9 449.4L1539.9 449.3L1540.9 449.3L1541.9 449.3L1542.9 449.3L1543.9 449.2L1544.9 449.2L1545.9 449.2L1546.9 449.2L1547.9 449.2L1548.9 449.1L1549.9 449.1L1550.9 449.1L1551.9 449.1L1552.9 449.1L1553.9 449.0L1554.9 449.0L1555.9 449.0L1556.9 449.0L1557.9 448.9L1558.9 448.9L1559.9 448.9L1560.9 448.9L1561.9 448.9L1562.9 448.8L1563.9 448.8L1564.9 448.8L1565.9 448.8L1566.9 448.8L1567.9 448.7L1568.9 448.7L1569.9 448.7L1570.9 448.7L1571.9 448.7L1572.9 448.7L1573.9 448.6L1574.9 448.6L1575.9 448.6L1576.9 448.6L1577.9 448.6L1578.9 448.5L1579.9 448.5L1580.9 448.5L1581.9 448.5L1582.9 448.5L1583.9 448.4L1584.9 448.4L1585.9 448.4L1586.9 448.4L1587.9 448.4L1588.9 448.4L1589.9 448.3L1590.9 448.3L1591.9 448.3L1592.9 448.3L1593.9 448.3L1594.9 448.2L1595.9 448.2L1596.9 448.2L1597.9 448.2L1598.9 448.2L1599.9 448.1L1600.9 448.1L1601.9 448.1L1602.9 448.1L1603.9 448.1L1604.9 448.0L1605.9 448.0L1606.9 448.0L1607.9 448.0L1608.9 448.0L1609.9 448.0L1610.9 447.9L1611.9 447.9L1612.9 447.9L1613.9 447.9L1614.9 447.9L1615.9 447.8L1616.9 447.8L1617.9 447.8L1618.9 447.8L1619.9 447.8L1620.9 447.7L1621.9 447.7L1622.9 447.7L1623.9 447.7L1624.9 447.7L1625.9 447.6L1626.9 447.6L1627.9 447.6L1628.9 447.6L1629.9 447.6L1630.9 447.6L1631.9 447.5L1632.9 447.5L1633.9 447.5L1634.9 447.5L1635.9 447.5L1636.9 447.4L1637.9 447.4L1638.9 447.4L1639.9 447.4L1640.9 447.4L1641.9 447.3L1642.9 447.3L1643.9 447.3L1644.9 447.3L1645.9 447.3L1646.9 447.2L1647.9 447.2L1648.9 447.2L1649.9 447.2L1650.9 447.2L1651.9 447.2L1652.9 447.1L1653.9 447.1L1654.9 447.1L1655.9 447.1L1656.9 447.1L1657.9 447.0L1658.9 447.0L1659.9 447.0L1660.9 447.0L1661.9 447.0L1662.9 446.9L1663.9 446.9L1664.9 446.9L1665.9 446.9L1666.9 446.9L1667.9 446.8L1668.9 446.8L1669.9 446.8L1670.9 446.8L1671.9 446.8L1672.9 446.7L1673.9 446.7L1674.9 446.7L1675.9 446.7L1676.9 446.7L1677.9 446.6L1678.9 446.6L1679.9 446.6L1680.9 446.6L1681.9 446.6L1682.9 446.5L1683.9 446.5L1684.9 446.5L1685.9 446.5L1686.9 446.5L1687.9 446.4L1688.9 446.4L1689.9 446.4L1690.9 446.4L1691.9 446.4L1692.9 446.3L1693.9 446.3L1694.9 446.3L1695.9 446.3L1696.9 446.3L1697.9 446.2L1698.9 446.2L1699.9 446.2L1700.9 446.2L1701.9 446.2L1702.9 446.1L1703.9 446.1L1704.9 446.1L1705.9 446.1L1706.9 446.1L1707.9 446.0L1708.9 446.0L1709.9 446.0L1710.9 446.0L1711.9 446.0L1712.9 445.9L1713.9 445.9L1714.9 445.9L1715.9 445.9L1716.9 445.9L1717.9 445.8L1718.9 445.8L1719.9 445.8L1720.9 445.8L1721.9 445.8L1722.9 445.7L1723.9 445.7L1724.9 445.7L1725.9 445.7L1726.9 445.7L1727.9 445.6L1728.9 445.6L1729.9 445.6L1730.9 445.6L1731.9 445.6L1732.9 445.5L1733.9 445.5L1734.9 445.5L1735.9 445.5L1736.9 445.5L1737.9 445.4L1738.9 445.4L1739.9 445.4L1740.9 445.4L1741.9 445.4L1742.9 445.3L1743.9 445.3L1744.9 445.3L1745.9 445.3L1746.9 445.3L1747.9 445.2L1748.9 445.2L1749.9 445.2L1750.9 445.2L1751.9 445.2L1752.9 445.1L1753.9 445.1L1754.9 445.1L1755.9 445.1L1756.9 445.1L1757.9 445.0L1758.9 445.0" fill="none" stroke="#c8200e" stroke-width="1.8"/>
<path d="M1192.6 464.4L1196.5 464.3L1201.9 464.1L1208.3 463.9L1215.3 463.7L1222.4 463.4L1229.1 463.2L1235.8 463.0L1242.9 462.7L1250.0 462.5L1257.1 462.2L1263.8 461.9L1269.8 461.5L1275.2 461.1L1280.1 460.7L1284.7 460.2L1288.9 459.7L1292.9 459.0L1296.7 458.3L1300.3 457.4L1303.5 456.5L1306.5 455.4L1309.4 454.3L1312.1 453.2L1314.7 452.0L1317.3 450.8L1319.7 449.7L1322.0 448.4L1324.1 447.1L1326.2 445.7L1328.1 444.0L1329.9 442.1L1331.5 440.0L1333.0 437.8L1334.5 435.5L1335.8 433.0L1337.1 430.5L1338.3 428.0L1339.5 425.4L1340.5 422.7L1341.5 419.9L1342.5 416.8L1343.4 413.5L1344.2 409.8L1345.0 405.7L1345.7 401.4L1346.4 397.0L1347.1 392.6L1347.8 388.4L1348.6 384.3L1349.4 380.2L1350.3 376.1L1351.1 372.1L1351.9 368.2L1352.6 364.4L1353.3 361.1L1353.9 358.4L1354.4 355.7L1355.0 352.8L1355.5 349.1L1356.1 344.4L1356.7 338.3L1357.3 331.2L1357.9 323.3L1358.5 315.2L1359.0 307.1L1359.6 299.4L1360.2 291.8L1360.7 284.1L1361.3 276.3L1361.8 268.9L1362.2 262.2L1362.6 256.4L1362.9 252.0L1363.0 248.8L1363.1 246.3L1363.2 243.9L1363.4 240.9L1363.6 236.7L1363.9 231.3L1364.3 225.0L1364.7 218.2L1365.1 211.2L1365.6 204.1L1366.0 197.3L1366.4 190.7L1366.8 184.1L1367.3 177.6L1367.7 171.0L1368.1 164.4L1368.6 157.8L1369.1 151.2L1369.5 144.6L1370.0 138.0L1370.5 131.5L1371.0 124.9L1371.5 118.3L1372.0 111.5L1372.6 104.3L1373.2 97.2L1373.8 90.4L1374.4 84.2L1374.9 78.9L1375.4 74.6L1375.8 71.2L1376.2 68.3L1376.6 65.9L1377.1 63.7L1377.6 61.4L1378.2 59.0L1378.9 56.7L1379.7 54.5L1380.4 52.7L1381.2 51.5L1382.0 51.0L1382.8 51.4L1383.7 52.4L1384.7 54.1L1385.5 56.1L1386.3 58.4L1386.9 60.8L1387.3 63.2L1387.5 65.7L1387.6 68.5L1387.7 71.6L1387.8 75.3L1388.1 79.8L1388.5 85.2L1389.0 91.4L1389.5 98.2L1390.0 105.3L1390.6 112.4L1391.1 119.2L1391.6 125.8L1392.2 132.4L1392.7 138.9L1393.3 145.5L1393.8 152.1L1394.4 158.7L1395.0 165.3L1395.5 171.9L1396.1 178.5L1396.7 185.0L1397.3 191.6L1398.0 198.2L1398.8 205.0L1399.6 212.0L1400.5 219.0L1401.3 225.8L1402.1 232.1L1402.9 237.6L1403.5 242.0L1404.0 245.5L1404.5 248.4L1405.0 251.3L1405.6 254.8L1406.4 259.2L1407.5 264.9L1408.7 271.4L1410.1 278.4L1411.5 285.6L1412.9 292.5L1414.3 298.7L1415.6 304.2L1416.8 309.3L1418.0 314.1L1419.3 318.8L1420.7 323.5L1422.2 328.3L1423.9 333.3L1425.8 338.5L1427.7 343.7L1429.8 348.8L1431.9 353.5L1434.0 357.9L1436.1 361.8L1438.3 365.2L1440.5 368.4L1442.8 371.4L1445.2 374.4L1447.9 377.6L1450.8 380.9L1453.8 384.3L1456.9 387.7L1460.3 391.1L1463.8 394.3L1467.6 397.3L1471.7 400.2L1476.3 403.0L1481.0 405.7L1485.7 408.2L1490.3 410.5L1494.6 412.5L1498.5 414.2L1502.2 415.6L1505.7 416.9L1509.1 417.9L1512.6 419.0L1516.1 420.0L1519.7 421.0L1523.2 422.0L1526.8 423.0L1530.4 423.8L1534.0 424.7L1537.7 425.4L1541.6 426.1L1545.6 426.7L1549.7 427.2L1553.6 427.7L1557.4 428.2L1560.9 428.6L1563.9 429.0L1566.4 429.3L1568.8 429.6L1571.2 429.9L1573.8 430.1L1576.8 430.3L1580.3 430.5L1584.0 430.6L1588.0 430.7L1592.1 430.7L1596.5 430.8L1600.9 430.9L1605.5 431.0L1610.2 431.1L1615.0 431.1L1620.0 431.2L1625.2 431.4L1630.6 431.6L1636.2 431.9L1642.1 432.2L1648.2 432.5L1654.3 432.9L1660.5 433.4L1666.5 433.9L1672.2 434.5L1677.6 435.2L1683.0 435.9L1688.8 436.7L1695.1 437.4L1702.3 438.1L1711.3 438.8L1722.0 439.6L1733.3 440.3L1744.2 441.0L1753.4 441.6L1759.9 442.0" fill="none" stroke="#111" stroke-width="2.6" stroke-linejoin="round"/>
<path d="M1193.5 465.0L1197.4 464.9L1202.8 464.7L1209.2 464.5L1216.2 464.3L1223.3 464.0L1230.0 463.8L1236.7 463.6L1243.8 463.3L1251.0 463.1L1258.0 462.8L1264.7 462.5L1270.7 462.1L1276.1 461.7L1281.0 461.3L1285.6 460.8L1289.8 460.3L1293.8 459.6L1297.6 458.9L1301.2 458.0L1304.4 457.1L1307.4 456.0L1310.3 454.9L1313.0 453.8L1315.6 452.6L1318.2 451.4L1320.6 450.3L1322.9 449.1L1325.0 447.7L1327.1 446.3L1329.0 444.6L1330.8 442.7L1332.4 440.6L1333.9 438.4L1335.4 436.1L1336.7 433.6L1338.0 431.1L1339.2 428.6L1340.4 426.0L1341.4 423.3L1342.4 420.5L1343.4 417.4L1344.3 414.1L1345.1 410.4L1345.9 406.3L1346.6 402.0L1347.3 397.6L1348.0 393.2L1348.7 389.0L1349.5 384.9L1350.3 380.8L1351.2 376.7L1352.0 372.7L1352.8 368.8L1353.5 365.0L1354.2 361.7L1354.8 359.0L1355.3 356.3L1355.9 353.4L1356.4 349.7L1357.0 345.0L1357.6 338.9L1358.2 331.8L1358.8 323.9L1359.4 315.8L1359.9 307.7L1360.5 300.0L1361.1 292.4L1361.6 284.7L1362.2 276.9L1362.7 269.5L1363.1 262.8L1363.5 257.0L1363.8 252.6L1363.9 249.4L1364.0 246.9L1364.1 244.5L1364.3 241.5L1364.5 237.3L1364.8 231.9L1365.2 225.6L1365.6 218.8L1366.0 211.8L1366.5 204.7L1366.9 197.9L1367.3 191.3L1367.7 184.7L1368.2 178.2L1368.6 171.6L1369.0 165.0L1369.5 158.4L1370.0 151.8L1370.4 145.2L1370.9 138.6L1371.4 132.1L1371.9 125.5L1372.4 118.9L1372.9 112.1L1373.5 104.9L1374.1 97.8L1374.7 91.0L1375.3 84.8L1375.8 79.5L1376.3 75.2L1376.7 71.7L1377.1 68.8L1377.5 66.4L1378.0 64.1L1378.5 62.0L1379.1 59.9L1379.7 57.9L1380.3 56.2L1381.0 54.9L1381.7 53.9L1382.3 53.5L1383.0 53.6L1383.6 54.2L1384.3 55.3L1385.0 56.7L1385.5 58.5L1386.0 60.5L1386.3 62.7L1386.5 65.2L1386.6 68.0L1386.8 71.2L1386.9 75.0L1387.2 79.5L1387.6 84.9L1388.1 91.1L1388.6 97.9L1389.1 105.0L1389.7 112.1L1390.2 118.9L1390.7 125.5L1391.3 132.1L1391.8 138.6L1392.4 145.2L1392.9 151.8L1393.5 158.4L1394.1 165.0L1394.6 171.6L1395.2 178.2L1395.8 184.7L1396.4 191.3L1397.1 197.9L1397.9 204.7L1398.7 211.7L1399.6 218.7L1400.4 225.5L1401.2 231.8L1402.0 237.3L1402.6 241.7L1403.1 245.2L1403.6 248.1L1404.1 251.0L1404.7 254.5L1405.5 258.9L1406.6 264.6L1407.8 271.1L1409.2 278.1L1410.6 285.3L1412.0 292.2L1413.4 298.4L1414.7 303.9L1415.9 309.0L1417.1 313.8L1418.4 318.5L1419.8 323.2L1421.3 328.0L1423.0 333.0L1424.9 338.2L1426.8 343.4L1428.9 348.5L1431.0 353.2L1433.1 357.6L1435.2 361.5L1437.4 364.9L1439.6 368.1L1441.9 371.1L1444.3 374.1L1447.0 377.3L1449.9 380.6L1452.9 384.0L1456.0 387.4L1459.4 390.8L1462.9 394.0L1466.7 397.0L1470.8 399.9L1475.4 402.7L1480.1 405.4L1484.8 407.9L1489.4 410.2L1493.7 412.2L1497.6 413.9L1501.3 415.3L1504.8 416.6L1508.2 417.6L1511.7 418.7L1515.2 419.7L1518.8 420.7L1522.3 421.7L1525.9 422.7L1529.5 423.5L1533.1 424.4L1536.8 425.1L1540.7 425.8L1544.7 426.4L1548.8 426.9L1552.7 427.4L1556.5 427.9L1560.0 428.3L1563.0 428.7L1565.5 429.0L1567.9 429.3L1570.3 429.6L1572.9 429.8L1575.9 430.0L1579.4 430.2L1583.1 430.3L1587.1 430.4L1591.2 430.4L1595.6 430.5L1600.0 430.6L1604.6 430.7L1609.3 430.8L1614.1 430.8L1619.1 430.9L1624.3 431.1L1629.7 431.3L1635.3 431.6L1641.2 431.9L1647.3 432.2L1653.4 432.6L1659.6 433.1L1665.6 433.6L1671.3 434.2L1676.7 434.9L1682.1 435.6L1687.9 436.4L1694.2 437.1L1701.4 437.8L1710.4 438.5L1721.1 439.3L1732.4 440.0L1743.3 440.7L1752.5 441.3L1759.0 441.7" fill="none" stroke="#9933ff" stroke-width="3.0" stroke-linejoin="round"/>
<path d="M1516.1 40.1H1575.7" stroke="#000" stroke-width="3"/>
<rect x="1517.6" y="58.4" width="56.8" height="26.5" fill="#c3f5c3" stroke="#f7d7a6" stroke-width="2.2"/>
<rect x="1517.6" y="90.7" width="56.8" height="26.5" fill="#9999ff" stroke="#e0587a" stroke-width="2.2"/>
<rect x="1517.8" y="122.6" width="56.4" height="26.7" fill="#ffc896" stroke="#8a8a8a" stroke-width="2.6"/>
<rect x="1517.6" y="154.2" width="56.8" height="27.6" fill="#ffe6d0" stroke="#ffb3a6" stroke-width="2.2"/>
<path d="M1516.1 199.4H1575.7" stroke="#9933ff" stroke-width="3"/>
<text transform="translate(1580.99,48.57) scale(1.0792,1)" font-size="18.72" fill="#000">C1s Raw (N-rGO)</text>
<text transform="translate(1581,80.4) scale(1.0055,1)" font-size="19.87" fill="#000">C-C/C=C</text>
<text transform="translate(1581,112.6) scale(0.9930,1)" font-size="20.14" fill="#000">C-N</text>
<text transform="translate(1580.69,144.59) scale(0.9667,1)" font-size="20.85" fill="#000">C=O</text>
<text transform="translate(1580.7,176.12) scale(0.9602,1)" font-size="20.86" fill="#000">Cumulative peak</text>
<text transform="translate(1580.49,208.79) scale(0.9542,1)" font-size="21.09" fill="#000">Fitted Curve</text>
<rect x="1192.7" y="14.3" width="567.6" height="459.3" fill="none" stroke="#000" stroke-width="3.0"/>
<path d="M1192.7 473.6V482.9M1273.79 473.6V482.9M1354.87 473.6V482.9M1435.96 473.6V482.9M1517.04 473.6V482.9M1598.13 473.6V482.9M1679.21 473.6V482.9M1760.3 473.6V482.9M1233.24 473.6V478.4M1314.33 473.6V478.4M1395.41 473.6V478.4M1476.5 473.6V478.4M1557.59 473.6V478.4M1638.67 473.6V478.4M1719.76 473.6V478.4" stroke="#000" stroke-width="2.8" fill="none"/>
<text transform="translate(1167.44,513.09) scale(0.9793,1)" font-size="30.99">280</text>
<text transform="translate(1248.52,513.09) scale(0.9793,1)" font-size="30.99">282</text>
<text transform="translate(1329.08,513.09) scale(0.9793,1)" font-size="30.99">284</text>
<text transform="translate(1410.7,513.09) scale(0.9793,1)" font-size="30.99">286</text>
<text transform="translate(1491.63,513.09) scale(0.9793,1)" font-size="30.99">288</text>
<text transform="translate(1572.87,513.09) scale(0.9793,1)" font-size="30.99">290</text>
<text transform="translate(1653.95,513.09) scale(0.9793,1)" font-size="30.99">292</text>
<text transform="translate(1734.51,513.09) scale(0.9793,1)" font-size="30.99">294</text>
<text transform="translate(1331.93,547.2) scale(1.0166,1)" font-size="29.86" fill="#000">Binding Energy (eV)</text>
<text transform="translate(1167.87,348.99) rotate(-90) scale(1.0131,1)" font-size="30.16">Intensity (a.u)</text>
<text transform="translate(1236.92,59.16) scale(1.2199,1)" font-size="25.88" fill="#000">(b)</text>
<path d="M68.4 1000.0L69.4 1000.0L70.4 1000.0L71.4 1000.0L72.4 1000.0L73.4 1000.0L74.4 1000.0L75.4 1000.0L76.4 1000.0L77.4 1000.0L78.4 1000.0L79.4 1000.0L80.4 1000.0L81.4 1000.0L82.4 1000.0L83.4 999.9L84.4 999.9L85.4 999.9L86.4 999.9L87.4 999.9L88.4 999.9L89.4 999.9L90.4 999.9L91.4 999.9L92.4 999.9L93.4 999.9L94.4 999.9L95.4 999.9L96.4 999.9L97.4 999.9L98.4 999.9L99.4 999.9L100.4 999.9L101.4 999.9L102.4 999.9L103.4 999.9L104.4 999.9L105.4 999.9L106.4 999.9L107.4 999.9L108.4 999.9L109.4 999.9L110.4 999.9L111.4 999.9L112.4 999.9L113.4 999.9L114.4 999.8L115.4 999.8L116.4 999.8L117.4 999.8L118.4 999.8L119.4 999.8L120.4 999.8L121.4 999.8L122.4 999.8L123.4 999.8L124.4 999.8L125.4 999.8L126.4 999.8L127.4 999.8L128.4 999.8L129.4 999.8L130.4 999.8L131.4 999.8L132.4 999.8L133.4 999.8L134.4 999.8L135.4 999.7L136.4 999.7L137.4 999.7L138.4 999.7L139.4 999.7L140.4 999.7L141.4 999.7L142.4 999.7L143.4 999.7L144.4 999.7L145.4 999.6L146.4 999.6L147.4 999.6L148.4 999.6L149.4 999.6L150.4 999.6L151.4 999.6L152.4 999.6L153.4 999.6L154.4 999.6L155.4 999.5L156.4 999.5L157.4 999.5L158.4 999.5L159.4 999.5L160.4 999.5L161.4 999.5L162.4 999.5L163.4 999.5L164.4 999.5L165.4 999.4L166.4 999.4L167.4 999.4L168.4 999.4L169.4 999.4L170.4 999.4L171.4 999.4L172.4 999.4L173.4 999.3L174.4 999.3L175.4 999.3L176.4 999.3L177.4 999.3L178.4 999.3L179.4 999.2L180.4 999.2L181.4 999.2L182.4 999.2L183.4 999.2L184.4 999.2L185.4 999.1L186.4 999.1L187.4 999.1L188.4 999.1L189.4 999.1L190.4 999.1L191.4 999.0L192.4 999.0L193.4 999.0L194.4 999.0L195.4 999.0L196.4 999.0L197.4 998.9L198.4 998.9L199.4 998.9L200.4 998.9L201.4 998.9L202.4 998.9L203.4 998.8L204.4 998.8L205.4 998.8L206.4 998.8L207.4 998.8L208.4 998.8L209.4 998.7L210.4 998.7L211.4 998.7L212.4 998.7L213.4 998.7L214.4 998.7L215.4 998.6L216.4 998.6L217.4 998.6L218.4 998.6L219.4 998.6L220.4 998.6L221.4 998.5L222.4 998.5L223.4 998.5L224.4 998.5L225.4 998.5L226.4 998.5L227.4 998.4L228.4 998.4L229.4 998.4L230.4 998.4L231.4 998.3L232.4 998.2L233.4 998.2L234.4 998.1L235.4 998.1L236.4 998.0L237.4 997.9L238.4 997.9L239.4 997.8L240.4 997.7L241.4 997.7L242.4 997.6L243.4 997.6L244.4 997.5L245.4 997.4L246.4 997.4L247.4 997.3L248.4 997.2L249.4 997.2L250.4 997.1L251.4 997.0L252.4 997.0L253.4 996.9L254.4 996.9L255.4 996.8L256.4 996.7L257.4 996.7L258.4 996.6L259.4 996.5L260.4 996.5L261.4 996.4L262.4 996.4L263.4 996.3L264.4 996.2L265.4 996.2L266.4 996.1L267.4 996.1L268.4 996.0L269.4 995.9L270.4 995.9L271.4 995.8L272.4 995.8L273.4 995.7L274.4 995.6L275.4 995.6L276.4 995.5L277.4 995.5L278.4 995.4L279.4 995.3L280.4 995.3L281.4 995.2L282.4 995.2L283.4 995.1L284.4 995.0L285.4 995.0L286.4 994.9L287.4 994.9L288.4 994.8L289.4 994.7L290.4 994.7L291.4 994.6L292.4 994.5L293.4 994.4L294.4 994.3L295.4 994.2L296.4 994.1L297.4 994.0L298.4 993.9L299.4 993.8L300.4 993.7L301.4 993.6L302.4 993.5L303.4 993.4L304.4 993.3L305.4 993.2L306.4 993.1L307.4 993.0L308.4 993.0L309.4 992.9L310.4 992.7L311.4 992.5L312.4 992.4L313.4 992.2L314.4 992.0L315.4 991.8L316.4 991.6L317.4 991.4L318.4 991.2L319.4 991.0L320.4 990.9L321.4 990.7L322.4 990.5L323.4 990.3L324.4 990.1L325.4 989.9L326.4 989.7L327.4 989.5L328.4 989.2L329.4 989.0L330.4 988.8L331.4 988.5L332.4 988.3L333.4 988.1L334.4 987.9L335.4 987.6L336.4 987.4L337.4 987.2L338.4 987.0L339.4 986.7L340.4 986.5L341.4 986.4L342.4 986.3L343.4 986.1L344.4 986.0L345.4 985.9L346.4 985.7L347.4 985.6L348.4 985.5L349.4 985.3L350.4 985.2L351.4 985.1L352.4 984.9L353.4 984.8L354.4 984.7L355.4 984.6L356.4 984.5L357.4 984.5L358.4 984.4L359.4 984.3L360.4 984.3L361.4 984.2L362.4 984.2L363.4 984.1L364.4 984.1L365.4 984.0L366.4 983.9L367.4 983.9L368.4 983.8L369.4 983.8L370.4 983.7L371.4 983.7L372.4 983.6L373.4 983.5L374.4 983.5L375.4 983.4L376.4 983.4L377.4 983.3L378.4 983.2L379.4 983.2L380.4 983.1L381.4 983.1L382.4 983.0L383.4 983.0L384.4 982.9L385.4 982.8L386.4 982.8L387.4 982.7L388.4 982.7L389.4 982.6L390.4 982.6L391.4 982.5L392.4 982.4L393.4 982.4L394.4 982.3L395.4 982.3L396.4 982.2L397.4 982.2L398.4 982.1L399.4 982.0L400.4 982.0L401.4 981.9L402.4 981.9L403.4 981.9L404.4 981.8L405.4 981.8L406.4 981.8L407.4 981.7L408.4 981.7L409.4 981.7L410.4 981.6L411.4 981.6L412.4 981.6L413.4 981.5L414.4 981.5L415.4 981.4L416.4 981.4L417.4 981.4L418.4 981.3L419.4 981.3L420.4 981.3L421.4 981.2L422.4 981.2L423.4 981.2L424.4 981.1L425.4 981.1L426.4 981.0L427.4 981.0L428.4 981.0L429.4 980.9L430.4 980.9L431.4 980.9L432.4 980.8L433.4 980.8L434.4 980.8L435.4 980.7L436.4 980.7L437.4 980.7L438.4 980.6L439.4 980.6L440.4 980.5L441.4 980.5L442.4 980.5L443.4 980.4L444.4 980.4L445.4 980.4L446.4 980.3L447.4 980.3L448.4 980.3L449.4 980.2L450.4 980.2L451.4 980.2L452.4 980.1L453.4 980.1L454.4 980.1L455.4 980.0L456.4 980.0L457.4 980.0L458.4 980.0L459.4 979.9L460.4 979.9L461.4 979.9L462.4 979.9L463.4 979.8L464.4 979.8L465.4 979.8L466.4 979.7L467.4 979.7L468.4 979.7L469.4 979.7L470.4 979.6L471.4 979.6L472.4 979.6L473.4 979.5L474.4 979.5L475.4 979.5L476.4 979.5L477.4 979.4L478.4 979.4L479.4 979.4L480.4 979.3L481.4 979.3L482.4 979.3L483.4 979.3L484.4 979.2L485.4 979.2L486.4 979.2L487.4 979.2L488.4 979.1L489.4 979.1L490.4 979.1L491.4 979.0L492.4 979.0L493.4 979.0L494.4 979.0L495.4 978.9L496.4 978.9L497.4 978.9L498.4 978.8L499.4 978.8L500.4 978.8L501.4 978.8L502.4 978.7L503.4 978.7L504.4 978.7L505.4 978.7L506.4 978.6L507.4 978.6L508.4 978.6L509.4 978.6L510.4 978.5L511.4 978.5L512.4 978.5L513.4 978.4L514.4 978.4L515.4 978.4L516.4 978.4L517.4 978.3L518.4 978.3L519.4 978.3L520.4 978.3L521.4 978.2L522.4 978.2L523.4 978.2L524.4 978.2L525.4 978.1L526.4 978.1L527.4 978.1L528.4 978.1L529.4 978.0L530.4 978.0L531.4 978.0L532.4 977.9L533.4 977.9L534.4 977.9L535.4 977.9L536.4 977.8L537.4 977.8L538.4 977.8L539.4 977.8L540.4 977.7L541.4 977.7L542.4 977.7L543.4 977.7L544.4 977.6L545.4 977.6L546.4 977.6L547.4 977.6L548.4 977.5L549.4 977.5L550.4 977.5L551.4 977.5L552.4 977.4L553.4 977.4L554.4 977.4L555.4 977.3L556.4 977.3L557.4 977.3L558.4 977.3L559.4 977.2L560.4 977.2L561.4 977.2L562.4 977.2L563.4 977.1L564.4 977.1L565.4 977.1L566.4 977.1L567.4 977.0L568.4 977.0L569.4 977.0L570.4 977.0L571.4 976.9L572.4 976.9L573.4 976.9L574.4 976.8L575.4 976.8L576.4 976.8L577.4 976.8L578.4 976.7L579.4 976.7L580.4 976.7L581.4 976.7L582.4 976.7L583.4 976.6L584.4 976.6L585.4 976.6L586.4 976.6L587.4 976.6L588.4 976.5L589.4 976.5L590.4 976.5L591.4 976.5L592.4 976.5L593.4 976.4L594.4 976.4L595.4 976.4L596.4 976.4L597.4 976.4L598.4 976.3L599.4 976.3L600.4 976.3L601.4 976.3L602.4 976.3L603.4 976.2L604.4 976.2L605.4 976.2L606.4 976.2L607.4 976.2L608.4 976.1L609.4 976.1L610.4 976.1L611.4 976.1L612.4 976.1L613.4 976.0L614.4 976.0L615.4 976.0L616.4 976.0L617.4 976.0L618.4 975.9L619.4 975.9L620.4 975.9L621.4 975.9L622.4 975.9L623.4 975.8L624.4 975.8L625.4 975.8L626.4 975.8L627.4 975.8L628.4 975.7L629.4 975.7L630.4 975.7L631.4 975.7L632.4 975.7L633.4 975.6L634.4 975.6L635.4 975.6L636.4 975.6L637.4 975.6L638.4 975.5L639.4 975.5L640.4 975.5L641.4 975.5L642.4 975.5L643.4 975.4L644.4 975.4L645.4 975.4L646.4 975.4L647.4 975.4L648.4 975.4L649.4 975.3L650.4 975.3L651.4 975.3L652.4 975.3L653.4 975.3L654.4 975.2L655.4 975.2L656.4 975.2L657.4 975.2L658.4 975.2L659.4 975.2L660.4 975.1L661.4 975.1L662.4 975.1L663.4 975.1L664.4 975.1L665.4 975.1L666.4 975.0L667.4 975.0L668.4 975.0L669.4 975.0L670.4 975.0L671.4 974.9L672.4 974.9L673.4 974.9L674.4 974.9L675.4 974.9L676.4 974.9L677.4 974.8L678.4 974.8L679.4 974.8L680.4 974.8L681.4 974.8L682.4 974.8L683.4 974.7L684.4 974.7L685.4 974.7L686.4 974.7L687.4 974.7L688.4 974.7L689.4 974.6L690.4 974.6L691.4 974.6L692.4 974.6L693.4 974.6L694.4 974.5L695.4 974.5L695.4 970.1L694.4 970.1L693.4 970.2L692.4 970.3L691.4 970.3L690.4 970.4L689.4 970.4L688.4 970.5L687.4 970.5L686.4 970.6L685.4 970.7L684.4 970.7L683.4 970.8L682.4 970.8L681.4 970.9L680.4 970.9L679.4 971.0L678.4 971.0L677.4 971.1L676.4 971.2L675.4 971.2L674.4 971.3L673.4 971.3L672.4 971.4L671.4 971.4L670.4 971.5L669.4 971.5L668.4 971.6L667.4 971.7L666.4 971.7L665.4 971.8L664.4 971.8L663.4 971.9L662.4 971.9L661.4 972.0L660.4 972.1L659.4 972.1L658.4 972.2L657.4 972.2L656.4 972.3L655.4 972.3L654.4 972.4L653.4 972.4L652.4 972.5L651.4 972.6L650.4 972.6L649.4 972.7L648.4 972.7L647.4 972.8L646.4 972.8L645.4 972.9L644.4 973.0L643.4 973.0L642.4 973.1L641.4 973.1L640.4 973.2L639.4 973.2L638.4 973.3L637.4 973.3L636.4 973.3L635.4 973.4L634.4 973.4L633.4 973.4L632.4 973.5L631.4 973.5L630.4 973.5L629.4 973.6L628.4 973.6L627.4 973.6L626.4 973.7L625.4 973.7L624.4 973.7L623.4 973.8L622.4 973.8L621.4 973.9L620.4 973.9L619.4 973.9L618.4 974.0L617.4 974.0L616.4 974.0L615.4 974.1L614.4 974.1L613.4 974.1L612.4 974.2L611.4 974.2L610.4 974.2L609.4 974.3L608.4 974.3L607.4 974.3L606.4 974.4L605.4 974.4L604.4 974.4L603.4 974.5L602.4 974.5L601.4 974.6L600.4 974.6L599.4 974.6L598.4 974.7L597.4 974.7L596.4 974.7L595.4 974.8L594.4 974.8L593.4 974.8L592.4 974.9L591.4 974.9L590.4 974.9L589.4 975.0L588.4 975.0L587.4 975.0L586.4 975.1L585.4 975.1L584.4 975.1L583.4 975.2L582.4 975.2L581.4 975.3L580.4 975.3L579.4 975.3L578.4 975.3L577.4 975.4L576.4 975.4L575.4 975.4L574.4 975.5L573.4 975.5L572.4 975.5L571.4 975.6L570.4 975.6L569.4 975.6L568.4 975.7L567.4 975.7L566.4 975.7L565.4 975.8L564.4 975.8L563.4 975.8L562.4 975.8L561.4 975.9L560.4 975.9L559.4 975.9L558.4 976.0L557.4 976.0L556.4 976.0L555.4 976.1L554.4 976.1L553.4 976.1L552.4 976.2L551.4 976.2L550.4 976.2L549.4 976.3L548.4 976.3L547.4 976.3L546.4 976.3L545.4 976.4L544.4 976.4L543.4 976.4L542.4 976.5L541.4 976.5L540.4 976.5L539.4 976.6L538.4 976.6L537.4 976.6L536.4 976.7L535.4 976.7L534.4 976.7L533.4 976.8L532.4 976.8L531.4 976.8L530.4 976.8L529.4 976.9L528.4 976.9L527.4 976.9L526.4 977.0L525.4 977.0L524.4 977.0L523.4 977.1L522.4 977.1L521.4 977.1L520.4 977.2L519.4 977.2L518.4 977.2L517.4 977.3L516.4 977.3L515.4 977.3L514.4 977.3L513.4 977.4L512.4 977.4L511.4 977.4L510.4 977.5L509.4 977.5L508.4 977.5L507.4 977.6L506.4 977.6L505.4 977.6L504.4 977.7L503.4 977.7L502.4 977.7L501.4 977.8L500.4 977.8L499.4 977.8L498.4 977.9L497.4 977.9L496.4 977.9L495.4 977.9L494.4 978.0L493.4 978.0L492.4 978.0L491.4 978.1L490.4 978.1L489.4 978.1L488.4 978.2L487.4 978.2L486.4 978.2L485.4 978.3L484.4 978.3L483.4 978.3L482.4 978.4L481.4 978.4L480.4 978.4L479.4 978.5L478.4 978.5L477.4 978.5L476.4 978.6L475.4 978.6L474.4 978.6L473.4 978.7L472.4 978.7L471.4 978.7L470.4 978.7L469.4 978.8L468.4 978.8L467.4 978.8L466.4 978.9L465.4 978.9L464.4 978.9L463.4 979.0L462.4 979.0L461.4 979.0L460.4 979.1L459.4 979.1L458.4 979.1L457.4 979.2L456.4 979.2L455.4 979.2L454.4 979.3L453.4 979.3L452.4 979.3L451.4 979.4L450.4 979.4L449.4 979.4L448.4 979.5L447.4 979.5L446.4 979.5L445.4 979.6L444.4 979.6L443.4 979.6L442.4 979.7L441.4 979.7L440.4 979.7L439.4 979.8L438.4 979.8L437.4 979.8L436.4 979.9L435.4 979.9L434.4 979.9L433.4 980.0L432.4 980.0L431.4 980.0L430.4 980.1L429.4 980.1L428.4 980.1L427.4 980.2L426.4 980.2L425.4 980.2L424.4 980.3L423.4 980.3L422.4 980.3L421.4 980.4L420.4 980.4L419.4 980.4L418.4 980.5L417.4 980.5L416.4 980.5L415.4 980.6L414.4 980.6L413.4 980.6L412.4 980.7L411.4 980.7L410.4 980.7L409.4 980.8L408.4 980.8L407.4 980.8L406.4 980.9L405.4 980.9L404.4 981.0L403.4 981.0L402.4 981.0L401.4 981.1L400.4 981.1L399.4 981.1L398.4 981.2L397.4 981.2L396.4 981.3L395.4 981.3L394.4 981.4L393.4 981.5L392.4 981.5L391.4 981.6L390.4 981.6L389.4 981.7L388.4 981.7L387.4 981.8L386.4 981.8L385.4 981.9L384.4 981.9L383.4 982.0L382.4 982.0L381.4 982.1L380.4 982.1L379.4 982.2L378.4 982.3L377.4 982.3L376.4 982.4L375.4 982.4L374.4 982.5L373.4 982.5L372.4 982.6L371.4 982.6L370.4 982.7L369.4 982.7L368.4 982.8L367.4 982.8L366.4 982.9L365.4 982.9L364.4 983.0L363.4 983.1L362.4 983.1L361.4 983.2L360.4 983.2L359.4 983.3L358.4 983.3L357.4 983.4L356.4 983.4L355.4 983.5L354.4 983.5L353.4 983.6L352.4 983.6L351.4 983.7L350.4 983.7L349.4 983.8L348.4 983.9L347.4 983.9L346.4 984.0L345.4 984.0L344.4 984.1L343.4 984.1L342.4 984.2L341.4 984.2L340.4 984.3L339.4 984.3L338.4 984.4L337.4 984.4L336.4 984.5L335.4 984.5L334.4 984.6L333.4 984.6L332.4 984.7L331.4 984.7L330.4 984.8L329.4 984.8L328.4 984.9L327.4 984.9L326.4 984.9L325.4 985.0L324.4 985.0L323.4 985.1L322.4 985.1L321.4 985.2L320.4 985.2L319.4 985.3L318.4 985.3L317.4 985.4L316.4 985.4L315.4 985.5L314.4 985.5L313.4 985.6L312.4 985.6L311.4 985.7L310.4 985.7L309.4 985.8L308.4 985.8L307.4 985.8L306.4 985.9L305.4 985.9L304.4 986.0L303.4 986.0L302.4 986.1L301.4 986.1L300.4 986.2L299.4 986.2L298.4 986.3L297.4 986.3L296.4 986.4L295.4 986.4L294.4 986.5L293.4 986.5L292.4 986.5L291.4 986.6L290.4 986.6L289.4 986.7L288.4 986.7L287.4 986.8L286.4 986.8L285.4 986.9L284.4 986.9L283.4 986.9L282.4 987.0L281.4 987.0L280.4 987.1L279.4 987.1L278.4 987.2L277.4 987.2L276.4 987.3L275.4 987.3L274.4 987.4L273.4 987.4L272.4 987.4L271.4 987.5L270.4 987.5L269.4 987.6L268.4 987.6L267.4 987.7L266.4 987.7L265.4 987.8L264.4 987.8L263.4 987.8L262.4 987.9L261.4 987.9L260.4 988.0L259.4 988.0L258.4 988.1L257.4 988.2L256.4 988.2L255.4 988.3L254.4 988.3L253.4 988.4L252.4 988.4L251.4 988.5L250.4 988.6L249.4 988.6L248.4 988.7L247.4 988.7L246.4 988.8L245.4 988.8L244.4 988.9L243.4 989.0L242.4 989.0L241.4 989.1L240.4 989.1L239.4 989.2L238.4 989.3L237.4 989.3L236.4 989.4L235.4 989.4L234.4 989.5L233.4 989.5L232.4 989.6L231.4 989.7L230.4 989.7L229.4 989.8L228.4 989.8L227.4 989.9L226.4 989.9L225.4 990.0L224.4 990.1L223.4 990.1L222.4 990.2L221.4 990.2L220.4 990.3L219.4 990.4L218.4 990.4L217.4 990.5L216.4 990.5L215.4 990.6L214.4 990.6L213.4 990.7L212.4 990.8L211.4 990.8L210.4 990.9L209.4 990.9L208.4 991.0L207.4 991.0L206.4 991.1L205.4 991.1L204.4 991.2L203.4 991.2L202.4 991.3L201.4 991.3L200.4 991.4L199.4 991.4L198.4 991.5L197.4 991.5L196.4 991.5L195.4 991.6L194.4 991.6L193.4 991.7L192.4 991.7L191.4 991.8L190.4 991.8L189.4 991.9L188.4 991.9L187.4 992.0L186.4 992.0L185.4 992.1L184.4 992.1L183.4 992.2L182.4 992.2L181.4 992.3L180.4 992.3L179.4 992.4L178.4 992.4L177.4 992.4L176.4 992.5L175.4 992.5L174.4 992.6L173.4 992.6L172.4 992.7L171.4 992.7L170.4 992.8L169.4 992.8L168.4 992.9L167.4 992.9L166.4 993.0L165.4 993.1L164.4 993.1L163.4 993.2L162.4 993.2L161.4 993.3L160.4 993.3L159.4 993.4L158.4 993.4L157.4 993.5L156.4 993.5L155.4 993.6L154.4 993.7L153.4 993.7L152.4 993.8L151.4 993.8L150.4 993.9L149.4 993.9L148.4 994.0L147.4 994.0L146.4 994.1L145.4 994.2L144.4 994.2L143.4 994.3L142.4 994.3L141.4 994.4L140.4 994.4L139.4 994.5L138.4 994.5L137.4 994.6L136.4 994.6L135.4 994.7L134.4 994.8L133.4 994.8L132.4 994.9L131.4 994.9L130.4 995.0L129.4 995.0L128.4 995.0L127.4 995.1L126.4 995.1L125.4 995.1L124.4 995.1L123.4 995.2L122.4 995.2L121.4 995.2L120.4 995.2L119.4 995.3L118.4 995.3L117.4 995.3L116.4 995.3L115.4 995.4L114.4 995.4L113.4 995.4L112.4 995.4L111.4 995.5L110.4 995.5L109.4 995.5L108.4 995.5L107.4 995.6L106.4 995.6L105.4 995.6L104.4 995.7L103.4 995.7L102.4 995.7L101.4 995.7L100.4 995.8L99.4 995.8L98.4 995.8L97.4 995.8L96.4 995.9L95.4 995.9L94.4 995.9L93.4 995.9L92.4 996.0L91.4 996.0L90.4 996.0L89.4 996.0L88.4 996.1L87.4 996.1L86.4 996.1L85.4 996.1L84.4 996.2L83.4 996.2L82.4 996.2L81.4 996.2L80.4 996.3L79.4 996.3L78.4 996.3L77.4 996.3L76.4 996.4L75.4 996.4L74.4 996.4L73.4 996.4L72.4 996.5L71.4 996.5L70.4 996.5L69.4 996.5L68.4 996.6Z" fill="rgba(150,30,75,0.75)" stroke="none"/>
<path d="M178.4 992.0L179.4 991.9L180.4 991.8L181.4 991.7L182.4 991.6L183.4 991.5L184.4 991.4L185.4 991.2L186.4 991.1L187.4 990.9L188.4 990.8L189.4 990.6L190.4 990.4L191.4 990.2L192.4 990.0L193.4 989.7L194.4 989.5L195.4 989.2L196.4 988.9L197.4 988.6L198.4 988.3L199.4 987.9L200.4 987.5L201.4 987.1L202.4 986.7L203.4 986.2L204.4 985.6L205.4 985.1L206.4 984.5L207.4 983.8L208.4 983.2L209.4 982.4L210.4 981.6L211.4 980.8L212.4 979.8L213.4 978.9L214.4 977.8L215.4 976.7L216.4 975.6L217.4 974.3L218.4 973.0L219.4 971.6L220.4 970.1L221.4 968.5L222.4 966.8L223.4 965.1L224.4 963.2L225.4 961.2L226.4 959.2L227.4 957.0L228.4 954.7L229.4 952.3L230.4 949.8L231.4 947.2L232.4 944.4L233.4 941.5L234.4 938.5L235.4 935.4L236.4 932.2L237.4 928.8L238.4 925.3L239.4 921.6L240.4 917.9L241.4 914.0L242.4 910.0L243.4 905.8L244.4 901.5L245.4 897.2L246.4 892.7L247.4 888.0L248.4 883.3L249.4 878.5L250.4 873.5L251.4 868.5L252.4 863.4L253.4 858.2L254.4 852.9L255.4 847.6L256.4 842.1L257.4 836.7L258.4 831.2L259.4 825.7L260.4 820.1L261.4 814.6L262.4 809.0L263.4 803.5L264.4 798.0L265.4 792.5L266.4 787.1L267.4 781.7L268.4 776.4L269.4 771.2L270.4 766.1L271.4 761.1L272.4 756.2L273.4 751.4L274.4 746.8L275.4 742.4L276.4 738.1L277.4 734.0L278.4 730.1L279.4 726.4L280.4 722.9L281.4 719.6L282.4 716.6L283.4 713.8L284.4 711.3L285.4 709.0L286.4 707.0L287.4 705.3L288.4 703.8L289.4 702.6L290.4 701.7L291.4 701.1L292.4 700.8L293.4 700.7L294.4 700.9L295.4 701.4L296.4 702.1L297.4 703.0L298.4 704.2L299.4 705.6L300.4 707.2L301.4 709.1L302.4 711.2L303.4 713.5L304.4 716.1L305.4 718.8L306.4 721.7L307.4 724.9L308.4 728.2L309.4 731.7L310.4 735.3L311.4 739.2L312.4 743.1L313.4 747.2L314.4 751.5L315.4 755.9L316.4 760.3L317.4 764.9L318.4 769.6L319.4 774.3L320.4 779.2L321.4 784.0L322.4 789.0L323.4 793.9L324.4 799.0L325.4 804.0L326.4 809.0L327.4 814.1L328.4 819.1L329.4 824.2L330.4 829.2L331.4 834.2L332.4 839.1L333.4 844.0L334.4 848.9L335.4 853.7L336.4 858.4L337.4 863.1L338.4 867.6L339.4 872.1L340.4 876.6L341.4 880.9L342.4 885.1L343.4 889.3L344.4 893.3L345.4 897.2L346.4 901.1L347.4 904.8L348.4 908.4L349.4 911.9L350.4 915.3L351.4 918.6L352.4 921.8L353.4 924.9L354.4 927.9L355.4 930.7L356.4 933.5L357.4 936.1L358.4 938.6L359.4 941.1L360.4 943.4L361.4 945.6L362.4 947.7L363.4 949.8L364.4 951.7L365.4 953.5L366.4 955.3L367.4 956.9L368.4 958.5L369.4 960.0L370.4 961.4L371.4 962.7L372.4 964.0L373.4 965.2L374.4 966.3L375.4 967.4L376.4 968.3L377.4 969.3L378.4 970.1L379.4 971.0L380.4 971.7L381.4 972.4L382.4 973.1L383.4 973.7L384.4 974.3L385.4 974.8L386.4 975.3L387.4 975.8L388.4 976.2L389.4 976.6L390.4 976.9L391.4 977.3L392.4 977.6L393.4 977.8L394.4 978.1L395.4 978.3L396.4 978.5L397.4 978.7L398.4 978.9L399.4 979.0L400.4 979.2L401.4 979.3L402.4 979.4L403.4 979.5L404.4 979.6L405.4 979.7L406.4 979.8L407.4 979.9L408.4 979.9L409.4 980.0L410.4 980.0L411.4 980.1L412.4 980.1L413.4 980.1L414.4 980.1L415.4 980.1L416.4 980.2L416.4 980.5L415.4 980.6L414.4 980.6L413.4 980.6L412.4 980.7L411.4 980.7L410.4 980.7L409.4 980.8L408.4 980.8L407.4 980.8L406.4 980.9L405.4 980.9L404.4 981.0L403.4 981.0L402.4 981.0L401.4 981.1L400.4 981.1L399.4 981.1L398.4 981.2L397.4 981.2L396.4 981.3L395.4 981.3L394.4 981.4L393.4 981.5L392.4 981.5L391.4 981.6L390.4 981.6L389.4 981.7L388.4 981.7L387.4 981.8L386.4 981.8L385.4 981.9L384.4 981.9L383.4 982.0L382.4 982.0L381.4 982.1L380.4 982.1L379.4 982.2L378.4 982.3L377.4 982.3L376.4 982.4L375.4 982.4L374.4 982.5L373.4 982.5L372.4 982.6L371.4 982.6L370.4 982.7L369.4 982.7L368.4 982.8L367.4 982.8L366.4 982.9L365.4 982.9L364.4 983.0L363.4 983.1L362.4 983.1L361.4 983.2L360.4 983.2L359.4 983.3L358.4 983.3L357.4 983.4L356.4 983.4L355.4 983.5L354.4 983.5L353.4 983.6L352.4 983.6L351.4 983.7L350.4 983.7L349.4 983.8L348.4 983.9L347.4 983.9L346.4 984.0L345.4 984.0L344.4 984.1L343.4 984.1L342.4 984.2L341.4 984.2L340.4 984.3L339.4 984.3L338.4 984.4L337.4 984.4L336.4 984.5L335.4 984.5L334.4 984.6L333.4 984.6L332.4 984.7L331.4 984.7L330.4 984.8L329.4 984.8L328.4 984.9L327.4 984.9L326.4 984.9L325.4 985.0L324.4 985.0L323.4 985.1L322.4 985.1L321.4 985.2L320.4 985.2L319.4 985.3L318.4 985.3L317.4 985.4L316.4 985.4L315.4 985.5L314.4 985.5L313.4 985.6L312.4 985.6L311.4 985.7L310.4 985.7L309.4 985.8L308.4 985.8L307.4 985.8L306.4 985.9L305.4 985.9L304.4 986.0L303.4 986.0L302.4 986.1L301.4 986.1L300.4 986.2L299.4 986.2L298.4 986.3L297.4 986.3L296.4 986.4L295.4 986.4L294.4 986.5L293.4 986.5L292.4 986.5L291.4 986.6L290.4 986.6L289.4 986.7L288.4 986.7L287.4 986.8L286.4 986.8L285.4 986.9L284.4 986.9L283.4 986.9L282.4 987.0L281.4 987.0L280.4 987.1L279.4 987.1L278.4 987.2L277.4 987.2L276.4 987.3L275.4 987.3L274.4 987.4L273.4 987.4L272.4 987.4L271.4 987.5L270.4 987.5L269.4 987.6L268.4 987.6L267.4 987.7L266.4 987.7L265.4 987.8L264.4 987.8L263.4 987.8L262.4 987.9L261.4 987.9L260.4 988.0L259.4 988.0L258.4 988.1L257.4 988.2L256.4 988.2L255.4 988.3L254.4 988.3L253.4 988.4L252.4 988.4L251.4 988.5L250.4 988.6L249.4 988.6L248.4 988.7L247.4 988.7L246.4 988.8L245.4 988.8L244.4 988.9L243.4 989.0L242.4 989.0L241.4 989.1L240.4 989.1L239.4 989.2L238.4 989.3L237.4 989.3L236.4 989.4L235.4 989.4L234.4 989.5L233.4 989.5L232.4 989.6L231.4 989.7L230.4 989.7L229.4 989.8L228.4 989.8L227.4 989.9L226.4 989.9L225.4 990.0L224.4 990.1L223.4 990.1L222.4 990.2L221.4 990.2L220.4 990.3L219.4 990.4L218.4 990.4L217.4 990.5L216.4 990.5L215.4 990.6L214.4 990.6L213.4 990.7L212.4 990.8L211.4 990.8L210.4 990.9L209.4 990.9L208.4 991.0L207.4 991.0L206.4 991.1L205.4 991.1L204.4 991.2L203.4 991.2L202.4 991.3L201.4 991.3L200.4 991.4L199.4 991.4L198.4 991.5L197.4 991.5L196.4 991.5L195.4 991.6L194.4 991.6L193.4 991.7L192.4 991.7L191.4 991.8L190.4 991.8L189.4 991.9L188.4 991.9L187.4 992.0L186.4 992.0L185.4 992.1L184.4 992.1L183.4 992.2L182.4 992.2L181.4 992.3L180.4 992.3L179.4 992.4L178.4 992.4Z" fill="#b8ffb8" stroke="none"/>
<path d="M178.4 992.0L179.4 991.9L180.4 991.8L181.4 991.7L182.4 991.6L183.4 991.5L184.4 991.4L185.4 991.2L186.4 991.1L187.4 990.9L188.4 990.8L189.4 990.6L190.4 990.4L191.4 990.2L192.4 990.0L193.4 989.7L194.4 989.5L195.4 989.2L196.4 988.9L197.4 988.6L198.4 988.3L199.4 987.9L200.4 987.5L201.4 987.1L202.4 986.7L203.4 986.2L204.4 985.6L205.4 985.1L206.4 984.5L207.4 983.8L208.4 983.2L209.4 982.4L210.4 981.6L211.4 980.8L212.4 979.8L213.4 978.9L214.4 977.8L215.4 976.7L216.4 975.6L217.4 974.3L218.4 973.0L219.4 971.6L220.4 970.1L221.4 968.5L222.4 966.8L223.4 965.1L224.4 963.2L225.4 961.2L226.4 959.2L227.4 957.0L228.4 954.7L229.4 952.3L230.4 949.8L231.4 947.2L232.4 944.4L233.4 941.5L234.4 938.5L235.4 935.4L236.4 932.2L237.4 928.8L238.4 925.3L239.4 921.6L240.4 917.9L241.4 914.0L242.4 910.0L243.4 905.8L244.4 901.5L245.4 897.2L246.4 892.7L247.4 888.0L248.4 883.3L249.4 878.5L250.4 873.5L251.4 868.5L252.4 863.4L253.4 858.2L254.4 852.9L255.4 847.6L256.4 842.1L257.4 836.7L258.4 831.2L259.4 825.7L260.4 820.1L261.4 814.6L262.4 809.0L263.4 803.5L264.4 798.0L265.4 792.5L266.4 787.1L267.4 781.7L268.4 776.4L269.4 771.2L270.4 766.1L271.4 761.1L272.4 756.2L273.4 751.4L274.4 746.8L275.4 742.4L276.4 738.1L277.4 734.0L278.4 730.1L279.4 726.4L280.4 722.9L281.4 719.6L282.4 716.6L283.4 713.8L284.4 711.3L285.4 709.0L286.4 707.0L287.4 705.3L288.4 703.8L289.4 702.6L290.4 701.7L291.4 701.1L292.4 700.8L293.4 700.7L294.4 700.9L295.4 701.4L296.4 702.1L297.4 703.0L298.4 704.2L299.4 705.6L300.4 707.2L301.4 709.1L302.4 711.2L303.4 713.5L304.4 716.1L305.4 718.8L306.4 721.7L307.4 724.9L308.4 728.2L309.4 731.7L310.4 735.3L311.4 739.2L312.4 743.1L313.4 747.2L314.4 751.5L315.4 755.9L316.4 760.3L317.4 764.9L318.4 769.6L319.4 774.3L320.4 779.2L321.4 784.0L322.4 789.0L323.4 793.9L324.4 799.0L325.4 804.0L326.4 809.0L327.4 814.1L328.4 819.1L329.4 824.2L330.4 829.2L331.4 834.2L332.4 839.1L333.4 844.0L334.4 848.9L335.4 853.7L336.4 858.4L337.4 863.1L338.4 867.6L339.4 872.1L340.4 876.6L341.4 880.9L342.4 885.1L343.4 889.3L344.4 893.3L345.4 897.2L346.4 901.1L347.4 904.8L348.4 908.4L349.4 911.9L350.4 915.3L351.4 918.6L352.4 921.8L353.4 924.9L354.4 927.9L355.4 930.7L356.4 933.5L357.4 936.1L358.4 938.6L359.4 941.1L360.4 943.4L361.4 945.6L362.4 947.7L363.4 949.8L364.4 951.7L365.4 953.5L366.4 955.3L367.4 956.9L368.4 958.5L369.4 960.0L370.4 961.4L371.4 962.7L372.4 964.0L373.4 965.2L374.4 966.3L375.4 967.4L376.4 968.3L377.4 969.3L378.4 970.1L379.4 971.0L380.4 971.7L381.4 972.4L382.4 973.1L383.4 973.7L384.4 974.3L385.4 974.8L386.4 975.3L387.4 975.8L388.4 976.2L389.4 976.6L390.4 976.9L391.4 977.3L392.4 977.6L393.4 977.8L394.4 978.1L395.4 978.3L396.4 978.5L397.4 978.7L398.4 978.9L399.4 979.0L400.4 979.2L401.4 979.3L402.4 979.4L403.4 979.5L404.4 979.6L405.4 979.7L406.4 979.8L407.4 979.9L408.4 979.9L409.4 980.0L410.4 980.0L411.4 980.1L412.4 980.1L413.4 980.1L414.4 980.1L415.4 980.1L416.4 980.2" fill="none" stroke="#f3c27e" stroke-width="1.6" stroke-linejoin="round"/>
<path d="M238.4 988.9L239.4 988.8L240.4 988.7L241.4 988.6L242.4 988.4L243.4 988.3L244.4 988.2L245.4 988.0L246.4 987.9L247.4 987.7L248.4 987.5L249.4 987.3L250.4 987.1L251.4 986.9L252.4 986.7L253.4 986.4L254.4 986.2L255.4 985.9L256.4 985.6L257.4 985.2L258.4 984.9L259.4 984.5L260.4 984.1L261.4 983.7L262.4 983.2L263.4 982.7L264.4 982.2L265.4 981.6L266.4 981.0L267.4 980.3L268.4 979.6L269.4 978.8L270.4 978.0L271.4 977.2L272.4 976.2L273.4 975.2L274.4 974.2L275.4 973.0L276.4 971.8L277.4 970.6L278.4 969.2L279.4 967.8L280.4 966.3L281.4 964.7L282.4 963.0L283.4 961.2L284.4 959.3L285.4 957.3L286.4 955.3L287.4 953.1L288.4 950.8L289.4 948.4L290.4 945.9L291.4 943.3L292.4 940.5L293.4 937.7L294.4 934.8L295.4 931.7L296.4 928.5L297.4 925.3L298.4 921.9L299.4 918.4L300.4 914.8L301.4 911.1L302.4 907.2L303.4 903.3L304.4 899.3L305.4 895.3L306.4 891.1L307.4 886.8L308.4 882.5L309.4 878.1L310.4 873.7L311.4 869.2L312.4 864.7L313.4 860.1L314.4 855.5L315.4 850.9L316.4 846.3L317.4 841.7L318.4 837.1L319.4 832.6L320.4 828.0L321.4 823.6L322.4 819.2L323.4 814.8L324.4 810.5L325.4 806.4L326.4 802.3L327.4 798.4L328.4 794.6L329.4 790.9L330.4 787.4L331.4 784.0L332.4 780.8L333.4 777.8L334.4 775.0L335.4 772.3L336.4 769.9L337.4 767.7L338.4 765.7L339.4 764.0L340.4 762.5L341.4 761.2L342.4 760.1L343.4 759.3L344.4 758.8L345.4 758.5L346.4 758.4L347.4 758.6L348.4 759.0L349.4 759.7L350.4 760.6L351.4 761.7L352.4 763.1L353.4 764.7L354.4 766.5L355.4 768.6L356.4 770.8L357.4 773.3L358.4 775.9L359.4 778.7L360.4 781.7L361.4 784.9L362.4 788.2L363.4 791.7L364.4 795.3L365.4 799.1L366.4 802.9L367.4 806.9L368.4 810.9L369.4 815.1L370.4 819.3L371.4 823.6L372.4 827.9L373.4 832.3L374.4 836.7L375.4 841.1L376.4 845.5L377.4 850.0L378.4 854.4L379.4 858.8L380.4 863.2L381.4 867.5L382.4 871.8L383.4 876.0L384.4 880.2L385.4 884.4L386.4 888.4L387.4 892.4L388.4 896.3L389.4 900.1L390.4 903.8L391.4 907.4L392.4 910.9L393.4 914.4L394.4 917.7L395.4 920.9L396.4 924.0L397.4 927.0L398.4 929.9L399.4 932.7L400.4 935.4L401.4 938.0L402.4 940.5L403.4 942.8L404.4 945.1L405.4 947.3L406.4 949.3L407.4 951.3L408.4 953.2L409.4 955.0L410.4 956.6L411.4 958.2L412.4 959.7L413.4 961.2L414.4 962.5L415.4 963.8L416.4 964.9L417.4 966.1L418.4 967.1L419.4 968.1L420.4 969.0L421.4 969.8L422.4 970.6L423.4 971.4L424.4 972.1L425.4 972.7L426.4 973.3L427.4 973.8L428.4 974.3L429.4 974.8L430.4 975.2L431.4 975.6L432.4 976.0L433.4 976.3L434.4 976.6L435.4 976.9L436.4 977.1L437.4 977.3L438.4 977.5L439.4 977.7L440.4 977.9L441.4 978.0L442.4 978.1L443.4 978.3L444.4 978.4L445.4 978.5L446.4 978.5L447.4 978.6L448.4 978.7L449.4 978.7L450.4 978.8L451.4 978.8L452.4 978.8L453.4 978.8L454.4 978.9L455.4 978.9L455.4 979.2L454.4 979.3L453.4 979.3L452.4 979.3L451.4 979.4L450.4 979.4L449.4 979.4L448.4 979.5L447.4 979.5L446.4 979.5L445.4 979.6L444.4 979.6L443.4 979.6L442.4 979.7L441.4 979.7L440.4 979.7L439.4 979.8L438.4 979.8L437.4 979.8L436.4 979.9L435.4 979.9L434.4 979.9L433.4 980.0L432.4 980.0L431.4 980.0L430.4 980.1L429.4 980.1L428.4 980.1L427.4 980.2L426.4 980.2L425.4 980.2L424.4 980.3L423.4 980.3L422.4 980.3L421.4 980.4L420.4 980.4L419.4 980.4L418.4 980.5L417.4 980.5L416.4 980.5L415.4 980.6L414.4 980.6L413.4 980.6L412.4 980.7L411.4 980.7L410.4 980.7L409.4 980.8L408.4 980.8L407.4 980.8L406.4 980.9L405.4 980.9L404.4 981.0L403.4 981.0L402.4 981.0L401.4 981.1L400.4 981.1L399.4 981.1L398.4 981.2L397.4 981.2L396.4 981.3L395.4 981.3L394.4 981.4L393.4 981.5L392.4 981.5L391.4 981.6L390.4 981.6L389.4 981.7L388.4 981.7L387.4 981.8L386.4 981.8L385.4 981.9L384.4 981.9L383.4 982.0L382.4 982.0L381.4 982.1L380.4 982.1L379.4 982.2L378.4 982.3L377.4 982.3L376.4 982.4L375.4 982.4L374.4 982.5L373.4 982.5L372.4 982.6L371.4 982.6L370.4 982.7L369.4 982.7L368.4 982.8L367.4 982.8L366.4 982.9L365.4 982.9L364.4 983.0L363.4 983.1L362.4 983.1L361.4 983.2L360.4 983.2L359.4 983.3L358.4 983.3L357.4 983.4L356.4 983.4L355.4 983.5L354.4 983.5L353.4 983.6L352.4 983.6L351.4 983.7L350.4 983.7L349.4 983.8L348.4 983.9L347.4 983.9L346.4 984.0L345.4 984.0L344.4 984.1L343.4 984.1L342.4 984.2L341.4 984.2L340.4 984.3L339.4 984.3L338.4 984.4L337.4 984.4L336.4 984.5L335.4 984.5L334.4 984.6L333.4 984.6L332.4 984.7L331.4 984.7L330.4 984.8L329.4 984.8L328.4 984.9L327.4 984.9L326.4 984.9L325.4 985.0L324.4 985.0L323.4 985.1L322.4 985.1L321.4 985.2L320.4 985.2L319.4 985.3L318.4 985.3L317.4 985.4L316.4 985.4L315.4 985.5L314.4 985.5L313.4 985.6L312.4 985.6L311.4 985.7L310.4 985.7L309.4 985.8L308.4 985.8L307.4 985.8L306.4 985.9L305.4 985.9L304.4 986.0L303.4 986.0L302.4 986.1L301.4 986.1L300.4 986.2L299.4 986.2L298.4 986.3L297.4 986.3L296.4 986.4L295.4 986.4L294.4 986.5L293.4 986.5L292.4 986.5L291.4 986.6L290.4 986.6L289.4 986.7L288.4 986.7L287.4 986.8L286.4 986.8L285.4 986.9L284.4 986.9L283.4 986.9L282.4 987.0L281.4 987.0L280.4 987.1L279.4 987.1L278.4 987.2L277.4 987.2L276.4 987.3L275.4 987.3L274.4 987.4L273.4 987.4L272.4 987.4L271.4 987.5L270.4 987.5L269.4 987.6L268.4 987.6L267.4 987.7L266.4 987.7L265.4 987.8L264.4 987.8L263.4 987.8L262.4 987.9L261.4 987.9L260.4 988.0L259.4 988.0L258.4 988.1L257.4 988.2L256.4 988.2L255.4 988.3L254.4 988.3L253.4 988.4L252.4 988.4L251.4 988.5L250.4 988.6L249.4 988.6L248.4 988.7L247.4 988.7L246.4 988.8L245.4 988.8L244.4 988.9L243.4 989.0L242.4 989.0L241.4 989.1L240.4 989.1L239.4 989.2L238.4 989.3Z" fill="rgba(78,150,196,0.51)" stroke="none"/>
<path d="M238.4 988.9L239.4 988.8L240.4 988.7L241.4 988.6L242.4 988.4L243.4 988.3L244.4 988.2L245.4 988.0L246.4 987.9L247.4 987.7L248.4 987.5L249.4 987.3L250.4 987.1L251.4 986.9L252.4 986.7L253.4 986.4L254.4 986.2L255.4 985.9L256.4 985.6L257.4 985.2L258.4 984.9L259.4 984.5L260.4 984.1L261.4 983.7L262.4 983.2L263.4 982.7L264.4 982.2L265.4 981.6L266.4 981.0L267.4 980.3L268.4 979.6L269.4 978.8L270.4 978.0L271.4 977.2L272.4 976.2L273.4 975.2L274.4 974.2L275.4 973.0L276.4 971.8L277.4 970.6L278.4 969.2L279.4 967.8L280.4 966.3L281.4 964.7L282.4 963.0L283.4 961.2L284.4 959.3L285.4 957.3L286.4 955.3L287.4 953.1L288.4 950.8L289.4 948.4L290.4 945.9L291.4 943.3L292.4 940.5L293.4 937.7L294.4 934.8L295.4 931.7L296.4 928.5L297.4 925.3L298.4 921.9L299.4 918.4L300.4 914.8L301.4 911.1L302.4 907.2L303.4 903.3L304.4 899.3L305.4 895.3L306.4 891.1L307.4 886.8L308.4 882.5L309.4 878.1L310.4 873.7L311.4 869.2L312.4 864.7L313.4 860.1L314.4 855.5L315.4 850.9L316.4 846.3L317.4 841.7L318.4 837.1L319.4 832.6L320.4 828.0L321.4 823.6L322.4 819.2L323.4 814.8L324.4 810.5L325.4 806.4L326.4 802.3L327.4 798.4L328.4 794.6L329.4 790.9L330.4 787.4L331.4 784.0L332.4 780.8L333.4 777.8L334.4 775.0L335.4 772.3L336.4 769.9L337.4 767.7L338.4 765.7L339.4 764.0L340.4 762.5L341.4 761.2L342.4 760.1L343.4 759.3L344.4 758.8L345.4 758.5L346.4 758.4L347.4 758.6L348.4 759.0L349.4 759.7L350.4 760.6L351.4 761.7L352.4 763.1L353.4 764.7L354.4 766.5L355.4 768.6L356.4 770.8L357.4 773.3L358.4 775.9L359.4 778.7L360.4 781.7L361.4 784.9L362.4 788.2L363.4 791.7L364.4 795.3L365.4 799.1L366.4 802.9L367.4 806.9L368.4 810.9L369.4 815.1L370.4 819.3L371.4 823.6L372.4 827.9L373.4 832.3L374.4 836.7L375.4 841.1L376.4 845.5L377.4 850.0L378.4 854.4L379.4 858.8L380.4 863.2L381.4 867.5L382.4 871.8L383.4 876.0L384.4 880.2L385.4 884.4L386.4 888.4L387.4 892.4L388.4 896.3L389.4 900.1L390.4 903.8L391.4 907.4L392.4 910.9L393.4 914.4L394.4 917.7L395.4 920.9L396.4 924.0L397.4 927.0L398.4 929.9L399.4 932.7L400.4 935.4L401.4 938.0L402.4 940.5L403.4 942.8L404.4 945.1L405.4 947.3L406.4 949.3L407.4 951.3L408.4 953.2L409.4 955.0L410.4 956.6L411.4 958.2L412.4 959.7L413.4 961.2L414.4 962.5L415.4 963.8L416.4 964.9L417.4 966.1L418.4 967.1L419.4 968.1L420.4 969.0L421.4 969.8L422.4 970.6L423.4 971.4L424.4 972.1L425.4 972.7L426.4 973.3L427.4 973.8L428.4 974.3L429.4 974.8L430.4 975.2L431.4 975.6L432.4 976.0L433.4 976.3L434.4 976.6L435.4 976.9L436.4 977.1L437.4 977.3L438.4 977.5L439.4 977.7L440.4 977.9L441.4 978.0L442.4 978.1L443.4 978.3L444.4 978.4L445.4 978.5L446.4 978.5L447.4 978.6L448.4 978.7L449.4 978.7L450.4 978.8L451.4 978.8L452.4 978.8L453.4 978.8L454.4 978.9L455.4 978.9" fill="none" stroke="#b774e4" stroke-width="1.8" stroke-linejoin="round"/>
<path d="M313.4 985.2L314.4 985.1L315.4 985.0L316.4 984.9L317.4 984.8L318.4 984.7L319.4 984.6L320.4 984.5L321.4 984.4L322.4 984.3L323.4 984.1L324.4 984.0L325.4 983.9L326.4 983.7L327.4 983.6L328.4 983.4L329.4 983.2L330.4 983.0L331.4 982.8L332.4 982.6L333.4 982.4L334.4 982.2L335.4 981.9L336.4 981.7L337.4 981.4L338.4 981.1L339.4 980.8L340.4 980.5L341.4 980.2L342.4 979.8L343.4 979.5L344.4 979.1L345.4 978.7L346.4 978.2L347.4 977.8L348.4 977.3L349.4 976.8L350.4 976.3L351.4 975.8L352.4 975.2L353.4 974.6L354.4 974.0L355.4 973.3L356.4 972.7L357.4 972.0L358.4 971.3L359.4 970.5L360.4 969.7L361.4 968.9L362.4 968.1L363.4 967.2L364.4 966.4L365.4 965.4L366.4 964.5L367.4 963.5L368.4 962.5L369.4 961.5L370.4 960.4L371.4 959.4L372.4 958.3L373.4 957.1L374.4 956.0L375.4 954.8L376.4 953.6L377.4 952.4L378.4 951.2L379.4 949.9L380.4 948.6L381.4 947.4L382.4 946.1L383.4 944.8L384.4 943.5L385.4 942.2L386.4 940.8L387.4 939.5L388.4 938.2L389.4 936.9L390.4 935.6L391.4 934.3L392.4 933.0L393.4 931.7L394.4 930.5L395.4 929.2L396.4 928.0L397.4 926.8L398.4 925.6L399.4 924.5L400.4 923.4L401.4 922.3L402.4 921.3L403.4 920.3L404.4 919.4L405.4 918.5L406.4 917.7L407.4 916.9L408.4 916.1L409.4 915.4L410.4 914.8L411.4 914.2L412.4 913.7L413.4 913.2L414.4 912.8L415.4 912.4L416.4 912.1L417.4 911.9L418.4 911.7L419.4 911.6L420.4 911.6L421.4 911.6L422.4 911.7L423.4 911.8L424.4 911.9L425.4 912.1L426.4 912.4L427.4 912.6L428.4 913.0L429.4 913.4L430.4 913.8L431.4 914.2L432.4 914.7L433.4 915.3L434.4 915.9L435.4 916.5L436.4 917.2L437.4 917.9L438.4 918.6L439.4 919.3L440.4 920.1L441.4 921.0L442.4 921.8L443.4 922.7L444.4 923.6L445.4 924.5L446.4 925.5L447.4 926.4L448.4 927.4L449.4 928.4L450.4 929.4L451.4 930.4L452.4 931.5L453.4 932.5L454.4 933.6L455.4 934.6L456.4 935.7L457.4 936.8L458.4 937.8L459.4 938.9L460.4 940.0L461.4 941.0L462.4 942.1L463.4 943.1L464.4 944.2L465.4 945.2L466.4 946.2L467.4 947.2L468.4 948.2L469.4 949.2L470.4 950.2L471.4 951.1L472.4 952.1L473.4 953.0L474.4 953.9L475.4 954.8L476.4 955.7L477.4 956.5L478.4 957.4L479.4 958.2L480.4 959.0L481.4 959.7L482.4 960.5L483.4 961.2L484.4 961.9L485.4 962.6L486.4 963.3L487.4 963.9L488.4 964.6L489.4 965.2L490.4 965.7L491.4 966.3L492.4 966.8L493.4 967.4L494.4 967.9L495.4 968.3L496.4 968.8L497.4 969.2L498.4 969.7L499.4 970.1L500.4 970.4L501.4 970.8L502.4 971.2L503.4 971.5L504.4 971.8L505.4 972.1L506.4 972.4L507.4 972.7L508.4 972.9L509.4 973.2L510.4 973.4L511.4 973.6L512.4 973.8L513.4 974.0L514.4 974.2L515.4 974.4L516.4 974.5L517.4 974.7L518.4 974.8L519.4 974.9L520.4 975.1L521.4 975.2L522.4 975.3L523.4 975.4L524.4 975.5L525.4 975.5L526.4 975.6L527.4 975.7L528.4 975.7L529.4 975.8L530.4 975.8L531.4 975.9L532.4 975.9L533.4 976.0L534.4 976.0L535.4 976.0L536.4 976.0L537.4 976.0L538.4 976.1L539.4 976.1L540.4 976.1L541.4 976.1L542.4 976.1L542.4 976.5L541.4 976.5L540.4 976.5L539.4 976.6L538.4 976.6L537.4 976.6L536.4 976.7L535.4 976.7L534.4 976.7L533.4 976.8L532.4 976.8L531.4 976.8L530.4 976.8L529.4 976.9L528.4 976.9L527.4 976.9L526.4 977.0L525.4 977.0L524.4 977.0L523.4 977.1L522.4 977.1L521.4 977.1L520.4 977.2L519.4 977.2L518.4 977.2L517.4 977.3L516.4 977.3L515.4 977.3L514.4 977.3L513.4 977.4L512.4 977.4L511.4 977.4L510.4 977.5L509.4 977.5L508.4 977.5L507.4 977.6L506.4 977.6L505.4 977.6L504.4 977.7L503.4 977.7L502.4 977.7L501.4 977.8L500.4 977.8L499.4 977.8L498.4 977.9L497.4 977.9L496.4 977.9L495.4 977.9L494.4 978.0L493.4 978.0L492.4 978.0L491.4 978.1L490.4 978.1L489.4 978.1L488.4 978.2L487.4 978.2L486.4 978.2L485.4 978.3L484.4 978.3L483.4 978.3L482.4 978.4L481.4 978.4L480.4 978.4L479.4 978.5L478.4 978.5L477.4 978.5L476.4 978.6L475.4 978.6L474.4 978.6L473.4 978.7L472.4 978.7L471.4 978.7L470.4 978.7L469.4 978.8L468.4 978.8L467.4 978.8L466.4 978.9L465.4 978.9L464.4 978.9L463.4 979.0L462.4 979.0L461.4 979.0L460.4 979.1L459.4 979.1L458.4 979.1L457.4 979.2L456.4 979.2L455.4 979.2L454.4 979.3L453.4 979.3L452.4 979.3L451.4 979.4L450.4 979.4L449.4 979.4L448.4 979.5L447.4 979.5L446.4 979.5L445.4 979.6L444.4 979.6L443.4 979.6L442.4 979.7L441.4 979.7L440.4 979.7L439.4 979.8L438.4 979.8L437.4 979.8L436.4 979.9L435.4 979.9L434.4 979.9L433.4 980.0L432.4 980.0L431.4 980.0L430.4 980.1L429.4 980.1L428.4 980.1L427.4 980.2L426.4 980.2L425.4 980.2L424.4 980.3L423.4 980.3L422.4 980.3L421.4 980.4L420.4 980.4L419.4 980.4L418.4 980.5L417.4 980.5L416.4 980.5L415.4 980.6L414.4 980.6L413.4 980.6L412.4 980.7L411.4 980.7L410.4 980.7L409.4 980.8L408.4 980.8L407.4 980.8L406.4 980.9L405.4 980.9L404.4 981.0L403.4 981.0L402.4 981.0L401.4 981.1L400.4 981.1L399.4 981.1L398.4 981.2L397.4 981.2L396.4 981.3L395.4 981.3L394.4 981.4L393.4 981.5L392.4 981.5L391.4 981.6L390.4 981.6L389.4 981.7L388.4 981.7L387.4 981.8L386.4 981.8L385.4 981.9L384.4 981.9L383.4 982.0L382.4 982.0L381.4 982.1L380.4 982.1L379.4 982.2L378.4 982.3L377.4 982.3L376.4 982.4L375.4 982.4L374.4 982.5L373.4 982.5L372.4 982.6L371.4 982.6L370.4 982.7L369.4 982.7L368.4 982.8L367.4 982.8L366.4 982.9L365.4 982.9L364.4 983.0L363.4 983.1L362.4 983.1L361.4 983.2L360.4 983.2L359.4 983.3L358.4 983.3L357.4 983.4L356.4 983.4L355.4 983.5L354.4 983.5L353.4 983.6L352.4 983.6L351.4 983.7L350.4 983.7L349.4 983.8L348.4 983.9L347.4 983.9L346.4 984.0L345.4 984.0L344.4 984.1L343.4 984.1L342.4 984.2L341.4 984.2L340.4 984.3L339.4 984.3L338.4 984.4L337.4 984.4L336.4 984.5L335.4 984.5L334.4 984.6L333.4 984.6L332.4 984.7L331.4 984.7L330.4 984.8L329.4 984.8L328.4 984.9L327.4 984.9L326.4 984.9L325.4 985.0L324.4 985.0L323.4 985.1L322.4 985.1L321.4 985.2L320.4 985.2L319.4 985.3L318.4 985.3L317.4 985.4L316.4 985.4L315.4 985.5L314.4 985.5L313.4 985.6Z" fill="rgba(228,100,255,0.55)" stroke="none"/>
<path d="M313.4 985.2L314.4 985.1L315.4 985.0L316.4 984.9L317.4 984.8L318.4 984.7L319.4 984.6L320.4 984.5L321.4 984.4L322.4 984.3L323.4 984.1L324.4 984.0L325.4 983.9L326.4 983.7L327.4 983.6L328.4 983.4L329.4 983.2L330.4 983.0L331.4 982.8L332.4 982.6L333.4 982.4L334.4 982.2L335.4 981.9L336.4 981.7L337.4 981.4L338.4 981.1L339.4 980.8L340.4 980.5L341.4 980.2L342.4 979.8L343.4 979.5L344.4 979.1L345.4 978.7L346.4 978.2L347.4 977.8L348.4 977.3L349.4 976.8L350.4 976.3L351.4 975.8L352.4 975.2L353.4 974.6L354.4 974.0L355.4 973.3L356.4 972.7L357.4 972.0L358.4 971.3L359.4 970.5L360.4 969.7L361.4 968.9L362.4 968.1L363.4 967.2L364.4 966.4L365.4 965.4L366.4 964.5L367.4 963.5L368.4 962.5L369.4 961.5L370.4 960.4L371.4 959.4L372.4 958.3L373.4 957.1L374.4 956.0L375.4 954.8L376.4 953.6L377.4 952.4L378.4 951.2L379.4 949.9L380.4 948.6L381.4 947.4L382.4 946.1L383.4 944.8L384.4 943.5L385.4 942.2L386.4 940.8L387.4 939.5L388.4 938.2L389.4 936.9L390.4 935.6L391.4 934.3L392.4 933.0L393.4 931.7L394.4 930.5L395.4 929.2L396.4 928.0L397.4 926.8L398.4 925.6L399.4 924.5L400.4 923.4L401.4 922.3L402.4 921.3L403.4 920.3L404.4 919.4L405.4 918.5L406.4 917.7L407.4 916.9L408.4 916.1L409.4 915.4L410.4 914.8L411.4 914.2L412.4 913.7L413.4 913.2L414.4 912.8L415.4 912.4L416.4 912.1L417.4 911.9L418.4 911.7L419.4 911.6L420.4 911.6L421.4 911.6L422.4 911.7L423.4 911.8L424.4 911.9L425.4 912.1L426.4 912.4L427.4 912.6L428.4 913.0L429.4 913.4L430.4 913.8L431.4 914.2L432.4 914.7L433.4 915.3L434.4 915.9L435.4 916.5L436.4 917.2L437.4 917.9L438.4 918.6L439.4 919.3L440.4 920.1L441.4 921.0L442.4 921.8L443.4 922.7L444.4 923.6L445.4 924.5L446.4 925.5L447.4 926.4L448.4 927.4L449.4 928.4L450.4 929.4L451.4 930.4L452.4 931.5L453.4 932.5L454.4 933.6L455.4 934.6L456.4 935.7L457.4 936.8L458.4 937.8L459.4 938.9L460.4 940.0L461.4 941.0L462.4 942.1L463.4 943.1L464.4 944.2L465.4 945.2L466.4 946.2L467.4 947.2L468.4 948.2L469.4 949.2L470.4 950.2L471.4 951.1L472.4 952.1L473.4 953.0L474.4 953.9L475.4 954.8L476.4 955.7L477.4 956.5L478.4 957.4L479.4 958.2L480.4 959.0L481.4 959.7L482.4 960.5L483.4 961.2L484.4 961.9L485.4 962.6L486.4 963.3L487.4 963.9L488.4 964.6L489.4 965.2L490.4 965.7L491.4 966.3L492.4 966.8L493.4 967.4L494.4 967.9L495.4 968.3L496.4 968.8L497.4 969.2L498.4 969.7L499.4 970.1L500.4 970.4L501.4 970.8L502.4 971.2L503.4 971.5L504.4 971.8L505.4 972.1L506.4 972.4L507.4 972.7L508.4 972.9L509.4 973.2L510.4 973.4L511.4 973.6L512.4 973.8L513.4 974.0L514.4 974.2L515.4 974.4L516.4 974.5L517.4 974.7L518.4 974.8L519.4 974.9L520.4 975.1L521.4 975.2L522.4 975.3L523.4 975.4L524.4 975.5L525.4 975.5L526.4 975.6L527.4 975.7L528.4 975.7L529.4 975.8L530.4 975.8L531.4 975.9L532.4 975.9L533.4 976.0L534.4 976.0L535.4 976.0L536.4 976.0L537.4 976.0L538.4 976.1L539.4 976.1L540.4 976.1L541.4 976.1L542.4 976.1" fill="none" stroke="#f08aa8" stroke-width="1.6" stroke-linejoin="round"/>
<path d="M403.4 980.6L404.4 980.5L405.4 980.5L406.4 980.4L407.4 980.4L408.4 980.3L409.4 980.2L410.4 980.2L411.4 980.1L412.4 980.0L413.4 979.9L414.4 979.9L415.4 979.8L416.4 979.7L417.4 979.6L418.4 979.5L419.4 979.4L420.4 979.3L421.4 979.3L422.4 979.2L423.4 979.1L424.4 979.0L425.4 978.8L426.4 978.7L427.4 978.6L428.4 978.5L429.4 978.4L430.4 978.2L431.4 978.1L432.4 978.0L433.4 977.8L434.4 977.7L435.4 977.6L436.4 977.4L437.4 977.2L438.4 977.1L439.4 976.9L440.4 976.7L441.4 976.6L442.4 976.4L443.4 976.2L444.4 976.0L445.4 975.8L446.4 975.6L447.4 975.4L448.4 975.2L449.4 975.0L450.4 974.7L451.4 974.5L452.4 974.3L453.4 974.0L454.4 973.8L455.4 973.5L456.4 973.2L457.4 973.0L458.4 972.7L459.4 972.4L460.4 972.1L461.4 971.8L462.4 971.5L463.4 971.2L464.4 970.9L465.4 970.6L466.4 970.2L467.4 969.9L468.4 969.6L469.4 969.2L470.4 968.9L471.4 968.5L472.4 968.1L473.4 967.8L474.4 967.4L475.4 967.0L476.4 966.6L477.4 966.2L478.4 965.8L479.4 965.4L480.4 965.0L481.4 964.6L482.4 964.2L483.4 963.8L484.4 963.3L485.4 962.9L486.4 962.5L487.4 962.1L488.4 961.6L489.4 961.2L490.4 960.7L491.4 960.3L492.4 959.9L493.4 959.4L494.4 959.0L495.4 958.5L496.4 958.1L497.4 957.7L498.4 957.2L499.4 956.8L500.4 956.4L501.4 955.9L502.4 955.5L503.4 955.1L504.4 954.6L505.4 954.2L506.4 953.8L507.4 953.4L508.4 953.0L509.4 952.6L510.4 952.2L511.4 951.9L512.4 951.5L513.4 951.1L514.4 950.8L515.4 950.4L516.4 950.1L517.4 949.7L518.4 949.4L519.4 949.1L520.4 948.8L521.4 948.5L522.4 948.2L523.4 948.0L524.4 947.7L525.4 947.5L526.4 947.3L527.4 947.0L528.4 946.8L529.4 946.6L530.4 946.5L531.4 946.3L532.4 946.2L533.4 946.0L534.4 945.9L535.4 945.8L536.4 945.7L537.4 945.6L538.4 945.6L539.4 945.5L540.4 945.5L541.4 945.5L542.4 945.5L543.4 945.5L544.4 945.5L545.4 945.6L546.4 945.6L547.4 945.7L548.4 945.8L549.4 945.9L550.4 946.0L551.4 946.2L552.4 946.3L553.4 946.5L554.4 946.7L555.4 946.9L556.4 947.1L557.4 947.3L558.4 947.5L559.4 947.8L560.4 948.0L561.4 948.3L562.4 948.6L563.4 948.9L564.4 949.2L565.4 949.5L566.4 949.8L567.4 950.1L568.4 950.5L569.4 950.8L570.4 951.1L571.4 951.5L572.4 951.9L573.4 952.2L574.4 952.6L575.4 953.0L576.4 953.4L577.4 953.7L578.4 954.1L579.4 954.5L580.4 954.9L581.4 955.3L582.4 955.7L583.4 956.1L584.4 956.5L585.4 956.9L586.4 957.3L587.4 957.7L588.4 958.1L589.4 958.4L590.4 958.8L591.4 959.2L592.4 959.6L593.4 960.0L594.4 960.3L595.4 960.7L596.4 961.1L597.4 961.4L598.4 961.8L599.4 962.1L600.4 962.5L601.4 962.8L602.4 963.2L603.4 963.5L604.4 963.8L605.4 964.1L606.4 964.4L607.4 964.7L608.4 965.0L609.4 965.3L610.4 965.6L611.4 965.9L612.4 966.1L613.4 966.4L614.4 966.7L615.4 966.9L616.4 967.1L617.4 967.4L618.4 967.6L619.4 967.8L620.4 968.0L621.4 968.2L622.4 968.4L623.4 968.6L624.4 968.8L625.4 969.0L626.4 969.2L627.4 969.3L628.4 969.5L629.4 969.6L630.4 969.8L631.4 969.9L632.4 970.0L633.4 970.2L634.4 970.3L635.4 970.4L636.4 970.5L637.4 970.6L638.4 970.7L639.4 970.8L640.4 970.9L641.4 970.9L642.4 971.0L643.4 971.0L644.4 971.1L645.4 971.1L646.4 971.2L647.4 971.2L648.4 971.2L649.4 971.3L650.4 971.3L651.4 971.3L652.4 971.3L653.4 971.3L654.4 971.3L655.4 971.3L656.4 971.3L657.4 971.3L658.4 971.3L659.4 971.3L660.4 971.3L661.4 971.3L662.4 971.3L663.4 971.3L664.4 971.3L665.4 971.2L666.4 971.2L667.4 971.2L668.4 971.2L669.4 971.1L670.4 971.1L670.4 971.5L669.4 971.5L668.4 971.6L667.4 971.7L666.4 971.7L665.4 971.8L664.4 971.8L663.4 971.9L662.4 971.9L661.4 972.0L660.4 972.1L659.4 972.1L658.4 972.2L657.4 972.2L656.4 972.3L655.4 972.3L654.4 972.4L653.4 972.4L652.4 972.5L651.4 972.6L650.4 972.6L649.4 972.7L648.4 972.7L647.4 972.8L646.4 972.8L645.4 972.9L644.4 973.0L643.4 973.0L642.4 973.1L641.4 973.1L640.4 973.2L639.4 973.2L638.4 973.3L637.4 973.3L636.4 973.3L635.4 973.4L634.4 973.4L633.4 973.4L632.4 973.5L631.4 973.5L630.4 973.5L629.4 973.6L628.4 973.6L627.4 973.6L626.4 973.7L625.4 973.7L624.4 973.7L623.4 973.8L622.4 973.8L621.4 973.9L620.4 973.9L619.4 973.9L618.4 974.0L617.4 974.0L616.4 974.0L615.4 974.1L614.4 974.1L613.4 974.1L612.4 974.2L611.4 974.2L610.4 974.2L609.4 974.3L608.4 974.3L607.4 974.3L606.4 974.4L605.4 974.4L604.4 974.4L603.4 974.5L602.4 974.5L601.4 974.6L600.4 974.6L599.4 974.6L598.4 974.7L597.4 974.7L596.4 974.7L595.4 974.8L594.4 974.8L593.4 974.8L592.4 974.9L591.4 974.9L590.4 974.9L589.4 975.0L588.4 975.0L587.4 975.0L586.4 975.1L585.4 975.1L584.4 975.1L583.4 975.2L582.4 975.2L581.4 975.3L580.4 975.3L579.4 975.3L578.4 975.3L577.4 975.4L576.4 975.4L575.4 975.4L574.4 975.5L573.4 975.5L572.4 975.5L571.4 975.6L570.4 975.6L569.4 975.6L568.4 975.7L567.4 975.7L566.4 975.7L565.4 975.8L564.4 975.8L563.4 975.8L562.4 975.8L561.4 975.9L560.4 975.9L559.4 975.9L558.4 976.0L557.4 976.0L556.4 976.0L555.4 976.1L554.4 976.1L553.4 976.1L552.4 976.2L551.4 976.2L550.4 976.2L549.4 976.3L548.4 976.3L547.4 976.3L546.4 976.3L545.4 976.4L544.4 976.4L543.4 976.4L542.4 976.5L541.4 976.5L540.4 976.5L539.4 976.6L538.4 976.6L537.4 976.6L536.4 976.7L535.4 976.7L534.4 976.7L533.4 976.8L532.4 976.8L531.4 976.8L530.4 976.8L529.4 976.9L528.4 976.9L527.4 976.9L526.4 977.0L525.4 977.0L524.4 977.0L523.4 977.1L522.4 977.1L521.4 977.1L520.4 977.2L519.4 977.2L518.4 977.2L517.4 977.3L516.4 977.3L515.4 977.3L514.4 977.3L513.4 977.4L512.4 977.4L511.4 977.4L510.4 977.5L509.4 977.5L508.4 977.5L507.4 977.6L506.4 977.6L505.4 977.6L504.4 977.7L503.4 977.7L502.4 977.7L501.4 977.8L500.4 977.8L499.4 977.8L498.4 977.9L497.4 977.9L496.4 977.9L495.4 977.9L494.4 978.0L493.4 978.0L492.4 978.0L491.4 978.1L490.4 978.1L489.4 978.1L488.4 978.2L487.4 978.2L486.4 978.2L485.4 978.3L484.4 978.3L483.4 978.3L482.4 978.4L481.4 978.4L480.4 978.4L479.4 978.5L478.4 978.5L477.4 978.5L476.4 978.6L475.4 978.6L474.4 978.6L473.4 978.7L472.4 978.7L471.4 978.7L470.4 978.7L469.4 978.8L468.4 978.8L467.4 978.8L466.4 978.9L465.4 978.9L464.4 978.9L463.4 979.0L462.4 979.0L461.4 979.0L460.4 979.1L459.4 979.1L458.4 979.1L457.4 979.2L456.4 979.2L455.4 979.2L454.4 979.3L453.4 979.3L452.4 979.3L451.4 979.4L450.4 979.4L449.4 979.4L448.4 979.5L447.4 979.5L446.4 979.5L445.4 979.6L444.4 979.6L443.4 979.6L442.4 979.7L441.4 979.7L440.4 979.7L439.4 979.8L438.4 979.8L437.4 979.8L436.4 979.9L435.4 979.9L434.4 979.9L433.4 980.0L432.4 980.0L431.4 980.0L430.4 980.1L429.4 980.1L428.4 980.1L427.4 980.2L426.4 980.2L425.4 980.2L424.4 980.3L423.4 980.3L422.4 980.3L421.4 980.4L420.4 980.4L419.4 980.4L418.4 980.5L417.4 980.5L416.4 980.5L415.4 980.6L414.4 980.6L413.4 980.6L412.4 980.7L411.4 980.7L410.4 980.7L409.4 980.8L408.4 980.8L407.4 980.8L406.4 980.9L405.4 980.9L404.4 981.0L403.4 981.0Z" fill="rgba(70,70,70,0.72)" stroke="none"/>
<path d="M403.4 980.6L404.4 980.5L405.4 980.5L406.4 980.4L407.4 980.4L408.4 980.3L409.4 980.2L410.4 980.2L411.4 980.1L412.4 980.0L413.4 979.9L414.4 979.9L415.4 979.8L416.4 979.7L417.4 979.6L418.4 979.5L419.4 979.4L420.4 979.3L421.4 979.3L422.4 979.2L423.4 979.1L424.4 979.0L425.4 978.8L426.4 978.7L427.4 978.6L428.4 978.5L429.4 978.4L430.4 978.2L431.4 978.1L432.4 978.0L433.4 977.8L434.4 977.7L435.4 977.6L436.4 977.4L437.4 977.2L438.4 977.1L439.4 976.9L440.4 976.7L441.4 976.6L442.4 976.4L443.4 976.2L444.4 976.0L445.4 975.8L446.4 975.6L447.4 975.4L448.4 975.2L449.4 975.0L450.4 974.7L451.4 974.5L452.4 974.3L453.4 974.0L454.4 973.8L455.4 973.5L456.4 973.2L457.4 973.0L458.4 972.7L459.4 972.4L460.4 972.1L461.4 971.8L462.4 971.5L463.4 971.2L464.4 970.9L465.4 970.6L466.4 970.2L467.4 969.9L468.4 969.6L469.4 969.2L470.4 968.9L471.4 968.5L472.4 968.1L473.4 967.8L474.4 967.4L475.4 967.0L476.4 966.6L477.4 966.2L478.4 965.8L479.4 965.4L480.4 965.0L481.4 964.6L482.4 964.2L483.4 963.8L484.4 963.3L485.4 962.9L486.4 962.5L487.4 962.1L488.4 961.6L489.4 961.2L490.4 960.7L491.4 960.3L492.4 959.9L493.4 959.4L494.4 959.0L495.4 958.5L496.4 958.1L497.4 957.7L498.4 957.2L499.4 956.8L500.4 956.4L501.4 955.9L502.4 955.5L503.4 955.1L504.4 954.6L505.4 954.2L506.4 953.8L507.4 953.4L508.4 953.0L509.4 952.6L510.4 952.2L511.4 951.9L512.4 951.5L513.4 951.1L514.4 950.8L515.4 950.4L516.4 950.1L517.4 949.7L518.4 949.4L519.4 949.1L520.4 948.8L521.4 948.5L522.4 948.2L523.4 948.0L524.4 947.7L525.4 947.5L526.4 947.3L527.4 947.0L528.4 946.8L529.4 946.6L530.4 946.5L531.4 946.3L532.4 946.2L533.4 946.0L534.4 945.9L535.4 945.8L536.4 945.7L537.4 945.6L538.4 945.6L539.4 945.5L540.4 945.5L541.4 945.5L542.4 945.5L543.4 945.5L544.4 945.5L545.4 945.6L546.4 945.6L547.4 945.7L548.4 945.8L549.4 945.9L550.4 946.0L551.4 946.2L552.4 946.3L553.4 946.5L554.4 946.7L555.4 946.9L556.4 947.1L557.4 947.3L558.4 947.5L559.4 947.8L560.4 948.0L561.4 948.3L562.4 948.6L563.4 948.9L564.4 949.2L565.4 949.5L566.4 949.8L567.4 950.1L568.4 950.5L569.4 950.8L570.4 951.1L571.4 951.5L572.4 951.9L573.4 952.2L574.4 952.6L575.4 953.0L576.4 953.4L577.4 953.7L578.4 954.1L579.4 954.5L580.4 954.9L581.4 955.3L582.4 955.7L583.4 956.1L584.4 956.5L585.4 956.9L586.4 957.3L587.4 957.7L588.4 958.1L589.4 958.4L590.4 958.8L591.4 959.2L592.4 959.6L593.4 960.0L594.4 960.3L595.4 960.7L596.4 961.1L597.4 961.4L598.4 961.8L599.4 962.1L600.4 962.5L601.4 962.8L602.4 963.2L603.4 963.5L604.4 963.8L605.4 964.1L606.4 964.4L607.4 964.7L608.4 965.0L609.4 965.3L610.4 965.6L611.4 965.9L612.4 966.1L613.4 966.4L614.4 966.7L615.4 966.9L616.4 967.1L617.4 967.4L618.4 967.6L619.4 967.8L620.4 968.0L621.4 968.2L622.4 968.4L623.4 968.6L624.4 968.8L625.4 969.0L626.4 969.2L627.4 969.3L628.4 969.5L629.4 969.6L630.4 969.8L631.4 969.9L632.4 970.0L633.4 970.2L634.4 970.3L635.4 970.4L636.4 970.5L637.4 970.6L638.4 970.7L639.4 970.8L640.4 970.9L641.4 970.9L642.4 971.0L643.4 971.0L644.4 971.1L645.4 971.1L646.4 971.2L647.4 971.2L648.4 971.2L649.4 971.3L650.4 971.3L651.4 971.3L652.4 971.3L653.4 971.3L654.4 971.3L655.4 971.3L656.4 971.3L657.4 971.3L658.4 971.3L659.4 971.3L660.4 971.3L661.4 971.3L662.4 971.3L663.4 971.3L664.4 971.3L665.4 971.2L666.4 971.2L667.4 971.2L668.4 971.2L669.4 971.1L670.4 971.1" fill="none" stroke="#ff2a2a" stroke-width="2.2" stroke-linejoin="round"/>
<path d="M68.4 1000.0L69.4 1000.0L70.4 1000.0L71.4 1000.0L72.4 1000.0L73.4 1000.0L74.4 1000.0L75.4 1000.0L76.4 1000.0L77.4 1000.0L78.4 1000.0L79.4 1000.0L80.4 1000.0L81.4 1000.0L82.4 1000.0L83.4 999.9L84.4 999.9L85.4 999.9L86.4 999.9L87.4 999.9L88.4 999.9L89.4 999.9L90.4 999.9L91.4 999.9L92.4 999.9L93.4 999.9L94.4 999.9L95.4 999.9L96.4 999.9L97.4 999.9L98.4 999.9L99.4 999.9L100.4 999.9L101.4 999.9L102.4 999.9L103.4 999.9L104.4 999.9L105.4 999.9L106.4 999.9L107.4 999.9L108.4 999.9L109.4 999.9L110.4 999.9L111.4 999.9L112.4 999.9L113.4 999.9L114.4 999.8L115.4 999.8L116.4 999.8L117.4 999.8L118.4 999.8L119.4 999.8L120.4 999.8L121.4 999.8L122.4 999.8L123.4 999.8L124.4 999.8L125.4 999.8L126.4 999.8L127.4 999.8L128.4 999.8L129.4 999.8L130.4 999.8L131.4 999.8L132.4 999.8L133.4 999.8L134.4 999.8L135.4 999.7L136.4 999.7L137.4 999.7L138.4 999.7L139.4 999.7L140.4 999.7L141.4 999.7L142.4 999.7L143.4 999.7L144.4 999.7L145.4 999.6L146.4 999.6L147.4 999.6L148.4 999.6L149.4 999.6L150.4 999.6L151.4 999.6L152.4 999.6L153.4 999.6L154.4 999.6L155.4 999.5L156.4 999.5L157.4 999.5L158.4 999.5L159.4 999.5L160.4 999.5L161.4 999.5L162.4 999.5L163.4 999.5L164.4 999.5L165.4 999.4L166.4 999.4L167.4 999.4L168.4 999.4L169.4 999.4L170.4 999.4L171.4 999.4L172.4 999.4L173.4 999.3L174.4 999.3L175.4 999.3L176.4 999.3L177.4 999.3L178.4 999.3L179.4 999.2L180.4 999.2L181.4 999.2L182.4 999.2L183.4 999.2L184.4 999.2L185.4 999.1L186.4 999.1L187.4 999.1L188.4 999.1L189.4 999.1L190.4 999.1L191.4 999.0L192.4 999.0L193.4 999.0L194.4 999.0L195.4 999.0L196.4 999.0L197.4 998.9L198.4 998.9L199.4 998.9L200.4 998.9L201.4 998.9L202.4 998.9L203.4 998.8L204.4 998.8L205.4 998.8L206.4 998.8L207.4 998.8L208.4 998.8L209.4 998.7L210.4 998.7L211.4 998.7L212.4 998.7L213.4 998.7L214.4 998.7L215.4 998.6L216.4 998.6L217.4 998.6L218.4 998.6L219.4 998.6L220.4 998.6L221.4 998.5L222.4 998.5L223.4 998.5L224.4 998.5L225.4 998.5L226.4 998.5L227.4 998.4L228.4 998.4L229.4 998.4L230.4 998.4L231.4 998.3L232.4 998.2L233.4 998.2L234.4 998.1L235.4 998.1L236.4 998.0L237.4 997.9L238.4 997.9L239.4 997.8L240.4 997.7L241.4 997.7L242.4 997.6L243.4 997.6L244.4 997.5L245.4 997.4L246.4 997.4L247.4 997.3L248.4 997.2L249.4 997.2L250.4 997.1L251.4 997.0L252.4 997.0L253.4 996.9L254.4 996.9L255.4 996.8L256.4 996.7L257.4 996.7L258.4 996.6L259.4 996.5L260.4 996.5L261.4 996.4L262.4 996.4L263.4 996.3L264.4 996.2L265.4 996.2L266.4 996.1L267.4 996.1L268.4 996.0L269.4 995.9L270.4 995.9L271.4 995.8L272.4 995.8L273.4 995.7L274.4 995.6L275.4 995.6L276.4 995.5L277.4 995.5L278.4 995.4L279.4 995.3L280.4 995.3L281.4 995.2L282.4 995.2L283.4 995.1L284.4 995.0L285.4 995.0L286.4 994.9L287.4 994.9L288.4 994.8L289.4 994.7L290.4 994.7L291.4 994.6L292.4 994.5L293.4 994.4L294.4 994.3L295.4 994.2L296.4 994.1L297.4 994.0L298.4 993.9L299.4 993.8L300.4 993.7L301.4 993.6L302.4 993.5L303.4 993.4L304.4 993.3L305.4 993.2L306.4 993.1L307.4 993.0L308.4 993.0L309.4 992.9L310.4 992.7L311.4 992.5L312.4 992.4L313.4 992.2L314.4 992.0L315.4 991.8L316.4 991.6L317.4 991.4L318.4 991.2L319.4 991.0L320.4 990.9L321.4 990.7L322.4 990.5L323.4 990.3L324.4 990.1L325.4 989.9L326.4 989.7L327.4 989.5L328.4 989.2L329.4 989.0L330.4 988.8L331.4 988.5L332.4 988.3L333.4 988.1L334.4 987.9L335.4 987.6L336.4 987.4L337.4 987.2L338.4 987.0L339.4 986.7L340.4 986.5L341.4 986.4L342.4 986.3L343.4 986.1L344.4 986.0L345.4 985.9L346.4 985.7L347.4 985.6L348.4 985.5L349.4 985.3L350.4 985.2L351.4 985.1L352.4 984.9L353.4 984.8L354.4 984.7L355.4 984.6L356.4 984.5L357.4 984.5L358.4 984.4L359.4 984.3L360.4 984.3L361.4 984.2L362.4 984.2L363.4 984.1L364.4 984.1L365.4 984.0L366.4 983.9L367.4 983.9L368.4 983.8L369.4 983.8L370.4 983.7L371.4 983.7L372.4 983.6L373.4 983.5L374.4 983.5L375.4 983.4L376.4 983.4L377.4 983.3L378.4 983.2L379.4 983.2L380.4 983.1L381.4 983.1L382.4 983.0L383.4 983.0L384.4 982.9L385.4 982.8L386.4 982.8L387.4 982.7L388.4 982.7L389.4 982.6L390.4 982.6L391.4 982.5L392.4 982.4L393.4 982.4L394.4 982.3L395.4 982.3L396.4 982.2L397.4 982.2L398.4 982.1L399.4 982.0L400.4 982.0L401.4 981.9L402.4 981.9L403.4 981.9L404.4 981.8L405.4 981.8L406.4 981.8L407.4 981.7L408.4 981.7L409.4 981.7L410.4 981.6L411.4 981.6L412.4 981.6L413.4 981.5L414.4 981.5L415.4 981.4L416.4 981.4L417.4 981.4L418.4 981.3L419.4 981.3L420.4 981.3L421.4 981.2L422.4 981.2L423.4 981.2L424.4 981.1L425.4 981.1L426.4 981.0L427.4 981.0L428.4 981.0L429.4 980.9L430.4 980.9L431.4 980.9L432.4 980.8L433.4 980.8L434.4 980.8L435.4 980.7L436.4 980.7L437.4 980.7L438.4 980.6L439.4 980.6L440.4 980.5L441.4 980.5L442.4 980.5L443.4 980.4L444.4 980.4L445.4 980.4L446.4 980.3L447.4 980.3L448.4 980.3L449.4 980.2L450.4 980.2L451.4 980.2L452.4 980.1L453.4 980.1L454.4 980.1L455.4 980.0L456.4 980.0L457.4 980.0L458.4 980.0L459.4 979.9L460.4 979.9L461.4 979.9L462.4 979.9L463.4 979.8L464.4 979.8L465.4 979.8L466.4 979.7L467.4 979.7L468.4 979.7L469.4 979.7L470.4 979.6L471.4 979.6L472.4 979.6L473.4 979.5L474.4 979.5L475.4 979.5L476.4 979.5L477.4 979.4L478.4 979.4L479.4 979.4L480.4 979.3L481.4 979.3L482.4 979.3L483.4 979.3L484.4 979.2L485.4 979.2L486.4 979.2L487.4 979.2L488.4 979.1L489.4 979.1L490.4 979.1L491.4 979.0L492.4 979.0L493.4 979.0L494.4 979.0L495.4 978.9L496.4 978.9L497.4 978.9L498.4 978.8L499.4 978.8L500.4 978.8L501.4 978.8L502.4 978.7L503.4 978.7L504.4 978.7L505.4 978.7L506.4 978.6L507.4 978.6L508.4 978.6L509.4 978.6L510.4 978.5L511.4 978.5L512.4 978.5L513.4 978.4L514.4 978.4L515.4 978.4L516.4 978.4L517.4 978.3L518.4 978.3L519.4 978.3L520.4 978.3L521.4 978.2L522.4 978.2L523.4 978.2L524.4 978.2L525.4 978.1L526.4 978.1L527.4 978.1L528.4 978.1L529.4 978.0L530.4 978.0L531.4 978.0L532.4 977.9L533.4 977.9L534.4 977.9L535.4 977.9L536.4 977.8L537.4 977.8L538.4 977.8L539.4 977.8L540.4 977.7L541.4 977.7L542.4 977.7L543.4 977.7L544.4 977.6L545.4 977.6L546.4 977.6L547.4 977.6L548.4 977.5L549.4 977.5L550.4 977.5L551.4 977.5L552.4 977.4L553.4 977.4L554.4 977.4L555.4 977.3L556.4 977.3L557.4 977.3L558.4 977.3L559.4 977.2L560.4 977.2L561.4 977.2L562.4 977.2L563.4 977.1L564.4 977.1L565.4 977.1L566.4 977.1L567.4 977.0L568.4 977.0L569.4 977.0L570.4 977.0L571.4 976.9L572.4 976.9L573.4 976.9L574.4 976.8L575.4 976.8L576.4 976.8L577.4 976.8L578.4 976.7L579.4 976.7L580.4 976.7L581.4 976.7L582.4 976.7L583.4 976.6L584.4 976.6L585.4 976.6L586.4 976.6L587.4 976.6L588.4 976.5L589.4 976.5L590.4 976.5L591.4 976.5L592.4 976.5L593.4 976.4L594.4 976.4L595.4 976.4L596.4 976.4L597.4 976.4L598.4 976.3L599.4 976.3L600.4 976.3L601.4 976.3L602.4 976.3L603.4 976.2L604.4 976.2L605.4 976.2L606.4 976.2L607.4 976.2L608.4 976.1L609.4 976.1L610.4 976.1L611.4 976.1L612.4 976.1L613.4 976.0L614.4 976.0L615.4 976.0L616.4 976.0L617.4 976.0L618.4 975.9L619.4 975.9L620.4 975.9L621.4 975.9L622.4 975.9L623.4 975.8L624.4 975.8L625.4 975.8L626.4 975.8L627.4 975.8L628.4 975.7L629.4 975.7L630.4 975.7L631.4 975.7L632.4 975.7L633.4 975.6L634.4 975.6L635.4 975.6L636.4 975.6L637.4 975.6L638.4 975.5L639.4 975.5L640.4 975.5L641.4 975.5L642.4 975.5L643.4 975.4L644.4 975.4L645.4 975.4L646.4 975.4L647.4 975.4L648.4 975.4L649.4 975.3L650.4 975.3L651.4 975.3L652.4 975.3L653.4 975.3L654.4 975.2L655.4 975.2L656.4 975.2L657.4 975.2L658.4 975.2L659.4 975.2L660.4 975.1L661.4 975.1L662.4 975.1L663.4 975.1L664.4 975.1L665.4 975.1L666.4 975.0L667.4 975.0L668.4 975.0L669.4 975.0L670.4 975.0L671.4 974.9L672.4 974.9L673.4 974.9L674.4 974.9L675.4 974.9L676.4 974.9L677.4 974.8L678.4 974.8L679.4 974.8L680.4 974.8L681.4 974.8L682.4 974.8L683.4 974.7L684.4 974.7L685.4 974.7L686.4 974.7L687.4 974.7L688.4 974.7L689.4 974.6L690.4 974.6L691.4 974.6L692.4 974.6L693.4 974.6L694.4 974.5L695.4 974.5" fill="none" stroke="#e8102a" stroke-width="2.4"/>
<path d="M68.4 996.6L69.4 996.5L70.4 996.5L71.4 996.5L72.4 996.5L73.4 996.4L74.4 996.4L75.4 996.4L76.4 996.4L77.4 996.3L78.4 996.3L79.4 996.3L80.4 996.3L81.4 996.2L82.4 996.2L83.4 996.2L84.4 996.2L85.4 996.1L86.4 996.1L87.4 996.1L88.4 996.1L89.4 996.0L90.4 996.0L91.4 996.0L92.4 996.0L93.4 995.9L94.4 995.9L95.4 995.9L96.4 995.9L97.4 995.8L98.4 995.8L99.4 995.8L100.4 995.8L101.4 995.7L102.4 995.7L103.4 995.7L104.4 995.7L105.4 995.6L106.4 995.6L107.4 995.6L108.4 995.5L109.4 995.5L110.4 995.5L111.4 995.5L112.4 995.4L113.4 995.4L114.4 995.4L115.4 995.4L116.4 995.3L117.4 995.3L118.4 995.3L119.4 995.3L120.4 995.2L121.4 995.2L122.4 995.2L123.4 995.2L124.4 995.1L125.4 995.1L126.4 995.1L127.4 995.1L128.4 995.0L129.4 995.0L130.4 995.0L131.4 994.9L132.4 994.9L133.4 994.8L134.4 994.8L135.4 994.7L136.4 994.6L137.4 994.6L138.4 994.5L139.4 994.5L140.4 994.4L141.4 994.4L142.4 994.3L143.4 994.3L144.4 994.2L145.4 994.2L146.4 994.1L147.4 994.0L148.4 994.0L149.4 993.9L150.4 993.9L151.4 993.8L152.4 993.8L153.4 993.7L154.4 993.7L155.4 993.6L156.4 993.5L157.4 993.5L158.4 993.4L159.4 993.4L160.4 993.3L161.4 993.3L162.4 993.2L163.4 993.2L164.4 993.1L165.4 993.1L166.4 993.0L167.4 992.9L168.4 992.9L169.4 992.8L170.4 992.8L171.4 992.7L172.4 992.7L173.4 992.6L174.4 992.6L175.4 992.5L176.4 992.5L177.4 992.4L178.4 992.4L179.4 992.4L180.4 992.3L181.4 992.3L182.4 992.2L183.4 992.2L184.4 992.1L185.4 992.1L186.4 992.0L187.4 992.0L188.4 991.9L189.4 991.9L190.4 991.8L191.4 991.8L192.4 991.7L193.4 991.7L194.4 991.6L195.4 991.6L196.4 991.5L197.4 991.5L198.4 991.5L199.4 991.4L200.4 991.4L201.4 991.3L202.4 991.3L203.4 991.2L204.4 991.2L205.4 991.1L206.4 991.1L207.4 991.0L208.4 991.0L209.4 990.9L210.4 990.9L211.4 990.8L212.4 990.8L213.4 990.7L214.4 990.6L215.4 990.6L216.4 990.5L217.4 990.5L218.4 990.4L219.4 990.4L220.4 990.3L221.4 990.2L222.4 990.2L223.4 990.1L224.4 990.1L225.4 990.0L226.4 989.9L227.4 989.9L228.4 989.8L229.4 989.8L230.4 989.7L231.4 989.7L232.4 989.6L233.4 989.5L234.4 989.5L235.4 989.4L236.4 989.4L237.4 989.3L238.4 989.3L239.4 989.2L240.4 989.1L241.4 989.1L242.4 989.0L243.4 989.0L244.4 988.9L245.4 988.8L246.4 988.8L247.4 988.7L248.4 988.7L249.4 988.6L250.4 988.6L251.4 988.5L252.4 988.4L253.4 988.4L254.4 988.3L255.4 988.3L256.4 988.2L257.4 988.2L258.4 988.1L259.4 988.0L260.4 988.0L261.4 987.9L262.4 987.9L263.4 987.8L264.4 987.8L265.4 987.8L266.4 987.7L267.4 987.7L268.4 987.6L269.4 987.6L270.4 987.5L271.4 987.5L272.4 987.4L273.4 987.4L274.4 987.4L275.4 987.3L276.4 987.3L277.4 987.2L278.4 987.2L279.4 987.1L280.4 987.1L281.4 987.0L282.4 987.0L283.4 986.9L284.4 986.9L285.4 986.9L286.4 986.8L287.4 986.8L288.4 986.7L289.4 986.7L290.4 986.6L291.4 986.6L292.4 986.5L293.4 986.5L294.4 986.5L295.4 986.4L296.4 986.4L297.4 986.3L298.4 986.3L299.4 986.2L300.4 986.2L301.4 986.1L302.4 986.1L303.4 986.0L304.4 986.0L305.4 985.9L306.4 985.9L307.4 985.8L308.4 985.8L309.4 985.8L310.4 985.7L311.4 985.7L312.4 985.6L313.4 985.6L314.4 985.5L315.4 985.5L316.4 985.4L317.4 985.4L318.4 985.3L319.4 985.3L320.4 985.2L321.4 985.2L322.4 985.1L323.4 985.1L324.4 985.0L325.4 985.0L326.4 984.9L327.4 984.9L328.4 984.9L329.4 984.8L330.4 984.8L331.4 984.7L332.4 984.7L333.4 984.6L334.4 984.6L335.4 984.5L336.4 984.5L337.4 984.4L338.4 984.4L339.4 984.3L340.4 984.3L341.4 984.2L342.4 984.2L343.4 984.1L344.4 984.1L345.4 984.0L346.4 984.0L347.4 983.9L348.4 983.9L349.4 983.8L350.4 983.7L351.4 983.7L352.4 983.6L353.4 983.6L354.4 983.5L355.4 983.5L356.4 983.4L357.4 983.4L358.4 983.3L359.4 983.3L360.4 983.2L361.4 983.2L362.4 983.1L363.4 983.1L364.4 983.0L365.4 982.9L366.4 982.9L367.4 982.8L368.4 982.8L369.4 982.7L370.4 982.7L371.4 982.6L372.4 982.6L373.4 982.5L374.4 982.5L375.4 982.4L376.4 982.4L377.4 982.3L378.4 982.3L379.4 982.2L380.4 982.1L381.4 982.1L382.4 982.0L383.4 982.0L384.4 981.9L385.4 981.9L386.4 981.8L387.4 981.8L388.4 981.7L389.4 981.7L390.4 981.6L391.4 981.6L392.4 981.5L393.4 981.5L394.4 981.4L395.4 981.3L396.4 981.3L397.4 981.2L398.4 981.2L399.4 981.1L400.4 981.1L401.4 981.1L402.4 981.0L403.4 981.0L404.4 981.0L405.4 980.9L406.4 980.9L407.4 980.8L408.4 980.8L409.4 980.8L410.4 980.7L411.4 980.7L412.4 980.7L413.4 980.6L414.4 980.6L415.4 980.6L416.4 980.5L417.4 980.5L418.4 980.5L419.4 980.4L420.4 980.4L421.4 980.4L422.4 980.3L423.4 980.3L424.4 980.3L425.4 980.2L426.4 980.2L427.4 980.2L428.4 980.1L429.4 980.1L430.4 980.1L431.4 980.0L432.4 980.0L433.4 980.0L434.4 979.9L435.4 979.9L436.4 979.9L437.4 979.8L438.4 979.8L439.4 979.8L440.4 979.7L441.4 979.7L442.4 979.7L443.4 979.6L444.4 979.6L445.4 979.6L446.4 979.5L447.4 979.5L448.4 979.5L449.4 979.4L450.4 979.4L451.4 979.4L452.4 979.3L453.4 979.3L454.4 979.3L455.4 979.2L456.4 979.2L457.4 979.2L458.4 979.1L459.4 979.1L460.4 979.1L461.4 979.0L462.4 979.0L463.4 979.0L464.4 978.9L465.4 978.9L466.4 978.9L467.4 978.8L468.4 978.8L469.4 978.8L470.4 978.7L471.4 978.7L472.4 978.7L473.4 978.7L474.4 978.6L475.4 978.6L476.4 978.6L477.4 978.5L478.4 978.5L479.4 978.5L480.4 978.4L481.4 978.4L482.4 978.4L483.4 978.3L484.4 978.3L485.4 978.3L486.4 978.2L487.4 978.2L488.4 978.2L489.4 978.1L490.4 978.1L491.4 978.1L492.4 978.0L493.4 978.0L494.4 978.0L495.4 977.9L496.4 977.9L497.4 977.9L498.4 977.9L499.4 977.8L500.4 977.8L501.4 977.8L502.4 977.7L503.4 977.7L504.4 977.7L505.4 977.6L506.4 977.6L507.4 977.6L508.4 977.5L509.4 977.5L510.4 977.5L511.4 977.4L512.4 977.4L513.4 977.4L514.4 977.3L515.4 977.3L516.4 977.3L517.4 977.3L518.4 977.2L519.4 977.2L520.4 977.2L521.4 977.1L522.4 977.1L523.4 977.1L524.4 977.0L525.4 977.0L526.4 977.0L527.4 976.9L528.4 976.9L529.4 976.9L530.4 976.8L531.4 976.8L532.4 976.8L533.4 976.8L534.4 976.7L535.4 976.7L536.4 976.7L537.4 976.6L538.4 976.6L539.4 976.6L540.4 976.5L541.4 976.5L542.4 976.5L543.4 976.4L544.4 976.4L545.4 976.4L546.4 976.3L547.4 976.3L548.4 976.3L549.4 976.3L550.4 976.2L551.4 976.2L552.4 976.2L553.4 976.1L554.4 976.1L555.4 976.1L556.4 976.0L557.4 976.0L558.4 976.0L559.4 975.9L560.4 975.9L561.4 975.9L562.4 975.8L563.4 975.8L564.4 975.8L565.4 975.8L566.4 975.7L567.4 975.7L568.4 975.7L569.4 975.6L570.4 975.6L571.4 975.6L572.4 975.5L573.4 975.5L574.4 975.5L575.4 975.4L576.4 975.4L577.4 975.4L578.4 975.3L579.4 975.3L580.4 975.3L581.4 975.3L582.4 975.2L583.4 975.2L584.4 975.1L585.4 975.1L586.4 975.1L587.4 975.0L588.4 975.0L589.4 975.0L590.4 974.9L591.4 974.9L592.4 974.9L593.4 974.8L594.4 974.8L595.4 974.8L596.4 974.7L597.4 974.7L598.4 974.7L599.4 974.6L600.4 974.6L601.4 974.6L602.4 974.5L603.4 974.5L604.4 974.4L605.4 974.4L606.4 974.4L607.4 974.3L608.4 974.3L609.4 974.3L610.4 974.2L611.4 974.2L612.4 974.2L613.4 974.1L614.4 974.1L615.4 974.1L616.4 974.0L617.4 974.0L618.4 974.0L619.4 973.9L620.4 973.9L621.4 973.9L622.4 973.8L623.4 973.8L624.4 973.7L625.4 973.7L626.4 973.7L627.4 973.6L628.4 973.6L629.4 973.6L630.4 973.5L631.4 973.5L632.4 973.5L633.4 973.4L634.4 973.4L635.4 973.4L636.4 973.3L637.4 973.3L638.4 973.3L639.4 973.2L640.4 973.2L641.4 973.1L642.4 973.1L643.4 973.0L644.4 973.0L645.4 972.9L646.4 972.8L647.4 972.8L648.4 972.7L649.4 972.7L650.4 972.6L651.4 972.6L652.4 972.5L653.4 972.4L654.4 972.4L655.4 972.3L656.4 972.3L657.4 972.2L658.4 972.2L659.4 972.1L660.4 972.1L661.4 972.0L662.4 971.9L663.4 971.9L664.4 971.8L665.4 971.8L666.4 971.7L667.4 971.7L668.4 971.6L669.4 971.5L670.4 971.5L671.4 971.4L672.4 971.4L673.4 971.3L674.4 971.3L675.4 971.2L676.4 971.2L677.4 971.1L678.4 971.0L679.4 971.0L680.4 970.9L681.4 970.9L682.4 970.8L683.4 970.8L684.4 970.7L685.4 970.7L686.4 970.6L687.4 970.5L688.4 970.5L689.4 970.4L690.4 970.4L691.4 970.3L692.4 970.3L693.4 970.2L694.4 970.1L695.4 970.1" fill="none" stroke="#f01a20" stroke-width="2.4"/>
<path d="M67.8 997.0L69.0 996.0L73.0 994.0L77.0 991.0L81.0 975.0L84.5 999.0L89.0 986.0L95.0 999.0L99.0 990.0L103.0 980.0L107.0 994.0L113.0 990.0L118.0 1007.0L124.0 988.0L130.0 1007.0L138.0 1002.0L144.0 991.0L147.0 1010.0L152.0 1004.0L159.0 984.0L163.0 992.0L166.0 991.0L170.0 1005.0L174.0 996.0L181.0 1002.0L184.0 980.0L191.0 976.0L195.0 989.0L204.0 970.0L210.0 983.0L214.0 976.5L217.8 973.7L222.3 967.3L226.8 954.2L231.3 941.4L235.8 929.4L240.3 910.2L244.8 883.2L249.3 858.6L253.8 841.0L258.3 820.3L262.8 794.8L267.3 768.2L271.8 738.2L276.3 704.7L280.8 683.0L285.3 665.2L289.3 669.2L291.0 650.0L292.3 629.7L296.0 637.0L301.5 633.0L307.0 644.5L311.0 629.0L314.0 635.6L316.5 628.0L319.9 618.9L323.0 618.0L328.8 625.8L333.0 632.0L336.7 665.2L338.5 660.0L343.6 676.0L348.1 697.9L351.7 689.0L358.8 751.7L363.3 737.4L370.5 787.6L376.8 809.1L381.3 811.0L386.0 830.0L392.0 850.4L399.2 870.1L403.4 861.6L407.2 879.4L411.5 882.6L414.7 906.3L421.7 886.9L433.0 925.6L443.8 909.5L451.3 908.4L463.2 942.8L470.2 925.1L477.7 951.5L484.7 936.9L489.0 946.1L492.8 947.2L496.5 942.3L501.2 941.5L505.8 949.6L510.5 948.8L515.9 939.6L521.3 956.8L525.2 944.5L529.2 941.2L533.1 928.9L538.5 940.7L543.9 958.5L547.9 950.2L551.9 935.9L556.3 943.0L559.9 952.9L565.2 950.3L570.6 953.8L577.4 936.8L582.5 956.0L587.7 969.1L594.0 958.3L597.5 957.4L603.4 942.2L608.3 961.0L611.0 983.4L617.3 962.8L621.8 958.9L626.2 961.0L628.9 957.4L632.5 963.7L636.5 953.8L640.6 966.4L644.2 961.9L647.8 967.3L651.8 956.5L655.4 978.9L662.1 968.2L668.4 967.3L673.8 982.5L677.4 978.0L684.5 984.3L689.9 978.9L693.5 983.4L695.6 975.0" fill="none" stroke="#000" stroke-width="3.4" stroke-linejoin="round"/>
<path d="M67.5 998.7L73.1 998.7L80.7 998.7L89.7 998.7L99.7 998.7L110.0 998.6L120.0 998.6L130.6 998.6L142.5 998.5L154.7 998.5L166.3 998.4L176.5 998.3L184.4 998.0L189.6 997.6L192.6 997.1L194.3 996.5L195.1 995.8L195.7 995.2L196.8 994.6L198.1 994.1L199.0 993.7L199.7 993.4L200.4 992.9L201.2 992.4L202.2 991.6L203.6 990.6L205.1 989.4L206.8 988.1L208.5 986.7L210.0 985.3L211.2 984.1L212.0 983.1L212.5 982.2L212.8 981.4L213.2 980.4L213.7 979.2L214.7 977.6L216.1 975.7L217.8 973.7L219.6 971.4L221.7 968.7L223.7 965.4L225.7 961.4L227.7 956.5L229.9 950.7L232.0 944.4L234.1 937.7L236.2 931.0L238.0 924.3L239.7 917.5L241.2 910.4L242.6 903.1L243.9 896.0L245.1 889.3L246.3 883.1L247.3 877.7L248.2 872.8L249.0 868.2L249.8 863.9L250.6 859.5L251.5 855.0L252.5 850.5L253.5 846.1L254.5 841.7L255.5 837.2L256.7 832.3L257.8 827.0L259.0 821.1L260.4 814.7L261.7 808.0L263.1 801.2L264.4 794.3L265.6 787.6L266.7 781.0L267.8 774.4L268.8 767.9L269.7 761.3L270.7 754.7L271.6 748.1L272.5 741.4L273.2 734.6L274.0 727.7L274.8 721.0L275.6 714.6L276.5 708.6L277.5 703.1L278.6 698.0L279.8 693.2L281.0 688.5L282.2 683.8L283.4 679.0L284.7 674.0L286.0 668.8L287.3 663.6L288.6 658.6L290.0 653.9L291.3 649.5L292.6 645.5L293.8 641.6L295.1 638.1L296.4 634.9L297.7 632.0L299.2 629.7L300.8 627.9L302.5 626.6L304.3 625.7L306.1 625.1L308.0 624.8L310.0 624.6L312.1 624.5L314.3 624.6L316.5 624.9L318.8 625.5L320.9 626.4L322.9 627.8L324.7 629.6L326.5 632.0L328.1 634.6L329.7 637.5L331.2 640.5L332.7 643.5L334.1 646.5L335.5 649.7L336.8 653.0L338.0 656.4L339.3 659.8L340.6 663.3L341.9 666.8L343.3 670.3L344.7 673.9L346.0 677.6L347.3 681.3L348.5 685.0L349.6 688.8L350.6 692.7L351.6 696.7L352.5 700.7L353.4 704.6L354.4 708.6L355.4 712.5L356.4 716.4L357.3 720.3L358.3 724.2L359.3 728.2L360.3 732.3L361.3 736.4L362.2 740.6L363.2 744.8L364.2 749.1L365.2 753.5L366.3 758.0L367.5 762.6L368.7 767.2L370.0 771.9L371.3 776.9L372.7 782.1L374.1 787.6L375.7 793.7L377.3 800.4L379.0 807.4L380.8 814.3L382.4 821.0L384.0 827.0L385.5 832.5L386.9 837.8L388.2 842.7L389.5 847.2L390.8 851.4L392.0 855.0L393.1 858.0L394.2 860.3L395.1 862.2L396.2 863.8L397.3 865.5L398.7 867.5L400.3 869.6L402.0 871.8L403.9 873.9L405.8 876.1L407.9 878.5L410.0 881.0L412.2 883.7L414.5 886.6L416.8 889.7L419.2 892.8L421.8 895.9L424.4 899.0L427.1 902.1L430.0 905.4L433.0 908.6L436.0 911.9L439.0 915.0L442.0 918.0L444.9 920.9L447.6 923.7L450.4 926.5L453.3 929.1L456.5 931.6L460.0 933.8L463.8 935.9L467.9 937.8L472.3 939.6L476.8 941.2L481.6 942.5L486.7 943.6L492.2 944.4L498.2 944.8L504.4 945.1L510.7 945.2L516.7 945.2L522.2 945.3L527.2 945.3L531.8 945.2L536.1 945.0L540.3 944.9L544.6 945.0L548.9 945.3L553.4 946.0L557.8 946.9L562.3 947.9L566.7 949.1L571.2 950.4L575.6 951.6L579.9 952.8L584.1 954.0L588.3 955.3L592.7 956.6L597.2 958.0L602.2 959.6L607.7 961.4L613.7 963.5L620.0 965.7L626.2 967.8L632.2 969.7L637.8 971.1L642.8 972.1L647.3 972.7L651.7 973.1L656.0 973.4L660.3 973.6L665.0 973.8L670.3 974.1L676.2 974.3L682.2 974.4L687.8 974.5L692.6 974.6L696.0 974.7" fill="none" stroke="#7000f8" stroke-width="3.0" stroke-linejoin="round"/>
<path d="M392.2 586.2H453.5" stroke="#000" stroke-width="3"/>
<rect x="394" y="604.7" width="58.1" height="24.7" fill="#b3ffb3" stroke="#f5c07e" stroke-width="2.2"/>
<rect x="394" y="636.1" width="58.1" height="24.1" fill="#a3c6e6" stroke="#c4a2ea" stroke-width="2.2"/>
<rect x="394" y="666.5" width="58.1" height="24.8" fill="#f0a8ff" stroke="#ff8098" stroke-width="2.2"/>
<rect x="394.2" y="698.1" width="57.7" height="24.3" fill="#767676" stroke="#ee4040" stroke-width="2.6"/>
<path d="M392.2 741.1H453.5" stroke="#7000f8" stroke-width="3"/>
<text transform="translate(459.03,594.37) scale(1.1340,1)" font-size="23.96" fill="#000">N1s Raw (N-rGO)</text>
<text transform="translate(459.35,625.2) scale(1.1013,1)" font-size="24.49" fill="#000">Pyridinic N</text>
<text transform="translate(459.34,656.3) scale(1.1162,1)" font-size="24.20" fill="#000">Pyrrolic N</text>
<text transform="translate(460.02,687.1) scale(1.0818,1)" font-size="25.00" fill="#000">Graphitic N</text>
<text transform="translate(460.02,718.1) scale(1.0783,1)" font-size="25.00" fill="#000">Oxidized N</text>
<text transform="translate(459.34,748.4) scale(1.1526,1)" font-size="23.48" fill="#000">Fitted Curve</text>
<rect x="67.1" y="558.5" width="629.8" height="461.1" fill="none" stroke="#000" stroke-width="3.0"/>
<path d="M104.15 1019.6V1028.9M178.24 1019.6V1028.9M252.34 1019.6V1028.9M326.43 1019.6V1028.9M400.52 1019.6V1028.9M474.62 1019.6V1028.9M548.71 1019.6V1028.9M622.81 1019.6V1028.9M696.9 1019.6V1028.9M67.1 1019.6V1024.4M141.19 1019.6V1024.4M215.29 1019.6V1024.4M289.38 1019.6V1024.4M363.48 1019.6V1024.4M437.57 1019.6V1024.4M511.66 1019.6V1024.4M585.76 1019.6V1024.4M659.85 1019.6V1024.4" stroke="#000" stroke-width="2.8" fill="none"/>
<text transform="translate(76.63,1059.28) scale(1.0229,1)" font-size="31.83">394</text>
<text transform="translate(151.3,1059.28) scale(1.0229,1)" font-size="31.83">396</text>
<text transform="translate(225.23,1059.28) scale(1.0229,1)" font-size="31.83">398</text>
<text transform="translate(299.65,1059.28) scale(1.0229,1)" font-size="31.83">400</text>
<text transform="translate(373.74,1059.28) scale(1.0229,1)" font-size="31.83">402</text>
<text transform="translate(447.27,1059.28) scale(1.0229,1)" font-size="31.83">404</text>
<text transform="translate(521.93,1059.28) scale(1.0229,1)" font-size="31.83">406</text>
<text transform="translate(595.86,1059.28) scale(1.0229,1)" font-size="31.83">408</text>
<text transform="translate(670.12,1059.28) scale(1.0229,1)" font-size="31.83">410</text>
<text transform="translate(222.43,1090.3) scale(1.1807,1)" font-size="28.26" fill="#000">Binding Energy (eV)</text>
<text transform="translate(51.41,905.49) rotate(-90) scale(0.8924,1)" font-size="34.22">Intensity (a.u)</text>
<text transform="translate(79.25,602.22) scale(1.0788,1)" font-size="39.89" fill="#000">(c)</text>
<path d="M1191.7 1006.7L1198.0 1008.0L1205.7 1007.3L1209.2 1005.5L1214.0 1010.0L1226.6 1012.5L1237.1 1014.9L1239.5 1004.4L1243.0 1014.9L1247.6 1010.8L1252.3 1009.6L1257.0 1005.5L1261.6 1007.9L1266.3 1010.2L1268.6 1012.0L1273.3 1006.7L1279.1 1004.4L1282.6 1000.3L1287.3 993.3L1290.8 1001.5L1296.6 999.1L1300.1 995.6L1306.0 981.6L1308.5 973.5L1312.6 969.8L1314.5 960.0L1314.1 950.0L1317.3 932.0L1320.2 914.0L1323.2 896.0L1326.3 878.0L1330.0 860.0L1333.0 842.0L1335.3 824.0L1340.3 806.0L1343.6 788.0L1345.8 770.0L1348.7 752.0L1351.6 734.0L1353.9 716.0L1356.1 698.0L1368.1 674.9L1372.0 660.0L1378.0 635.4L1380.9 612.7L1384.9 611.7L1389.0 604.0L1394.7 596.9L1399.7 626.5L1405.6 613.7L1411.5 606.8L1418.4 641.3L1423.3 682.8L1428.1 700.0L1430.8 718.0L1433.9 736.0L1437.0 754.0L1439.7 772.0L1442.0 790.0L1444.2 808.0L1446.3 826.0L1449.3 844.0L1452.8 862.0L1457.1 880.0L1456.9 889.8L1462.3 891.1L1466.3 899.2L1474.4 930.2L1479.8 920.8L1482.9 935.8L1487.9 948.7L1491.5 945.9L1497.2 948.7L1500.1 956.6L1503.0 943.0L1506.5 953.0L1511.6 967.4L1514.4 959.5L1519.5 959.5L1525.9 955.2L1528.8 965.2L1532.4 956.6L1536.7 974.6L1540.3 958.8L1545.3 976.0L1548.9 953.0L1554.6 973.8L1559.6 966.0L1563.2 971.7L1568.2 972.4L1572.5 978.1L1576.1 977.5L1579.7 971.7L1583.1 971.9L1587.4 969.7L1591.7 966.8L1594.5 979.0L1600.3 975.5L1606.0 977.6L1610.3 975.7L1614.6 979.0L1620.4 980.5L1626.1 977.6L1630.4 972.6L1634.7 980.5L1640.5 980.5L1643.3 992.0L1649.1 980.5L1654.8 984.8L1657.7 992.0L1663.4 983.3L1669.2 984.8L1674.9 983.3L1680.7 981.9L1685.0 980.5L1690.7 971.9L1696.5 990.5L1702.2 980.5L1707.9 979.0L1712.2 977.6L1718.0 989.1L1720.9 974.7L1723.7 971.9L1729.5 974.7L1735.2 986.2L1739.5 973.3L1743.8 969.0L1748.1 967.6L1752.4 970.4L1756.7 966.1L1758.8 971.0" fill="none" stroke="#000" stroke-width="2.4" stroke-linejoin="round"/>
<path d="M1190.9 1006.7L1191.9 1006.9L1192.9 1007.0L1193.9 1007.2L1194.9 1007.4L1195.9 1007.6L1196.9 1007.7L1197.9 1007.9L1198.9 1008.1L1199.9 1008.3L1200.9 1008.5L1201.9 1008.7L1202.9 1008.9L1203.9 1009.1L1204.9 1009.4L1205.9 1009.6L1206.9 1009.8L1207.9 1010.1L1208.9 1010.4L1209.9 1010.6L1210.9 1010.9L1211.9 1011.1L1212.9 1011.4L1213.9 1011.6L1214.9 1011.9L1215.9 1012.1L1216.9 1012.4L1217.9 1012.6L1218.9 1012.8L1219.9 1013.0L1220.9 1013.2L1221.9 1013.4L1222.9 1013.6L1223.9 1013.8L1224.9 1013.9L1225.9 1014.1L1226.9 1014.2L1227.9 1014.3L1228.9 1014.4L1229.9 1014.5L1230.9 1014.6L1231.9 1014.6L1232.9 1015.9L1233.9 1015.9L1234.9 1015.9L1235.9 1015.9L1236.9 1015.9L1237.9 1015.8L1238.9 1015.8L1239.9 1015.8L1240.9 1015.8L1241.9 1015.8L1242.9 1015.7L1243.9 1015.7L1244.9 1015.7L1245.9 1015.7L1246.9 1015.7L1247.9 1015.6L1248.9 1015.6L1249.9 1015.6L1250.9 1015.6L1251.9 1015.6L1252.9 1015.5L1253.9 1015.5L1254.9 1015.5L1255.9 1015.5L1256.9 1015.5L1257.9 1015.4L1258.9 1015.4L1259.9 1015.4L1260.9 1015.4L1261.9 1015.4L1262.9 1015.3L1263.9 1015.3L1264.9 1015.3L1265.9 1015.3L1266.9 1015.3L1267.9 1015.2L1268.9 1015.2L1269.9 1015.2L1270.9 1015.2L1271.9 1015.2L1272.9 1015.1L1273.9 1015.1L1274.9 1015.1L1275.9 1015.1L1276.9 1015.1L1277.9 1015.0L1278.9 1015.0L1279.9 1015.0L1280.9 1015.0L1281.9 1015.0L1282.9 1014.9L1283.9 1014.9L1284.9 1014.9L1285.9 1014.9L1286.9 1014.9L1287.9 1014.8L1288.9 1014.8L1289.9 1014.8L1290.9 1014.8L1291.9 1014.8L1292.9 1014.7L1293.9 1014.7L1294.9 1014.7L1295.9 1014.7L1296.9 1014.7L1297.9 1014.6L1298.9 1014.6L1299.9 1014.6L1300.9 1014.6L1301.9 1014.5L1302.9 1014.5L1303.9 1014.5L1304.9 1014.4L1305.9 1014.4L1306.9 1014.4L1307.9 1014.3L1308.9 1014.3L1309.9 1014.3L1310.9 1014.2L1311.9 1014.2L1312.9 1014.2L1313.9 1014.2L1314.9 1014.1L1315.9 1014.1L1316.9 1014.1L1317.9 1014.0L1318.9 1014.0L1319.9 1014.0L1320.9 1013.9L1321.9 1013.9L1322.9 1013.9L1323.9 1013.8L1324.9 1013.8L1325.9 1013.8L1326.9 1013.7L1327.9 1013.7L1328.9 1013.7L1329.9 1013.6L1330.9 1013.6L1331.9 1013.4L1332.9 1013.3L1333.9 1013.1L1334.9 1012.9L1335.9 1012.8L1336.9 1012.6L1337.9 1012.4L1338.9 1012.0L1339.9 1011.5L1340.9 1011.0L1341.9 1010.5L1342.9 1010.0L1343.9 1009.5L1344.9 1008.3L1345.9 1007.0L1346.9 1005.7L1347.9 1004.4L1348.9 1003.1L1349.9 1001.5L1350.9 999.5L1351.9 997.5L1352.9 995.5L1353.9 993.5L1354.9 991.5L1355.9 989.5L1356.9 988.8L1357.9 988.0L1358.9 987.3L1359.9 986.5L1360.9 985.8L1361.9 985.9L1362.9 987.0L1363.9 988.1L1364.9 989.2L1365.9 990.3L1366.9 991.3L1367.9 992.4L1368.9 993.7L1369.9 995.0L1370.9 996.3L1371.9 997.6L1372.9 998.8L1373.9 1000.1L1374.9 1000.8L1375.9 1001.2L1376.9 1001.6L1377.9 1002.0L1378.9 1002.4L1379.9 1002.8L1380.9 1003.2L1381.9 1003.4L1382.9 1003.3L1383.9 1003.2L1384.9 1003.2L1385.9 1003.1L1386.9 1003.0L1387.9 1003.0L1388.9 1002.9L1389.9 1002.8L1390.9 1002.7L1391.9 1002.5L1392.9 1002.3L1393.9 1002.1L1394.9 1001.9L1395.9 1001.7L1396.9 1001.5L1397.9 1001.3L1398.9 1001.1L1399.9 1000.9L1400.9 1000.7L1401.9 1000.5L1402.9 1000.3L1403.9 1000.1L1404.9 999.9L1405.9 999.7L1406.9 999.5L1407.9 999.3L1408.9 999.1L1409.9 998.9L1410.9 998.7L1411.9 998.5L1412.9 998.3L1413.9 998.1L1414.9 997.9L1415.9 997.7L1416.9 997.5L1417.9 997.3L1418.9 997.1L1419.9 996.9L1420.9 996.7L1421.9 996.5L1422.9 996.3L1423.9 996.1L1424.9 996.0L1425.9 995.8L1426.9 995.6L1427.9 995.4L1428.9 995.2L1429.9 995.1L1430.9 994.9L1431.9 994.7L1432.9 994.6L1433.9 994.4L1434.9 994.3L1435.9 994.1L1436.9 993.9L1437.9 993.8L1438.9 993.6L1439.9 993.4L1440.9 993.3L1441.9 993.1L1442.9 993.0L1443.9 992.8L1444.9 992.6L1445.9 992.5L1446.9 992.3L1447.9 992.1L1448.9 992.0L1449.9 991.8L1450.9 991.7L1451.9 991.7L1452.9 991.6L1453.9 991.6L1454.9 991.5L1455.9 991.4L1456.9 991.4L1457.9 991.3L1458.9 991.3L1459.9 991.2L1460.9 991.1L1461.9 991.1L1462.9 991.0L1463.9 991.0L1464.9 990.9L1465.9 990.8L1466.9 990.8L1467.9 990.7L1468.9 990.7L1469.9 990.6L1470.9 990.5L1471.9 990.5L1472.9 990.4L1473.9 990.4L1474.9 990.3L1475.9 990.2L1476.9 990.2L1477.9 990.1L1478.9 990.1L1479.9 990.0L1480.9 990.0L1481.9 989.9L1482.9 989.9L1483.9 989.9L1484.9 989.9L1485.9 989.8L1486.9 989.8L1487.9 989.8L1488.9 989.8L1489.9 989.7L1490.9 989.7L1491.9 989.7L1492.9 989.6L1493.9 989.6L1494.9 989.6L1495.9 989.6L1496.9 989.5L1497.9 989.5L1498.9 989.5L1499.9 989.5L1500.9 989.4L1501.9 989.4L1502.9 989.4L1503.9 989.3L1504.9 989.3L1505.9 989.3L1506.9 989.3L1507.9 989.2L1508.9 989.2L1509.9 989.2L1510.9 989.2L1511.9 989.1L1512.9 989.1L1513.9 989.1L1514.9 989.0L1515.9 989.0L1516.9 989.0L1517.9 989.0L1518.9 988.9L1519.9 988.9L1520.9 988.9L1521.9 988.9L1522.9 988.9L1523.9 988.9L1524.9 988.8L1525.9 988.8L1526.9 988.8L1527.9 988.8L1528.9 988.8L1529.9 988.8L1530.9 988.8L1531.9 988.8L1532.9 988.7L1533.9 988.7L1534.9 988.7L1535.9 988.7L1536.9 988.7L1537.9 988.7L1538.9 988.7L1539.9 988.7L1540.9 988.6L1541.9 988.6L1542.9 988.6L1543.9 988.6L1544.9 988.6L1545.9 988.6L1546.9 988.6L1547.9 988.6L1548.9 988.5L1549.9 988.5L1550.9 988.5L1551.9 988.5L1552.9 988.5L1553.9 988.5L1554.9 988.5L1555.9 988.5L1556.9 988.4L1557.9 988.4L1558.9 988.4L1559.9 988.4L1560.9 988.4L1561.9 988.4L1562.9 988.4L1563.9 988.4L1564.9 988.4L1565.9 988.4L1566.9 988.4L1567.9 988.4L1568.9 988.4L1569.9 988.4L1570.9 988.3L1571.9 988.3L1572.9 988.3L1573.9 988.3L1574.9 988.3L1575.9 988.3L1576.9 988.3L1577.9 988.3L1578.9 988.3L1579.9 988.3L1580.9 988.3L1581.9 988.3L1582.9 988.3L1583.9 988.3L1584.9 988.3L1585.9 988.3L1586.9 988.3L1587.9 988.3L1588.9 988.3L1589.9 988.3L1590.9 988.2L1591.9 988.2L1592.9 988.2L1593.9 988.2L1594.9 988.2L1595.9 988.2L1596.9 988.2L1597.9 988.2L1598.9 988.2L1599.9 988.2L1600.9 988.2L1601.9 988.2L1602.9 988.2L1603.9 988.2L1604.9 988.2L1605.9 988.2L1606.9 988.2L1607.9 988.2L1608.9 988.2L1609.9 988.2L1610.9 988.1L1611.9 988.1L1612.9 988.1L1613.9 988.1L1614.9 988.1L1615.9 988.1L1616.9 988.1L1617.9 988.1L1618.9 988.1L1619.9 988.1L1620.9 988.1L1621.9 988.1L1622.9 988.1L1623.9 988.1L1624.9 988.1L1625.9 988.1L1626.9 988.1L1627.9 988.1L1628.9 988.1L1629.9 988.1L1630.9 988.0L1631.9 988.0L1632.9 988.0L1633.9 988.0L1634.9 988.0L1635.9 988.0L1636.9 988.0L1637.9 988.0L1638.9 988.0L1639.9 988.0L1640.9 987.0L1641.9 987.0L1642.9 987.0L1643.9 987.0L1644.9 987.0L1645.9 987.0L1646.9 987.0L1647.9 987.0L1648.9 987.0L1649.9 987.0L1650.9 987.0L1651.9 987.0L1652.9 986.9L1653.9 986.9L1654.9 986.9L1655.9 986.8L1656.9 986.8L1657.9 986.7L1658.9 986.7L1659.9 986.6L1660.9 986.5L1661.9 986.4L1662.9 986.4L1663.9 986.3L1664.9 986.2L1665.9 986.1L1666.9 986.0L1667.9 985.9L1668.9 985.8L1669.9 985.6L1670.9 985.5L1671.9 985.4L1672.9 985.3L1673.9 985.2L1674.9 985.1L1675.9 984.9L1676.9 984.8L1677.9 984.7L1678.9 984.6L1679.9 984.5L1680.9 984.4L1681.9 984.3L1682.9 984.2L1683.9 984.1L1684.9 984.0L1685.9 983.9L1686.9 983.8L1687.9 983.7L1688.9 983.6L1689.9 983.5L1690.9 983.4L1691.9 983.3L1692.9 983.2L1693.9 983.1L1694.9 983.1L1695.9 983.0L1696.9 982.9L1697.9 982.8L1698.9 982.7L1699.9 982.6L1700.9 982.5L1701.9 982.4L1702.9 982.3L1703.9 982.2L1704.9 982.1L1705.9 982.0L1706.9 981.9L1707.9 981.7L1708.9 981.6L1709.9 981.5L1710.9 981.4L1711.9 981.2L1712.9 981.1L1713.9 981.0L1714.9 980.8L1715.9 980.7L1716.9 980.5L1717.9 980.4L1718.9 980.2L1719.9 980.0L1720.9 979.9L1721.9 979.7L1722.9 979.5L1723.9 979.4L1724.9 979.2L1725.9 979.0L1726.9 978.9L1727.9 978.7L1728.9 978.5L1729.9 978.3L1730.9 978.1L1731.9 977.9L1732.9 977.8L1733.9 977.6L1734.9 977.4L1735.9 977.2L1736.9 977.0L1737.9 976.8L1738.9 976.6L1739.9 976.4L1740.9 976.2L1741.9 976.0L1742.9 975.8L1743.9 975.6L1744.9 975.4L1745.9 975.1L1746.9 974.9L1747.9 974.7L1748.9 974.4L1749.9 974.2L1750.9 974.0L1751.9 973.7L1752.9 973.5L1753.9 973.2L1754.9 972.9L1755.9 972.7L1756.9 972.4L1757.9 972.2L1758.9 971.9L1758.9 1018.8L1190.9 1018.8Z" fill="rgba(43,9,44,0.8)" stroke="none"/>
<path d="M1330.9 1013.6L1331.9 1013.4L1332.9 1013.3L1333.9 1013.1L1334.9 1012.9L1335.9 1012.8L1336.9 1012.6L1337.9 1012.4L1338.9 1012.0L1339.9 1011.5L1340.9 1011.0L1341.9 1010.5L1342.9 1010.0L1343.9 1009.5L1344.9 1008.3L1345.9 1007.0L1346.9 1005.7L1347.9 1004.4L1348.9 1003.1L1349.9 1001.5L1350.9 999.5L1351.9 997.5L1352.9 995.5L1353.9 993.5L1354.9 991.5L1355.9 989.5L1356.9 988.8L1357.9 988.0L1358.9 987.3L1359.9 986.5L1360.9 985.8L1361.9 985.9L1362.9 987.0L1363.9 988.1L1364.9 989.2L1365.9 990.3L1366.9 991.3L1367.9 992.4L1368.9 993.7L1369.9 995.0L1370.9 996.3L1371.9 997.6L1372.9 998.8L1373.9 1000.1L1374.9 1000.8L1375.9 1001.2L1376.9 1001.6L1377.9 1002.0L1378.9 1002.4L1379.9 1002.8L1380.9 1003.2L1381.9 1003.4L1382.9 1003.3L1383.9 1003.2L1384.9 1003.2L1385.9 1003.1L1386.9 1003.0L1387.9 1003.0L1388.9 1002.9L1389.9 1002.8L1390.9 1002.7L1391.9 1002.5L1392.9 1002.3L1393.9 1002.1L1394.9 1001.9L1395.9 1001.7L1396.9 1001.5L1397.9 1001.3L1398.9 1001.1L1399.9 1000.9L1399.9 1001.3L1398.9 1001.4L1397.9 1001.4L1396.9 1001.5L1395.9 1001.7L1394.9 1001.9L1393.9 1002.1L1392.9 1002.3L1391.9 1002.5L1390.9 1002.7L1389.9 1002.8L1388.9 1002.9L1387.9 1003.0L1386.9 1003.1L1385.9 1003.3L1384.9 1003.5L1383.9 1003.7L1382.9 1003.9L1381.9 1004.1L1380.9 1004.3L1379.9 1004.5L1378.9 1004.7L1377.9 1004.9L1376.9 1005.1L1375.9 1005.3L1374.9 1005.5L1373.9 1005.7L1372.9 1005.9L1371.9 1006.1L1370.9 1006.3L1369.9 1006.5L1368.9 1006.7L1367.9 1006.8L1366.9 1007.0L1365.9 1007.2L1364.9 1007.4L1363.9 1007.6L1362.9 1007.8L1361.9 1008.0L1360.9 1008.2L1359.9 1008.4L1358.9 1008.6L1357.9 1008.8L1356.9 1009.0L1355.9 1009.2L1354.9 1009.4L1353.9 1009.6L1352.9 1009.8L1351.9 1009.9L1350.9 1010.1L1349.9 1010.3L1348.9 1010.5L1347.9 1010.7L1346.9 1010.9L1345.9 1011.1L1344.9 1011.3L1343.9 1011.5L1342.9 1011.7L1341.9 1011.9L1340.9 1012.1L1339.9 1012.3L1338.9 1012.5L1337.9 1012.7L1336.9 1012.9L1335.9 1013.1L1334.9 1013.2L1333.9 1013.4L1332.9 1013.6L1331.9 1013.8L1330.9 1014.0Z" fill="#4d6b4e" stroke="none"/>
<path d="M1283.9 1013.7L1284.9 1013.6L1285.9 1013.5L1286.9 1013.3L1287.9 1013.2L1288.9 1013.1L1289.9 1012.9L1290.9 1012.7L1291.9 1012.5L1292.9 1012.2L1293.9 1011.9L1294.9 1011.6L1295.9 1011.2L1296.9 1010.8L1297.9 1010.3L1298.9 1009.8L1299.9 1009.2L1300.9 1008.6L1301.9 1007.8L1302.9 1007.0L1303.9 1006.2L1304.9 1005.2L1305.9 1004.1L1306.9 1003.0L1307.9 1001.7L1308.9 1000.4L1309.9 998.9L1310.9 997.4L1311.9 995.7L1312.9 993.9L1313.9 992.0L1314.9 990.0L1315.9 987.9L1316.9 985.7L1317.9 983.5L1318.9 981.1L1319.9 978.6L1320.9 976.1L1321.9 973.6L1322.9 971.0L1323.9 968.3L1324.9 965.7L1325.9 963.1L1326.9 960.4L1327.9 957.9L1328.9 955.4L1329.9 952.9L1330.9 950.6L1331.9 948.2L1332.9 946.0L1333.9 943.8L1334.9 941.9L1335.9 940.2L1336.9 938.6L1337.9 937.2L1338.9 936.1L1339.9 935.2L1340.9 934.5L1341.9 934.1L1342.9 933.9L1343.9 934.0L1344.9 934.3L1345.9 934.8L1346.9 935.5L1347.9 936.4L1348.9 937.6L1349.9 938.9L1350.9 940.4L1351.9 942.0L1352.9 943.9L1353.9 945.8L1354.9 947.9L1355.9 950.0L1356.9 952.3L1357.9 954.5L1358.9 956.9L1359.9 959.3L1360.9 961.6L1361.9 964.0L1362.9 966.4L1363.9 968.7L1364.9 971.0L1365.9 973.2L1366.9 975.3L1367.9 977.4L1368.9 979.4L1369.9 981.3L1370.9 983.1L1371.9 984.8L1372.9 986.4L1373.9 987.9L1374.9 989.3L1375.9 990.6L1376.9 991.8L1377.9 992.9L1378.9 993.9L1379.9 994.8L1380.9 995.6L1381.9 996.4L1382.9 997.0L1383.9 997.6L1384.9 998.1L1385.9 998.6L1386.9 999.0L1387.9 999.3L1388.9 999.6L1389.9 999.8L1390.9 1000.0L1391.9 1000.1L1392.9 1000.2L1393.9 1000.3L1394.9 1000.3L1395.9 1000.4L1396.9 1000.6L1397.9 1000.7L1398.9 1000.8L1399.9 1000.8L1400.9 1000.9L1401.9 1000.9L1401.9 1000.5L1400.9 1000.7L1399.9 1000.9L1398.9 1001.1L1397.9 1001.3L1396.9 1001.4L1395.9 1001.5L1394.9 1001.5L1393.9 1001.7L1392.9 1001.9L1391.9 1002.0L1390.9 1002.2L1389.9 1002.4L1388.9 1002.5L1387.9 1002.7L1386.9 1002.9L1385.9 1003.0L1384.9 1003.2L1383.9 1003.2L1382.9 1003.3L1381.9 1003.4L1380.9 1003.2L1379.9 1002.8L1378.9 1002.4L1377.9 1002.0L1376.9 1001.6L1375.9 1001.2L1374.9 1000.8L1373.9 1000.1L1372.9 998.8L1371.9 997.6L1370.9 996.3L1369.9 995.0L1368.9 993.7L1367.9 992.4L1366.9 991.3L1365.9 990.3L1364.9 989.2L1363.9 988.1L1362.9 987.0L1361.9 985.9L1360.9 985.8L1359.9 986.5L1358.9 987.3L1357.9 988.0L1356.9 988.8L1355.9 989.5L1354.9 991.5L1353.9 993.5L1352.9 995.5L1351.9 997.5L1350.9 999.5L1349.9 1001.5L1348.9 1003.1L1347.9 1004.4L1346.9 1005.7L1345.9 1007.0L1344.9 1008.3L1343.9 1009.5L1342.9 1010.0L1341.9 1010.5L1340.9 1011.0L1339.9 1011.4L1338.9 1011.5L1337.9 1011.7L1336.9 1011.9L1335.9 1012.1L1334.9 1012.3L1333.9 1012.5L1332.9 1012.7L1331.9 1012.8L1330.9 1013.0L1329.9 1013.0L1328.9 1013.0L1327.9 1013.1L1326.9 1013.1L1325.9 1013.1L1324.9 1013.1L1323.9 1013.2L1322.9 1013.2L1321.9 1013.2L1320.9 1013.2L1319.9 1013.2L1318.9 1013.3L1317.9 1013.3L1316.9 1013.3L1315.9 1013.3L1314.9 1013.3L1313.9 1013.4L1312.9 1013.4L1311.9 1013.4L1310.9 1013.4L1309.9 1013.4L1308.9 1013.5L1307.9 1013.5L1306.9 1013.5L1305.9 1013.5L1304.9 1013.6L1303.9 1013.6L1302.9 1013.6L1301.9 1013.6L1300.9 1013.6L1299.9 1013.7L1298.9 1013.7L1297.9 1013.7L1296.9 1013.7L1295.9 1013.7L1294.9 1013.8L1293.9 1013.8L1292.9 1013.8L1291.9 1013.8L1290.9 1013.9L1289.9 1013.9L1288.9 1013.9L1287.9 1013.9L1286.9 1013.9L1285.9 1014.0L1284.9 1014.0L1283.9 1014.0Z" fill="#8fc98f" stroke="none"/>
<path d="M1283.9 1013.7L1284.9 1013.6L1285.9 1013.5L1286.9 1013.3L1287.9 1013.2L1288.9 1013.1L1289.9 1012.9L1290.9 1012.7L1291.9 1012.5L1292.9 1012.2L1293.9 1011.9L1294.9 1011.6L1295.9 1011.2L1296.9 1010.8L1297.9 1010.3L1298.9 1009.8L1299.9 1009.2L1300.9 1008.6L1301.9 1007.8L1302.9 1007.0L1303.9 1006.2L1304.9 1005.2L1305.9 1004.1L1306.9 1003.0L1307.9 1001.7L1308.9 1000.4L1309.9 998.9L1310.9 997.4L1311.9 995.7L1312.9 993.9L1313.9 992.0L1314.9 990.0L1315.9 987.9L1316.9 985.7L1317.9 983.5L1318.9 981.1L1319.9 978.6L1320.9 976.1L1321.9 973.6L1322.9 971.0L1323.9 968.3L1324.9 965.7L1325.9 963.1L1326.9 960.4L1327.9 957.9L1328.9 955.4L1329.9 952.9L1330.9 950.6L1331.9 948.2L1332.9 946.0L1333.9 943.8L1334.9 941.9L1335.9 940.2L1336.9 938.6L1337.9 937.2L1338.9 936.1L1339.9 935.2L1340.9 934.5L1341.9 934.1L1342.9 933.9L1343.9 934.0L1344.9 934.3L1345.9 934.8L1346.9 935.5L1347.9 936.4L1348.9 937.6L1349.9 938.9L1350.9 940.4L1351.9 942.0L1352.9 943.9L1353.9 945.8L1354.9 947.9L1355.9 950.0L1356.9 952.3L1357.9 954.5L1358.9 956.9L1359.9 959.3L1360.9 961.6L1361.9 964.0L1362.9 966.4L1363.9 968.7L1364.9 971.0L1365.9 973.2L1366.9 975.3L1367.9 977.4L1368.9 979.4L1369.9 981.3L1370.9 983.1L1371.9 984.8L1372.9 986.4L1373.9 987.9L1374.9 989.3L1375.9 990.6L1376.9 991.8L1377.9 992.9L1378.9 993.9L1379.9 994.8L1380.9 995.6L1381.9 996.4L1382.9 997.0L1383.9 997.6L1384.9 998.1L1385.9 998.6L1386.9 999.0L1387.9 999.3L1388.9 999.6L1389.9 999.8L1390.9 1000.0L1391.9 1000.1L1392.9 1000.2L1393.9 1000.3L1394.9 1000.3L1395.9 1000.4L1396.9 1000.6L1397.9 1000.7L1398.9 1000.8L1399.9 1000.8L1400.9 1000.9L1401.9 1000.9" fill="none" stroke="#f0b97a" stroke-width="2.2" stroke-linejoin="round"/>
<path d="M1386.9 1002.7L1387.9 1002.6L1388.9 1002.5L1389.9 1002.4L1390.9 1002.2L1391.9 1002.0L1392.9 1001.7L1393.9 1001.5L1394.9 1001.2L1395.9 1001.0L1396.9 1000.7L1397.9 1000.5L1398.9 1000.2L1399.9 999.9L1400.9 999.7L1401.9 999.4L1402.9 999.1L1403.9 998.8L1404.9 998.5L1405.9 998.2L1406.9 997.9L1407.9 997.6L1408.9 997.3L1409.9 997.0L1410.9 996.7L1411.9 996.4L1412.9 996.0L1413.9 995.7L1414.9 995.4L1415.9 995.0L1416.9 994.7L1417.9 994.3L1418.9 993.9L1419.9 993.5L1420.9 993.2L1421.9 992.8L1422.9 992.4L1423.9 991.9L1424.9 991.5L1425.9 991.1L1426.9 990.7L1427.9 990.2L1428.9 989.8L1429.9 989.4L1430.9 988.9L1431.9 988.5L1432.9 988.0L1433.9 987.5L1434.9 987.0L1435.9 986.5L1436.9 986.0L1437.9 985.5L1438.9 985.0L1439.9 984.5L1440.9 983.9L1441.9 983.4L1442.9 982.8L1443.9 982.2L1444.9 981.6L1445.9 981.0L1446.9 980.4L1447.9 979.8L1448.9 979.2L1449.9 978.6L1450.9 978.0L1451.9 977.5L1452.9 976.9L1453.9 976.4L1454.9 975.8L1455.9 975.3L1456.9 974.7L1457.9 974.1L1458.9 973.5L1459.9 972.9L1460.9 972.3L1461.9 971.7L1462.9 971.1L1463.9 970.5L1464.9 969.9L1465.9 969.4L1466.9 968.8L1467.9 968.2L1468.9 967.6L1469.9 967.0L1470.9 966.4L1471.9 965.8L1472.9 965.2L1473.9 964.6L1474.9 964.1L1475.9 963.5L1476.9 963.0L1477.9 962.4L1478.9 961.9L1479.9 961.4L1480.9 960.9L1481.9 960.4L1482.9 960.0L1483.9 959.6L1484.9 959.1L1485.9 958.7L1486.9 958.3L1487.9 958.0L1488.9 957.6L1489.9 957.3L1490.9 957.0L1491.9 956.7L1492.9 956.4L1493.9 956.1L1494.9 955.9L1495.9 955.7L1496.9 955.5L1497.9 955.3L1498.9 955.1L1499.9 955.0L1500.9 954.9L1501.9 954.8L1502.9 954.7L1503.9 954.7L1504.9 954.7L1505.9 954.7L1506.9 954.7L1507.9 954.7L1508.9 954.7L1509.9 954.8L1510.9 954.9L1511.9 954.9L1512.9 955.0L1513.9 955.2L1514.9 955.6L1515.9 956.0L1516.9 956.5L1517.9 956.9L1518.9 957.4L1519.9 957.8L1520.9 958.2L1521.9 958.6L1522.9 959.0L1523.9 959.4L1524.9 959.8L1525.9 960.2L1526.9 960.6L1527.9 960.9L1528.9 961.3L1529.9 961.7L1530.9 962.1L1531.9 962.4L1532.9 962.8L1533.9 963.2L1534.9 963.6L1535.9 964.0L1536.9 964.3L1537.9 964.7L1538.9 965.1L1539.9 965.5L1540.9 965.9L1541.9 966.3L1542.9 966.7L1543.9 967.0L1544.9 967.4L1545.9 967.8L1546.9 968.2L1547.9 968.6L1548.9 969.0L1549.9 969.3L1550.9 969.7L1551.9 970.1L1552.9 970.5L1553.9 970.8L1554.9 971.2L1555.9 971.6L1556.9 971.9L1557.9 972.3L1558.9 972.6L1559.9 973.0L1560.9 973.3L1561.9 973.6L1562.9 973.8L1563.9 973.9L1564.9 974.0L1565.9 974.1L1566.9 974.3L1567.9 974.5L1568.9 974.8L1569.9 975.0L1570.9 975.3L1571.9 975.6L1572.9 976.0L1573.9 976.3L1574.9 976.7L1575.9 977.0L1576.9 977.4L1577.9 977.7L1578.9 978.1L1579.9 978.4L1580.9 978.7L1581.9 979.0L1582.9 979.3L1583.9 979.6L1584.9 979.9L1585.9 980.2L1586.9 980.5L1587.9 980.7L1588.9 981.0L1589.9 981.3L1590.9 981.5L1591.9 981.8L1592.9 982.0L1593.9 982.2L1594.9 982.5L1595.9 982.7L1596.9 982.9L1597.9 983.1L1598.9 983.3L1599.9 983.5L1600.9 983.7L1601.9 983.9L1602.9 984.0L1603.9 984.2L1604.9 984.4L1605.9 984.5L1606.9 984.7L1607.9 984.8L1608.9 985.0L1609.9 985.1L1610.9 985.2L1611.9 985.4L1612.9 985.5L1613.9 985.6L1614.9 985.7L1615.9 985.8L1616.9 985.9L1617.9 986.0L1618.9 986.1L1619.9 986.2L1620.9 986.3L1621.9 986.4L1622.9 986.5L1623.9 986.6L1624.9 986.6L1625.9 986.7L1626.9 986.8L1627.9 986.8L1628.9 986.9L1629.9 986.9L1630.9 987.0L1631.9 987.0L1632.9 987.1L1633.9 987.1L1634.9 987.2L1635.9 987.2L1636.9 987.3L1637.9 987.3L1638.9 987.3L1639.9 987.4L1640.9 987.0L1640.9 987.0L1639.9 988.0L1638.9 988.0L1637.9 988.0L1636.9 988.0L1635.9 988.0L1634.9 988.0L1633.9 988.0L1632.9 988.0L1631.9 988.0L1630.9 988.0L1629.9 988.1L1628.9 988.1L1627.9 988.1L1626.9 988.1L1625.9 988.1L1624.9 988.1L1623.9 988.1L1622.9 988.1L1621.9 988.1L1620.9 988.1L1619.9 988.1L1618.9 988.1L1617.9 988.1L1616.9 988.1L1615.9 988.1L1614.9 988.1L1613.9 988.1L1612.9 988.1L1611.9 988.1L1610.9 988.1L1609.9 988.2L1608.9 988.2L1607.9 988.2L1606.9 988.2L1605.9 988.2L1604.9 988.2L1603.9 988.2L1602.9 988.2L1601.9 988.2L1600.9 988.2L1599.9 988.2L1598.9 988.2L1597.9 988.2L1596.9 988.2L1595.9 988.2L1594.9 988.2L1593.9 988.2L1592.9 988.2L1591.9 988.2L1590.9 988.2L1589.9 988.3L1588.9 988.3L1587.9 988.3L1586.9 988.3L1585.9 988.3L1584.9 988.3L1583.9 988.3L1582.9 988.3L1581.9 988.3L1580.9 988.3L1579.9 988.3L1578.9 988.3L1577.9 988.3L1576.9 988.3L1575.9 988.3L1574.9 988.3L1573.9 988.3L1572.9 988.3L1571.9 988.3L1570.9 988.3L1569.9 988.4L1568.9 988.4L1567.9 988.4L1566.9 988.4L1565.9 988.4L1564.9 988.4L1563.9 988.4L1562.9 988.4L1561.9 988.4L1560.9 988.4L1559.9 988.4L1558.9 988.4L1557.9 988.4L1556.9 988.4L1555.9 988.5L1554.9 988.5L1553.9 988.5L1552.9 988.5L1551.9 988.5L1550.9 988.5L1549.9 988.5L1548.9 988.5L1547.9 988.6L1546.9 988.6L1545.9 988.6L1544.9 988.6L1543.9 988.6L1542.9 988.6L1541.9 988.6L1540.9 988.6L1539.9 988.7L1538.9 988.7L1537.9 988.7L1536.9 988.7L1535.9 988.7L1534.9 988.7L1533.9 988.7L1532.9 988.7L1531.9 988.8L1530.9 988.8L1529.9 988.8L1528.9 988.8L1527.9 988.8L1526.9 988.8L1525.9 988.8L1524.9 988.8L1523.9 988.9L1522.9 988.9L1521.9 988.9L1520.9 988.9L1519.9 988.9L1518.9 988.9L1517.9 989.0L1516.9 989.0L1515.9 989.0L1514.9 989.0L1513.9 989.1L1512.9 989.1L1511.9 989.1L1510.9 989.2L1509.9 989.2L1508.9 989.2L1507.9 989.2L1506.9 989.3L1505.9 989.3L1504.9 989.3L1503.9 989.3L1502.9 989.4L1501.9 989.4L1500.9 989.4L1499.9 989.5L1498.9 989.5L1497.9 989.5L1496.9 989.5L1495.9 989.6L1494.9 989.6L1493.9 989.6L1492.9 989.6L1491.9 989.7L1490.9 989.7L1489.9 989.7L1488.9 989.8L1487.9 989.8L1486.9 989.8L1485.9 989.8L1484.9 989.9L1483.9 989.9L1482.9 989.9L1481.9 989.9L1480.9 990.0L1479.9 990.0L1478.9 990.1L1477.9 990.1L1476.9 990.2L1475.9 990.2L1474.9 990.3L1473.9 990.4L1472.9 990.4L1471.9 990.5L1470.9 990.5L1469.9 990.6L1468.9 990.7L1467.9 990.7L1466.9 990.8L1465.9 990.8L1464.9 990.9L1463.9 991.0L1462.9 991.0L1461.9 991.1L1460.9 991.1L1459.9 991.2L1458.9 991.3L1457.9 991.3L1456.9 991.4L1455.9 991.4L1454.9 991.5L1453.9 991.6L1452.9 991.6L1451.9 991.7L1450.9 991.7L1449.9 991.8L1448.9 992.0L1447.9 992.1L1446.9 992.3L1445.9 992.5L1444.9 992.6L1443.9 992.8L1442.9 993.0L1441.9 993.1L1440.9 993.3L1439.9 993.4L1438.9 993.6L1437.9 993.8L1436.9 993.9L1435.9 994.1L1434.9 994.3L1433.9 994.4L1432.9 994.6L1431.9 994.7L1430.9 994.9L1429.9 995.1L1428.9 995.2L1427.9 995.4L1426.9 995.6L1425.9 995.8L1424.9 996.0L1423.9 996.1L1422.9 996.3L1421.9 996.5L1420.9 996.7L1419.9 996.9L1418.9 997.1L1417.9 997.3L1416.9 997.5L1415.9 997.7L1414.9 997.9L1413.9 998.1L1412.9 998.3L1411.9 998.5L1410.9 998.7L1409.9 998.9L1408.9 999.1L1407.9 999.3L1406.9 999.5L1405.9 999.7L1404.9 999.9L1403.9 1000.1L1402.9 1000.3L1401.9 1000.5L1400.9 1000.7L1399.9 1000.9L1398.9 1001.1L1397.9 1001.3L1396.9 1001.5L1395.9 1001.7L1394.9 1001.9L1393.9 1002.1L1392.9 1002.3L1391.9 1002.5L1390.9 1002.7L1389.9 1002.8L1388.9 1002.9L1387.9 1003.0L1386.9 1003.0Z" fill="rgba(60,60,185,0.44)" stroke="none"/>
<path d="M1386.9 1002.7L1387.9 1002.6L1388.9 1002.5L1389.9 1002.4L1390.9 1002.2L1391.9 1002.0L1392.9 1001.7L1393.9 1001.5L1394.9 1001.2L1395.9 1001.0L1396.9 1000.7L1397.9 1000.5L1398.9 1000.2L1399.9 999.9L1400.9 999.7L1401.9 999.4L1402.9 999.1L1403.9 998.8L1404.9 998.5L1405.9 998.2L1406.9 997.9L1407.9 997.6L1408.9 997.3L1409.9 997.0L1410.9 996.7L1411.9 996.4L1412.9 996.0L1413.9 995.7L1414.9 995.4L1415.9 995.0L1416.9 994.7L1417.9 994.3L1418.9 993.9L1419.9 993.5L1420.9 993.2L1421.9 992.8L1422.9 992.4L1423.9 991.9L1424.9 991.5L1425.9 991.1L1426.9 990.7L1427.9 990.2L1428.9 989.8L1429.9 989.4L1430.9 988.9L1431.9 988.5L1432.9 988.0L1433.9 987.5L1434.9 987.0L1435.9 986.5L1436.9 986.0L1437.9 985.5L1438.9 985.0L1439.9 984.5L1440.9 983.9L1441.9 983.4L1442.9 982.8L1443.9 982.2L1444.9 981.6L1445.9 981.0L1446.9 980.4L1447.9 979.8L1448.9 979.2L1449.9 978.6L1450.9 978.0L1451.9 977.5L1452.9 976.9L1453.9 976.4L1454.9 975.8L1455.9 975.3L1456.9 974.7L1457.9 974.1L1458.9 973.5L1459.9 972.9L1460.9 972.3L1461.9 971.7L1462.9 971.1L1463.9 970.5L1464.9 969.9L1465.9 969.4L1466.9 968.8L1467.9 968.2L1468.9 967.6L1469.9 967.0L1470.9 966.4L1471.9 965.8L1472.9 965.2L1473.9 964.6L1474.9 964.1L1475.9 963.5L1476.9 963.0L1477.9 962.4L1478.9 961.9L1479.9 961.4L1480.9 960.9L1481.9 960.4L1482.9 960.0L1483.9 959.6L1484.9 959.1L1485.9 958.7L1486.9 958.3L1487.9 958.0L1488.9 957.6L1489.9 957.3L1490.9 957.0L1491.9 956.7L1492.9 956.4L1493.9 956.1L1494.9 955.9L1495.9 955.7L1496.9 955.5L1497.9 955.3L1498.9 955.1L1499.9 955.0L1500.9 954.9L1501.9 954.8L1502.9 954.7L1503.9 954.7L1504.9 954.7L1505.9 954.7L1506.9 954.7L1507.9 954.7L1508.9 954.7L1509.9 954.8L1510.9 954.9L1511.9 954.9L1512.9 955.0L1513.9 955.2L1514.9 955.6L1515.9 956.0L1516.9 956.5L1517.9 956.9L1518.9 957.4L1519.9 957.8L1520.9 958.2L1521.9 958.6L1522.9 959.0L1523.9 959.4L1524.9 959.8L1525.9 960.2L1526.9 960.6L1527.9 960.9L1528.9 961.3L1529.9 961.7L1530.9 962.1L1531.9 962.4L1532.9 962.8L1533.9 963.2L1534.9 963.6L1535.9 964.0L1536.9 964.3L1537.9 964.7L1538.9 965.1L1539.9 965.5L1540.9 965.9L1541.9 966.3L1542.9 966.7L1543.9 967.0L1544.9 967.4L1545.9 967.8L1546.9 968.2L1547.9 968.6L1548.9 969.0L1549.9 969.3L1550.9 969.7L1551.9 970.1L1552.9 970.5L1553.9 970.8L1554.9 971.2L1555.9 971.6L1556.9 971.9L1557.9 972.3L1558.9 972.6L1559.9 973.0L1560.9 973.3L1561.9 973.6L1562.9 973.8L1563.9 973.9L1564.9 974.0L1565.9 974.1L1566.9 974.3L1567.9 974.5L1568.9 974.8L1569.9 975.0L1570.9 975.3L1571.9 975.6L1572.9 976.0L1573.9 976.3L1574.9 976.7L1575.9 977.0L1576.9 977.4L1577.9 977.7L1578.9 978.1L1579.9 978.4L1580.9 978.7L1581.9 979.0L1582.9 979.3L1583.9 979.6L1584.9 979.9L1585.9 980.2L1586.9 980.5L1587.9 980.7L1588.9 981.0L1589.9 981.3L1590.9 981.5L1591.9 981.8L1592.9 982.0L1593.9 982.2L1594.9 982.5L1595.9 982.7L1596.9 982.9L1597.9 983.1L1598.9 983.3L1599.9 983.5L1600.9 983.7L1601.9 983.9L1602.9 984.0L1603.9 984.2L1604.9 984.4L1605.9 984.5L1606.9 984.7L1607.9 984.8L1608.9 985.0L1609.9 985.1L1610.9 985.2L1611.9 985.4L1612.9 985.5L1613.9 985.6L1614.9 985.7L1615.9 985.8L1616.9 985.9L1617.9 986.0L1618.9 986.1L1619.9 986.2L1620.9 986.3L1621.9 986.4L1622.9 986.5L1623.9 986.6L1624.9 986.6L1625.9 986.7L1626.9 986.8L1627.9 986.8L1628.9 986.9L1629.9 986.9L1630.9 987.0L1631.9 987.0L1632.9 987.1L1633.9 987.1L1634.9 987.2L1635.9 987.2L1636.9 987.3L1637.9 987.3L1638.9 987.3L1639.9 987.4L1640.9 987.0" fill="none" stroke="#6cc4a0" stroke-width="2.0" stroke-linejoin="round"/>
<path d="M1385.9 1002.8L1386.9 1002.6L1387.9 1002.4L1388.9 1002.2L1389.9 1002.0L1390.9 1001.7L1391.9 1001.3L1392.9 1000.8L1393.9 1000.3L1394.9 999.7L1395.9 999.1L1396.9 998.3L1397.9 997.6L1398.9 996.7L1399.9 995.8L1400.9 994.7L1401.9 993.6L1402.9 992.4L1403.9 991.0L1404.9 989.6L1405.9 988.1L1406.9 986.4L1407.9 984.7L1408.9 982.8L1409.9 980.9L1410.9 978.9L1411.9 976.9L1412.9 974.8L1413.9 972.7L1414.9 970.5L1415.9 968.4L1416.9 966.4L1417.9 964.4L1418.9 962.4L1419.9 960.6L1420.9 958.9L1421.9 957.4L1422.9 956.1L1423.9 954.9L1424.9 953.9L1425.9 953.2L1426.9 952.7L1427.9 952.5L1428.9 952.5L1429.9 952.7L1430.9 953.2L1431.9 953.8L1432.9 954.7L1433.9 955.8L1434.9 957.0L1435.9 958.4L1436.9 959.9L1437.9 961.5L1438.9 963.2L1439.9 964.9L1440.9 966.7L1441.9 968.4L1442.9 970.2L1443.9 971.9L1444.9 973.6L1445.9 975.2L1446.9 976.7L1447.9 978.1L1448.9 979.5L1449.9 980.7L1450.9 981.9L1451.9 983.1L1452.9 984.1L1453.9 985.0L1454.9 985.9L1455.9 986.6L1456.9 987.2L1457.9 987.8L1458.9 988.3L1459.9 988.7L1460.9 989.1L1461.9 989.4L1462.9 989.6L1463.9 989.8L1464.9 989.9L1465.9 990.1L1466.9 990.2L1467.9 990.2L1468.9 990.3L1469.9 990.3L1469.9 990.6L1468.9 990.7L1467.9 990.7L1466.9 990.8L1465.9 990.8L1464.9 990.9L1463.9 991.0L1462.9 991.0L1461.9 991.1L1460.9 991.1L1459.9 991.2L1458.9 991.3L1457.9 991.3L1456.9 991.4L1455.9 991.4L1454.9 991.5L1453.9 991.6L1452.9 991.6L1451.9 991.7L1450.9 991.7L1449.9 991.8L1448.9 992.0L1447.9 992.1L1446.9 992.3L1445.9 992.5L1444.9 992.6L1443.9 992.8L1442.9 993.0L1441.9 993.1L1440.9 993.3L1439.9 993.4L1438.9 993.6L1437.9 993.8L1436.9 993.9L1435.9 994.1L1434.9 994.3L1433.9 994.4L1432.9 994.6L1431.9 994.7L1430.9 994.9L1429.9 995.1L1428.9 995.2L1427.9 995.4L1426.9 995.6L1425.9 995.8L1424.9 996.0L1423.9 996.1L1422.9 996.3L1421.9 996.5L1420.9 996.7L1419.9 996.9L1418.9 997.1L1417.9 997.3L1416.9 997.5L1415.9 997.7L1414.9 997.9L1413.9 998.1L1412.9 998.3L1411.9 998.5L1410.9 998.7L1409.9 998.9L1408.9 999.1L1407.9 999.3L1406.9 999.5L1405.9 999.7L1404.9 999.9L1403.9 1000.1L1402.9 1000.3L1401.9 1000.5L1400.9 1000.7L1399.9 1000.9L1398.9 1001.1L1397.9 1001.3L1396.9 1001.5L1395.9 1001.7L1394.9 1001.9L1393.9 1002.1L1392.9 1002.3L1391.9 1002.5L1390.9 1002.7L1389.9 1002.8L1388.9 1002.9L1387.9 1003.0L1386.9 1003.0L1385.9 1003.1Z" fill="rgba(255,150,210,0.72)" stroke="none"/>
<path d="M1385.9 1002.8L1386.9 1002.6L1387.9 1002.4L1388.9 1002.2L1389.9 1002.0L1390.9 1001.7L1391.9 1001.3L1392.9 1000.8L1393.9 1000.3L1394.9 999.7L1395.9 999.1L1396.9 998.3L1397.9 997.6L1398.9 996.7L1399.9 995.8L1400.9 994.7L1401.9 993.6L1402.9 992.4L1403.9 991.0L1404.9 989.6L1405.9 988.1L1406.9 986.4L1407.9 984.7L1408.9 982.8L1409.9 980.9L1410.9 978.9L1411.9 976.9L1412.9 974.8L1413.9 972.7L1414.9 970.5L1415.9 968.4L1416.9 966.4L1417.9 964.4L1418.9 962.4L1419.9 960.6L1420.9 958.9L1421.9 957.4L1422.9 956.1L1423.9 954.9L1424.9 953.9L1425.9 953.2L1426.9 952.7L1427.9 952.5L1428.9 952.5L1429.9 952.7L1430.9 953.2L1431.9 953.8L1432.9 954.7L1433.9 955.8L1434.9 957.0L1435.9 958.4L1436.9 959.9L1437.9 961.5L1438.9 963.2L1439.9 964.9L1440.9 966.7L1441.9 968.4L1442.9 970.2L1443.9 971.9L1444.9 973.6L1445.9 975.2L1446.9 976.7L1447.9 978.1L1448.9 979.5L1449.9 980.7L1450.9 981.9L1451.9 983.1L1452.9 984.1L1453.9 985.0L1454.9 985.9L1455.9 986.6L1456.9 987.2L1457.9 987.8L1458.9 988.3L1459.9 988.7L1460.9 989.1L1461.9 989.4L1462.9 989.6L1463.9 989.8L1464.9 989.9L1465.9 990.1L1466.9 990.2L1467.9 990.2L1468.9 990.3L1469.9 990.3" fill="none" stroke="#d39ff0" stroke-width="2.6" stroke-linejoin="round"/>
<path d="M1190.9 1016.8L1191.9 1016.8L1192.9 1016.8L1193.9 1016.7L1194.9 1016.7L1195.9 1016.7L1196.9 1016.7L1197.9 1016.7L1198.9 1016.6L1199.9 1016.6L1200.9 1016.6L1201.9 1016.6L1202.9 1016.5L1203.9 1016.5L1204.9 1016.5L1205.9 1016.5L1206.9 1016.5L1207.9 1016.4L1208.9 1016.4L1209.9 1016.4L1210.9 1016.4L1211.9 1016.4L1212.9 1016.3L1213.9 1016.3L1214.9 1016.3L1215.9 1016.3L1216.9 1016.3L1217.9 1016.2L1218.9 1016.2L1219.9 1016.2L1220.9 1016.2L1221.9 1016.2L1222.9 1016.1L1223.9 1016.1L1224.9 1016.1L1225.9 1016.1L1226.9 1016.1L1227.9 1016.0L1228.9 1016.0L1229.9 1016.0L1230.9 1016.0L1231.9 1016.0L1232.9 1015.9L1233.9 1015.9L1234.9 1015.9L1235.9 1015.9L1236.9 1015.9L1237.9 1015.8L1238.9 1015.8L1239.9 1015.8L1240.9 1015.8L1241.9 1015.8L1242.9 1015.7L1243.9 1015.7L1244.9 1015.7L1245.9 1015.7L1246.9 1015.7L1247.9 1015.6L1248.9 1015.6L1249.9 1015.6L1250.9 1015.6L1251.9 1015.6L1252.9 1015.5L1253.9 1015.5L1254.9 1015.5L1255.9 1015.5L1256.9 1015.5L1257.9 1015.4L1258.9 1015.4L1259.9 1015.4L1260.9 1015.4L1261.9 1015.4L1262.9 1015.3L1263.9 1015.3L1264.9 1015.3L1265.9 1015.3L1266.9 1015.3L1267.9 1015.2L1268.9 1015.2L1269.9 1015.2L1270.9 1015.2L1271.9 1015.2L1272.9 1015.1L1273.9 1015.1L1274.9 1015.1L1275.9 1015.1L1276.9 1015.1L1277.9 1015.0L1278.9 1015.0L1279.9 1015.0L1280.9 1015.0L1281.9 1015.0L1282.9 1014.9L1283.9 1014.9L1284.9 1014.9L1285.9 1014.9L1286.9 1014.9L1287.9 1014.8L1288.9 1014.8L1289.9 1014.8L1290.9 1014.8L1291.9 1014.8L1292.9 1014.7L1293.9 1014.7L1294.9 1014.7L1295.9 1014.7L1296.9 1014.7L1297.9 1014.6L1298.9 1014.6L1299.9 1014.6L1300.9 1014.6L1301.9 1014.5L1302.9 1014.5L1303.9 1014.5L1304.9 1014.4L1305.9 1014.4L1306.9 1014.4L1307.9 1014.3L1308.9 1014.3L1309.9 1014.3L1310.9 1014.2L1311.9 1014.2L1312.9 1014.2L1313.9 1014.2L1314.9 1014.1L1315.9 1014.1L1316.9 1014.1L1317.9 1014.0L1318.9 1014.0L1319.9 1014.0L1320.9 1013.9L1321.9 1013.9L1322.9 1013.9L1323.9 1013.8L1324.9 1013.8L1325.9 1013.8L1326.9 1013.7L1327.9 1013.7L1328.9 1013.7L1329.9 1013.6L1330.9 1013.6L1331.9 1013.4L1332.9 1013.3L1333.9 1013.1L1334.9 1012.9L1335.9 1012.8L1336.9 1012.6L1337.9 1012.4L1338.9 1012.0L1339.9 1011.5L1340.9 1011.0L1341.9 1010.5L1342.9 1010.0L1343.9 1009.5L1344.9 1008.3L1345.9 1007.0L1346.9 1005.7L1347.9 1004.4L1348.9 1003.1L1349.9 1001.5L1350.9 999.5L1351.9 997.5L1352.9 995.5L1353.9 993.5L1354.9 991.5L1355.9 989.5L1356.9 988.8L1357.9 988.0L1358.9 987.3L1359.9 986.5L1360.9 985.8L1361.9 985.9L1362.9 987.0L1363.9 988.1L1364.9 989.2L1365.9 990.3L1366.9 991.3L1367.9 992.4L1368.9 993.7L1369.9 995.0L1370.9 996.3L1371.9 997.6L1372.9 998.8L1373.9 1000.1L1374.9 1000.8L1375.9 1001.2L1376.9 1001.6L1377.9 1002.0L1378.9 1002.4L1379.9 1002.8L1380.9 1003.2L1381.9 1003.4L1382.9 1003.3L1383.9 1003.2L1384.9 1003.2L1385.9 1003.1L1386.9 1003.0L1387.9 1003.0L1388.9 1002.9L1389.9 1002.8L1390.9 1002.7L1391.9 1002.5L1392.9 1002.3L1393.9 1002.1L1394.9 1001.9L1395.9 1001.7L1396.9 1001.5L1397.9 1001.3L1398.9 1001.1L1399.9 1000.9L1400.9 1000.7L1401.9 1000.5L1402.9 1000.3L1403.9 1000.1L1404.9 999.9L1405.9 999.7L1406.9 999.5L1407.9 999.3L1408.9 999.1L1409.9 998.9L1410.9 998.7L1411.9 998.5L1412.9 998.3L1413.9 998.1L1414.9 997.9L1415.9 997.7L1416.9 997.5L1417.9 997.3L1418.9 997.1L1419.9 996.9L1420.9 996.7L1421.9 996.5L1422.9 996.3L1423.9 996.1L1424.9 996.0L1425.9 995.8L1426.9 995.6L1427.9 995.4L1428.9 995.2L1429.9 995.1L1430.9 994.9L1431.9 994.7L1432.9 994.6L1433.9 994.4L1434.9 994.3L1435.9 994.1L1436.9 993.9L1437.9 993.8L1438.9 993.6L1439.9 993.4L1440.9 993.3L1441.9 993.1L1442.9 993.0L1443.9 992.8L1444.9 992.6L1445.9 992.5L1446.9 992.3L1447.9 992.1L1448.9 992.0L1449.9 991.8L1450.9 991.7L1451.9 991.7L1452.9 991.6L1453.9 991.6L1454.9 991.5L1455.9 991.4L1456.9 991.4L1457.9 991.3L1458.9 991.3L1459.9 991.2L1460.9 991.1L1461.9 991.1L1462.9 991.0L1463.9 991.0L1464.9 990.9L1465.9 990.8L1466.9 990.8L1467.9 990.7L1468.9 990.7L1469.9 990.6L1470.9 990.5L1471.9 990.5L1472.9 990.4L1473.9 990.4L1474.9 990.3L1475.9 990.2L1476.9 990.2L1477.9 990.1L1478.9 990.1L1479.9 990.0L1480.9 990.0L1481.9 989.9L1482.9 989.9L1483.9 989.9L1484.9 989.9L1485.9 989.8L1486.9 989.8L1487.9 989.8L1488.9 989.8L1489.9 989.7L1490.9 989.7L1491.9 989.7L1492.9 989.6L1493.9 989.6L1494.9 989.6L1495.9 989.6L1496.9 989.5L1497.9 989.5L1498.9 989.5L1499.9 989.5L1500.9 989.4L1501.9 989.4L1502.9 989.4L1503.9 989.3L1504.9 989.3L1505.9 989.3L1506.9 989.3L1507.9 989.2L1508.9 989.2L1509.9 989.2L1510.9 989.2L1511.9 989.1L1512.9 989.1L1513.9 989.1L1514.9 989.0L1515.9 989.0L1516.9 989.0L1517.9 989.0L1518.9 988.9L1519.9 988.9L1520.9 988.9L1521.9 988.9L1522.9 988.9L1523.9 988.9L1524.9 988.8L1525.9 988.8L1526.9 988.8L1527.9 988.8L1528.9 988.8L1529.9 988.8L1530.9 988.8L1531.9 988.8L1532.9 988.7L1533.9 988.7L1534.9 988.7L1535.9 988.7L1536.9 988.7L1537.9 988.7L1538.9 988.7L1539.9 988.7L1540.9 988.6L1541.9 988.6L1542.9 988.6L1543.9 988.6L1544.9 988.6L1545.9 988.6L1546.9 988.6L1547.9 988.6L1548.9 988.5L1549.9 988.5L1550.9 988.5L1551.9 988.5L1552.9 988.5L1553.9 988.5L1554.9 988.5L1555.9 988.5L1556.9 988.4L1557.9 988.4L1558.9 988.4L1559.9 988.4L1560.9 988.4L1561.9 988.4L1562.9 988.4L1563.9 988.4L1564.9 988.4L1565.9 988.4L1566.9 988.4L1567.9 988.4L1568.9 988.4L1569.9 988.4L1570.9 988.3L1571.9 988.3L1572.9 988.3L1573.9 988.3L1574.9 988.3L1575.9 988.3L1576.9 988.3L1577.9 988.3L1578.9 988.3L1579.9 988.3L1580.9 988.3L1581.9 988.3L1582.9 988.3L1583.9 988.3L1584.9 988.3L1585.9 988.3L1586.9 988.3L1587.9 988.3L1588.9 988.3L1589.9 988.3L1590.9 988.2L1591.9 988.2L1592.9 988.2L1593.9 988.2L1594.9 988.2L1595.9 988.2L1596.9 988.2L1597.9 988.2L1598.9 988.2L1599.9 988.2L1600.9 988.2L1601.9 988.2L1602.9 988.2L1603.9 988.2L1604.9 988.2L1605.9 988.2L1606.9 988.2L1607.9 988.2L1608.9 988.2L1609.9 988.2L1610.9 988.1L1611.9 988.1L1612.9 988.1L1613.9 988.1L1614.9 988.1L1615.9 988.1L1616.9 988.1L1617.9 988.1L1618.9 988.1L1619.9 988.1L1620.9 988.1L1621.9 988.1L1622.9 988.1L1623.9 988.1L1624.9 988.1L1625.9 988.1L1626.9 988.1L1627.9 988.1L1628.9 988.1L1629.9 988.1L1630.9 988.0L1631.9 988.0L1632.9 988.0L1633.9 988.0L1634.9 988.0L1635.9 988.0L1636.9 988.0L1637.9 988.0L1638.9 988.0L1639.9 988.0L1640.9 987.0L1641.9 987.0L1642.9 987.0L1643.9 987.0L1644.9 987.0" fill="none" stroke="#ee1111" stroke-width="3.0" stroke-linejoin="round"/>
<path d="M1192.5 1003 V1017" stroke="#cc1133" stroke-width="2"/>
<path d="M1191.0 1006.7L1192.2 1006.9L1193.8 1007.2L1195.7 1007.5L1197.9 1007.9L1200.5 1008.4L1203.3 1009.0L1206.5 1009.8L1210.2 1010.7L1214.3 1011.7L1218.4 1012.7L1222.6 1013.6L1226.6 1014.2L1230.6 1014.6L1234.6 1014.7L1238.7 1014.8L1242.6 1014.8L1246.4 1014.7L1250.0 1014.6L1253.3 1014.5L1256.5 1014.4L1259.4 1014.3L1262.3 1014.1L1264.9 1013.8L1267.5 1013.4L1269.9 1012.9L1272.1 1012.3L1274.1 1011.6L1276.1 1010.9L1278.0 1010.1L1280.0 1009.3L1282.0 1008.5L1284.0 1007.8L1285.9 1007.1L1287.9 1006.2L1289.8 1005.0L1291.8 1003.4L1293.8 1001.4L1295.9 999.0L1298.0 996.4L1300.0 993.5L1301.9 990.6L1303.7 987.6L1305.3 984.6L1306.7 981.7L1308.0 978.6L1309.3 975.3L1310.4 971.7L1311.6 967.8L1312.7 963.4L1313.8 958.7L1314.7 953.6L1315.7 948.4L1316.6 943.2L1317.5 938.2L1318.4 933.3L1319.2 928.3L1320.0 923.4L1320.8 918.5L1321.6 913.5L1322.4 908.6L1323.2 903.7L1324.0 898.7L1324.8 893.8L1325.7 888.9L1326.5 883.9L1327.4 879.0L1328.4 874.1L1329.4 869.1L1330.4 864.2L1331.4 859.3L1332.4 854.3L1333.3 849.4L1334.1 844.3L1334.7 839.1L1335.3 833.9L1335.9 828.9L1336.5 824.1L1337.3 819.7L1338.2 816.0L1339.2 812.9L1340.2 810.0L1341.3 807.1L1342.3 803.9L1343.2 800.0L1344.0 795.3L1344.7 790.0L1345.4 784.4L1346.0 778.7L1346.7 773.0L1347.4 767.6L1348.2 762.5L1349.0 757.5L1349.9 752.6L1350.7 747.8L1351.5 742.9L1352.3 738.0L1353.0 733.0L1353.7 727.9L1354.4 722.8L1355.0 717.8L1355.6 713.0L1356.2 708.4L1356.7 704.0L1357.2 699.6L1357.7 695.4L1358.2 691.5L1358.7 687.9L1359.2 684.7L1359.8 682.2L1360.3 680.3L1360.9 678.8L1361.5 677.3L1362.3 675.4L1363.2 672.9L1364.3 669.6L1365.5 665.7L1366.9 661.5L1368.3 657.2L1369.7 653.1L1371.0 649.2L1372.3 645.7L1373.6 642.3L1374.9 639.1L1376.3 635.9L1377.6 632.7L1378.9 629.5L1380.2 626.1L1381.5 622.6L1382.7 619.1L1384.0 615.6L1385.4 612.5L1386.8 609.7L1388.3 607.2L1390.0 604.7L1391.6 602.6L1393.3 600.8L1395.0 599.5L1396.7 598.8L1398.4 598.8L1400.1 599.3L1401.8 600.4L1403.4 601.9L1405.1 603.7L1406.6 605.8L1408.1 608.3L1409.5 611.3L1410.8 614.6L1412.1 618.2L1413.3 621.8L1414.5 625.5L1415.6 629.2L1416.7 632.9L1417.7 636.7L1418.7 640.7L1419.6 644.9L1420.4 649.2L1421.2 653.8L1421.8 658.6L1422.5 663.6L1423.1 668.7L1423.7 673.8L1424.3 678.8L1425.0 683.7L1425.6 688.7L1426.2 693.6L1426.9 698.5L1427.6 703.5L1428.3 708.4L1429.1 713.3L1429.9 718.3L1430.7 723.2L1431.5 728.1L1432.4 733.1L1433.2 738.0L1434.0 742.8L1434.8 747.5L1435.6 752.2L1436.5 757.0L1437.3 762.1L1438.1 767.6L1438.9 773.8L1439.8 780.5L1440.7 787.6L1441.6 794.6L1442.4 801.2L1443.1 807.1L1443.7 812.0L1444.1 816.1L1444.5 819.8L1445.0 823.6L1445.6 827.8L1446.4 833.0L1447.5 839.3L1448.8 846.5L1450.2 854.1L1451.8 861.9L1453.4 869.3L1455.0 876.1L1456.7 882.2L1458.4 888.1L1460.2 893.6L1462.0 898.8L1463.9 903.8L1465.7 908.4L1467.4 912.7L1469.1 916.6L1470.7 920.3L1472.4 923.7L1474.3 926.9L1476.5 929.9L1478.9 932.7L1481.6 935.2L1484.4 937.5L1487.4 939.7L1490.5 941.8L1493.7 943.9L1497.0 946.0L1500.5 948.1L1504.2 950.1L1507.9 952.1L1511.6 953.9L1515.2 955.7L1518.8 957.3L1522.3 958.8L1525.9 960.2L1529.5 961.5L1533.1 962.9L1536.8 964.3L1540.7 965.8L1545.0 967.5L1549.2 969.1L1553.3 970.6L1557.0 972.0L1560.0 973.0L1562.1 973.6L1563.2 973.9L1564.0 973.9L1564.9 974.0L1566.3 974.2L1568.7 974.7L1572.3 975.7L1576.8 976.9L1581.8 978.4L1587.1 979.8L1592.4 981.2L1597.4 982.3L1602.2 983.2L1607.0 984.0L1611.8 984.7L1616.5 985.3L1621.3 985.8L1626.1 986.2L1630.9 986.5L1635.7 986.8L1640.4 987.0L1645.2 987.0L1650.0 987.0L1654.8 986.9L1659.6 986.6L1664.4 986.2L1669.2 985.7L1673.9 985.2L1678.7 984.6L1683.5 984.1L1688.3 983.6L1693.1 983.2L1697.8 982.8L1702.6 982.3L1707.4 981.8L1712.2 981.2L1717.1 980.5L1722.2 979.7L1727.3 978.8L1732.2 977.9L1736.8 977.0L1741.0 976.2L1744.8 975.4L1748.5 974.6L1751.8 973.7L1754.7 973.0L1757.2 972.4L1759.0 971.9" fill="none" stroke="#9933ff" stroke-width="3.0" stroke-linejoin="round"/>
<path d="M1487 588.8H1543.5" stroke="#000" stroke-width="3"/>
<rect x="1488.7" y="607" width="52.8" height="25" fill="#8fc98f" stroke="#f5b870" stroke-width="2.2"/>
<rect x="1488.7" y="637.1" width="52.8" height="25.1" fill="#a9a9de" stroke="#a6dcc6" stroke-width="2.2"/>
<rect x="1488.7" y="667.4" width="52.8" height="25.3" fill="#ffb3de" stroke="#dcb8f0" stroke-width="2.2"/>
<rect x="1488.8" y="697.7" width="52.6" height="25.4" fill="#8a8a8a" stroke="#ee6060" stroke-width="2.4"/>
<path d="M1487 740H1543.5" stroke="#9933ff" stroke-width="3"/>
<text transform="translate(1548.84,597.19) scale(0.9661,1)" font-size="24.81" fill="#000">O-1s Raw (N-rGO)</text>
<text transform="translate(1548.91,627.16) scale(0.9264,1)" font-size="24.08" fill="#000">O-1</text>
<text transform="translate(1548.84,657.56) scale(1.0046,1)" font-size="23.80" fill="#000">O-2</text>
<text transform="translate(1548.84,688.45) scale(0.9612,1)" font-size="24.93" fill="#000">O-3</text>
<text transform="translate(1548.86,718.45) scale(0.9381,1)" font-size="25.07" fill="#000">O-4</text>
<text transform="translate(1554.94,748.37) scale(1.0290,1)" font-size="23.27" fill="#000">Fitted Curve</text>
<rect x="1189.6" y="557.8" width="570.8" height="461" fill="none" stroke="#000" stroke-width="3.0"/>
<path d="M1189.6 1018.4V1027.7M1332.3 1018.4V1027.7M1475 1018.4V1027.7M1617.7 1018.4V1027.7M1760.4 1018.4V1027.7M1260.95 1018.4V1023.2M1403.65 1018.4V1023.2M1546.35 1018.4V1023.2M1689.05 1018.4V1023.2" stroke="#000" stroke-width="2.8" fill="none"/>
<text transform="translate(1163.93,1057.49) scale(0.9833,1)" font-size="31.27">525</text>
<text transform="translate(1306.78,1057.49) scale(0.9833,1)" font-size="31.27">530</text>
<text transform="translate(1449.33,1057.49) scale(0.9833,1)" font-size="31.27">535</text>
<text transform="translate(1592.18,1057.49) scale(0.9833,1)" font-size="31.27">540</text>
<text transform="translate(1734.73,1057.17) scale(0.9833,1)" font-size="31.27">545</text>
<text transform="translate(1331.33,1091.5) scale(1.0021,1)" font-size="30.29" fill="#000">Binding energy (eV)</text>
<text transform="translate(1167.66,886.47) rotate(-90) scale(1.0214,1)" font-size="29.73">Intensity (a.u)</text>
<text transform="translate(1229.36,618.85) scale(0.9732,1)" font-size="31.66" fill="#000">(d)</text>
</svg></body></html>
